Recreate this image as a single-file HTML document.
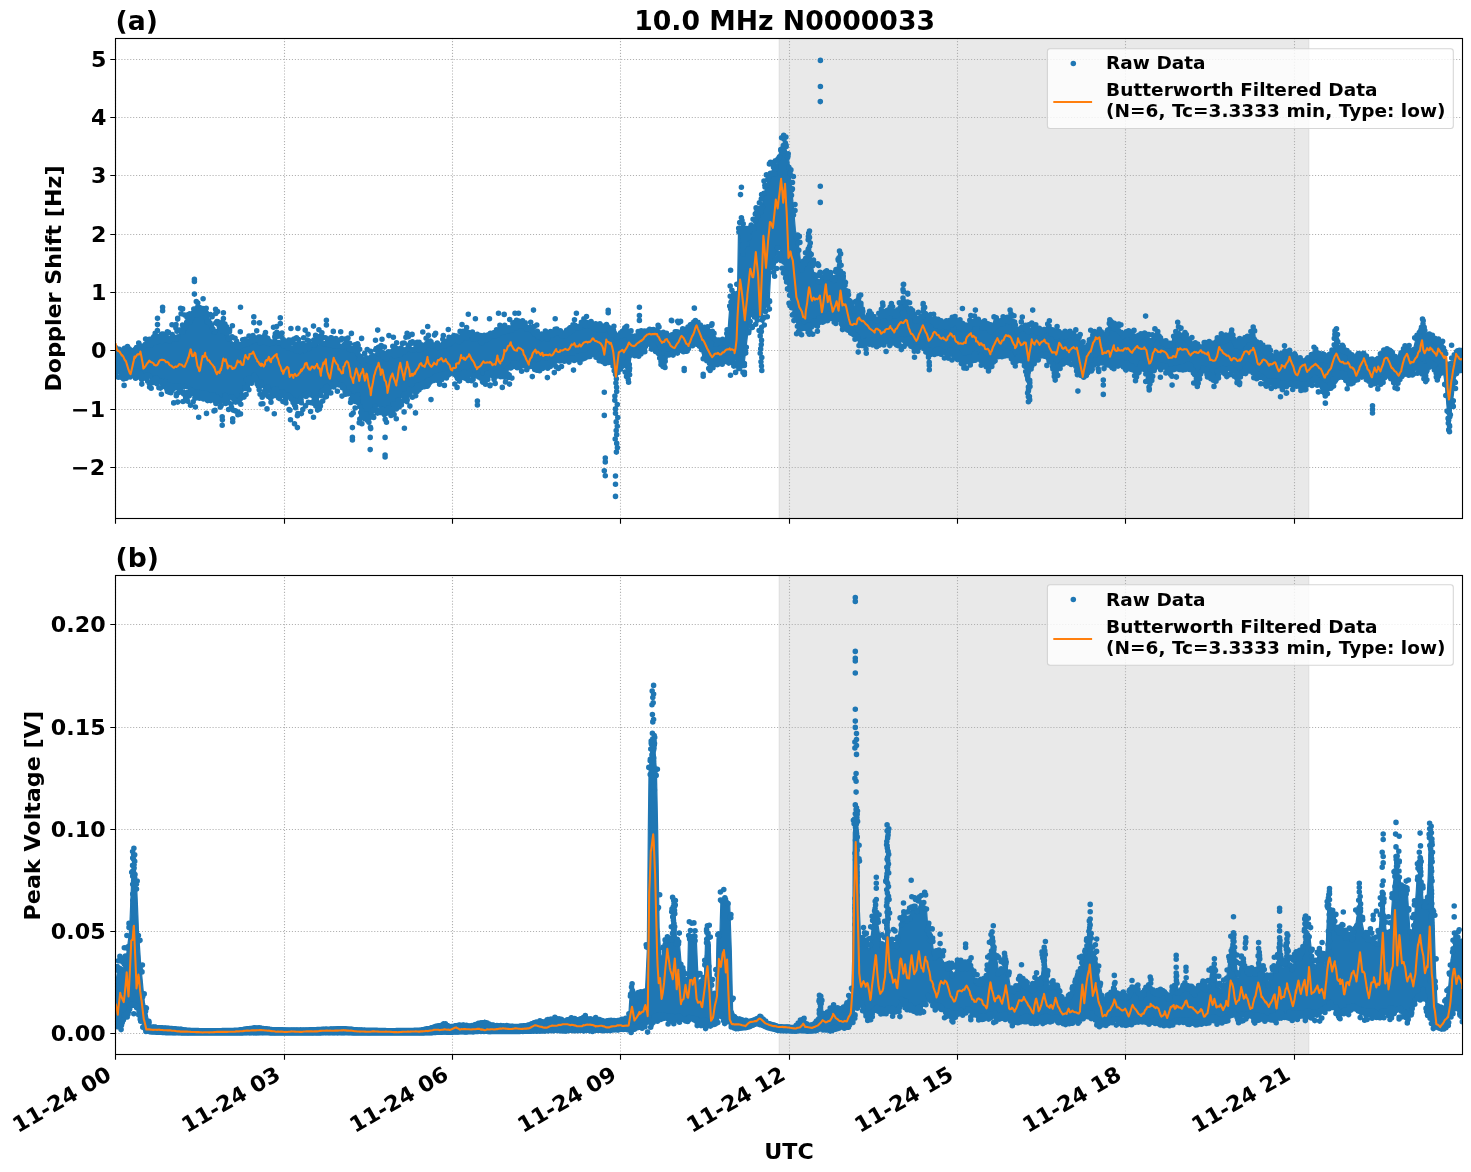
<!DOCTYPE html>
<html lang="en"><head><meta charset="utf-8"><title>10.0 MHz N0000033</title>
<style>html,body{margin:0;padding:0;background:#fff}svg{display:block}</style></head>
<body>
<svg width="1471" height="1172" viewBox="0 0 1471 1172" font-family="DejaVu Sans, 'Liberation Sans', sans-serif" font-weight="bold" fill="#000">
<defs><clipPath id="ca"><rect x="115.5" y="38.5" width="1347.0" height="480.0"/></clipPath><clipPath id="cb"><rect x="115.5" y="575.5" width="1347.0" height="479.0"/></clipPath></defs>
<rect width="1471" height="1172" fill="#fff"/>
<rect x="779.3" y="38.5" width="529.4" height="480.0" fill="#d3d3d3" fill-opacity="0.5" stroke="#d3d3d3" stroke-opacity="0.5" stroke-width="1.39" clip-path="url(#ca)"/>
<path d="M115.5,518.5V38.5M284.5,518.5V38.5M452.5,518.5V38.5M620.5,518.5V38.5M789.5,518.5V38.5M957.5,518.5V38.5M1125.5,518.5V38.5M1294.5,518.5V38.5M115.5,59.5H1462.5M115.5,117.5H1462.5M115.5,175.5H1462.5M115.5,234.5H1462.5M115.5,292.5H1462.5M115.5,350.5H1462.5M115.5,409.5H1462.5M115.5,467.5H1462.5" fill="none" stroke="#b0b0b0" stroke-width="1.11" stroke-dasharray="1.11,1.83"/>
<g clip-path="url(#ca)">
<path d="M115.5,348.8 116.7,349 117.9,349.2 119.1,349.4 120.3,349.7 121.5,349.9 122.7,350.1 123.7,350.3 123.9,350.2 125.1,350.1 126.3,350 127.5,349.8 128.7,349.7 129.6,349.6 129.9,349.5 131.1,349.1 132.3,348.7 133.5,348.2 133.6,348.2 134.7,348.1 135.9,347.9 137.1,347.7 138.3,347.6 139.4,347.4 139.5,347.4 140.7,346.8 141.9,346.3 143.1,345.7 143.4,345.6 144.3,345.2 145.5,344.6 146.7,344 147.9,343.4 149.1,342.9 149.2,342.8 150.3,342.4 151.2,342 151.5,341.9 152.7,341.5 153.9,341 155.1,340.5 156.3,340.1 157.5,339.6 158.7,339.2 159.1,339 159.9,339 161,338.9 161.1,338.9 162.3,338.8 163.5,338.8 164.7,338.7 165.9,338.6 167.1,338.5 168.3,338.4 168.9,338.4 169.5,338.2 170.7,338 171.9,337.7 173.1,337.4 174.3,337 175.5,336.5 176.7,336.1 176.7,336 177.9,335.6 178.7,335.3 179.1,334.7 180.3,333 181.5,331.3 182.7,329.6 183.9,327.9 185.1,326.3 186.3,324.6 187.5,322.9 188.5,321.5 188.7,321.3 189.9,320.1 191.1,318.9 192.3,317.7 193.5,316.5 194.4,315.6 194.7,315.5 195.9,315 197.1,314.5 198.3,314.1 199.5,313.6 200.7,313.1 201.9,312.6 203.1,312.1 204.2,311.7 204.3,312 205.5,314.7 206.7,317.4 207.9,320.1 209.1,322.8 210.3,325.5 211.5,328.2 212,329.4 212.7,329.4 213.9,329.4 215.1,329.4 216.3,329.4 217.5,329.4 217.9,329.4 218.7,329.4 219.9,329.4 221.1,329.4 222.3,329.4 223.5,329.4 223.8,329.4 224.7,330.7 225.9,332.5 227.1,334.3 227.7,335.3 228.3,336.1 229.5,337.9 230.7,339.7 231.7,341.1 231.9,341.4 233.1,342.6 234.3,343.8 235.5,345 236.7,346.2 237.6,347 237.9,347 239.1,346.7 239.5,346.6 240.3,346.5 241.5,346 242.7,345.2 243.9,344.4 245.1,343.6 246.3,342.8 247.4,342.1 247.5,342 248.7,341.5 249.9,340.9 251.1,340.4 252.3,339.8 253.5,339.2 254.7,338.7 255.2,338.5 255.9,338.4 257.1,338.4 257.2,338.4 258.3,339 259.5,339.6 260.7,340.2 261.9,340.7 263.1,341.3 263.1,341.3 264.3,341.6 265.5,341.9 266.7,342.2 267,342.2 267.9,342.2 269.1,342.1 270.3,342.1 271.5,342 272.7,341.9 273.9,341.9 275.1,341.8 276.3,341.8 277.5,341.6 278.7,341.4 278.8,341.4 279.9,341.3 280.7,341.1 281.1,341.4 282.3,342.4 283.5,343.4 284.7,344.3 285.9,345.3 286.6,345.9 287.1,346.2 288.3,347.2 289.5,348.2 290.5,349 290.7,349 291.9,349 293.1,349 294.3,349 295.5,349 296.4,349 296.7,349 297.9,349 299.1,349 300.3,349 301.5,348.9 302.7,348.6 303.9,348.3 305.1,348.1 306.2,347.8 306.3,347.8 307.5,347.6 308.7,347.5 309.9,347.3 311.1,347 312.3,346.6 313.5,346.1 314.1,345.9 314.7,345.6 315.9,345.1 316,345.1 317.1,344.6 318.3,344.2 319.5,343.7 320.7,343.2 321.9,342.7 323.1,342.2 324.3,341.8 325.5,341.2 325.9,341.1 326.7,341.4 327.9,341.9 329.1,342.5 330.3,343 331.5,343.5 332.7,344 333.9,344.5 335.1,345.1 335.7,345.3 336.3,345.4 337.5,345.5 338.7,345.5 339.9,345.6 341.1,345.7 342.3,345.8 343.5,345.9 344.7,346 345.5,346.1 345.9,346.2 347.1,346.3 348.3,346.5 349.5,346.6 350.7,346.8 351.4,346.9 351.9,347.4 353.1,348.7 353.3,348.9 354.3,349.6 355.5,350.4 356.7,351.2 357.9,352.1 359.1,352.9 359.2,353 360,358.8 360.3,358.9 361.5,359.1 362.7,359.3 363.9,359.5 365.1,359.7 366.3,359.9 367.5,360.1 368.7,360.3 369.8,360.4 369.9,360.5 371.1,360.7 371.8,360.8 372.3,359.9 373.5,357.9 374.7,355.9 375.9,353.9 377.1,351.9 377.7,350.9 378.3,351.3 379.5,352.1 380.7,352.8 381.9,353.5 383.1,354.2 384.3,354.9 385.5,355.7 385.5,355.7 386.7,356.4 387.5,356.8 387.9,356.7 389.1,356.3 390.3,355.9 391.5,355.5 392.7,355.1 393.9,354.7 395.1,354.3 395.3,354.2 396.3,353.8 397.5,353.2 398.7,352.6 399.2,352.3 399.9,352 401.1,351.3 402.3,350.7 403.5,350 404.7,349.3 405.1,349.1 405.9,348.8 407.1,348.3 408.3,347.7 409.1,347.4 409.5,347.4 410.7,347.5 411.9,347.5 413.1,347.6 414.3,347.7 414.9,347.7 415.5,347.7 416.7,347.8 417.9,347.9 418.9,348 419.1,347.8 420.3,347.2 421.5,346.5 422.7,345.8 423.9,345.1 425.1,344.4 426.3,343.7 426.7,343.4 427.5,342.9 428.7,342.2 428.7,342.2 429.9,342.7 431.1,343.1 432.3,343.5 433.5,344 434.7,344.4 435.9,344.9 437.1,345.3 438.3,345.7 438.5,345.8 439.5,345.4 440.7,344.9 441.9,344.5 443.1,344 444.3,343.5 445.5,343 446.7,342.5 447.9,342.1 448.3,341.9 449.1,341.7 450.3,341.3 451.5,341 452.7,340.7 453.9,340.3 455.1,340 456.3,339.7 457.5,339.4 458.1,339.2 458.7,338.9 459.9,338.5 461.1,338 462,337.6 462.3,337.5 463.5,337.2 464.7,336.9 465.9,336.5 467.1,336.2 468.3,335.9 469.5,335.6 469.9,335.5 470.7,335.9 471.9,336.5 473.1,337 474.3,337.6 475.5,338.2 476.7,338.8 477.9,339.4 479.1,339.9 479.7,340.2 480.3,340.4 481.5,340.9 481.7,341 482.7,340.4 483.9,339.7 485.1,339 486.3,338.3 487.5,337.6 488.7,337 489.9,336.3 491.1,335.6 492.3,334.9 493.4,334.3 493.5,334.2 494.7,333.7 495.9,333.2 497.1,332.8 498.3,332.3 499.5,331.8 500.7,331.3 501.9,330.8 503.1,330.3 503.2,330.2 504.3,329.7 505.2,329.2 505.5,329.1 506.7,328.7 507.9,328.4 509.1,328.1 510.3,327.7 511.5,327.4 512.7,327 513.1,326.9 513.9,326.8 515.1,326.5 516.3,326.3 517,326.1 517.5,326.1 518.7,326.2 519.9,326.2 521.1,326.3 522.3,326.3 522.9,326.4 523.5,326.5 524.7,326.7 525.9,326.9 527.1,327.2 528.3,327.4 529.5,327.6 530.7,327.9 530.7,327.9 531.9,329.1 532.7,330 533.1,330.4 534.3,331.5 535.5,332.7 536.7,333.8 537.9,334.9 538.6,335.6 539.1,335.6 540.3,335.7 541.5,335.8 542.5,335.9 542.7,336 543.9,336.1 545.1,336.3 546.3,336.4 547.5,336.6 548.4,336.7 548.7,336.4 549.9,335.4 551.1,334.4 552.3,333.4 553.5,332.4 554.3,331.7 554.7,331.3 555.9,330.3 556.2,330 557.1,330.4 558.3,331.1 559.5,331.7 560.7,332.4 561.9,333 563.1,333.7 564.1,334.2 564.3,334.1 565.5,333.3 566.7,332.6 567.9,331.8 569.1,331.1 570.3,330.4 571.5,329.6 572.7,328.9 573.9,328.2 573.9,328.2 575.1,327.7 576.3,327.3 577.5,326.9 578.7,326.5 579.9,326.1 581.1,325.7 582.3,325.3 583.5,324.8 583.7,324.8 584.7,324.4 585.7,324.1 585.9,324.1 587.1,324.5 588.3,324.8 589.5,325.1 590.7,325.4 591.9,325.7 593.1,326 593.5,326.1 594.3,326.4 595.5,326.9 595.5,326.9 596.7,327.1 597.9,327.4 599.1,327.6 600.3,327.9 601.4,328.1 601.5,328.1 602.7,328.4 603.9,328.7 605.1,328.9 606.3,329.2 607.5,329.4 608.7,329.7 609.2,329.8 609.9,329.8 610,329.8 611.1,331 612.3,332.3 613.5,333.5 613.9,334 614.7,334.4 615.9,334.9 617.1,335.5 617.9,335.9 618.3,335.7 619.5,335.1 620.7,334.6 621.8,334.1 621.9,334.1 623.1,334.2 624.3,334.3 625.5,334.3 625.7,334.4 626.7,335.3 627.9,336.5 628.6,337.2 629.1,336.8 630.3,335.6 631.5,334.4 631.6,334.4 632.7,335.1 633.5,335.6 633.9,335.6 635.1,335.3 636.3,335.1 637.5,334.8 638.7,334.6 639.4,334.4 639.9,334.2 641.1,333.6 642.3,333 643.5,332.5 644.7,331.9 645.9,331.3 647.1,330.8 648.3,330.2 649.2,329.7 649.5,329.8 650.7,329.8 651.9,329.9 653.1,330 654.3,330.1 655.5,330.2 656.7,330.2 657.1,330.3 657.9,330.4 659.1,330.7 659.1,330.7 660.3,331.7 661.5,332.8 662.7,333.8 663,334 663.9,334.1 665.1,334.3 666.3,334.4 667.5,334.6 668.7,334.7 668.9,334.8 669.9,334.8 671.1,334.8 672.3,334.8 672.8,334.8 673.5,334.5 674.7,333.9 675.9,333.4 677.1,332.8 678.3,332.2 678.7,332.1 679.5,331.8 680.7,331.5 681.9,331.1 683.1,330.7 684.3,330.4 684.6,330.3 685.5,329.6 686.7,328.8 687.9,328 688.5,327.6 689.1,326.9 690.3,325.3 691.5,323.8 692.4,322.6 692.7,322.3 693.9,320.8 694.4,320.3 695.1,320.9 696.3,322 697.5,323.1 698.3,323.8 698.7,324.4 699.9,326.1 701.1,327.8 702.2,329.5 702.3,329.5 703.5,330 704.2,330.3 704.7,330.5 705.9,330.9 707.1,331.4 708.3,331.8 709.5,332.3 710.1,332.5 710.7,332.4 711.9,332.3 712,332.3 713.1,334.7 714.3,337.3 715.5,340 716.7,342.6 717,343.2 717.9,342.5 719.1,341.6 719.9,341 720.3,340.8 721.5,339.9 721.9,339.7 722.7,339.9 723.9,340.2 725.1,340.5 726.3,340.9 726.8,341 727.5,336.6 727.7,335.3 728.7,321.5 729.7,308.1 729.9,307.8 731.1,306 732.3,303.6 733.5,301.2 734.7,298.8 735.6,297 735.9,296.4 737.1,294 737.5,293.2 738.3,242.6 738.5,230.4 739.5,230.4 740.7,230.4 741.9,230.4 742.4,230.4 743.1,235.8 744.3,245.4 744.4,246.1 744.4,246 745.5,243.5 746.7,240.7 747.4,239.1 747.9,237.9 749.1,235.1 750.3,232.3 750.3,232.3 751.3,230.3 751.5,229.9 752.7,227.5 753.9,225.1 755.1,222.7 756.1,220.6 756.3,220.2 757.5,217.4 758.7,214.6 759.9,211.8 761.1,209 762,206.8 762.3,205.1 763.5,197.3 764,194.1 764.7,191.7 765,190.6 765.9,187.6 767.1,183.6 768.3,179.5 768.9,177.4 769,177.4 769.5,176.7 770.7,175.4 770.9,175.2 771.9,174 773.1,172.6 773.8,171.8 774.3,171.3 775.5,169.9 775.8,169.6 776.7,165.4 777.7,160.7 777.9,160 779.1,154.6 779.7,151.9 780.3,151.1 781.5,149.4 782.6,147.8 782.7,147.7 783.9,146 784.6,145 785.1,146.6 785.6,148.2 786.3,150.5 787.5,154.4 788.5,157.8 788.7,159.5 789.9,171.5 790.1,173.8 791.1,183.4 791.5,187.2 792.3,195.4 792.5,197.4 793.4,206.8 793.5,207.6 794,213.9 794.7,222 795.4,230.4 795.9,232.9 797.1,238.9 798.3,244.9 798.4,245.3 799.3,250 799.5,251.8 800.7,263.8 801.3,269.6 801.9,268.4 803.1,266 804.3,263.7 804.3,263.6 805.2,261.8 805.5,260.4 806.7,254.7 807.9,249 809.1,243.3 809.1,243.1 810.3,251 811.5,259.1 812.7,267.2 813.1,269.6 813.9,273 814.1,273.5 815.1,276.7 816.3,280.4 817,282.6 817.5,282.1 818.7,280.9 819.9,279.8 821.1,278.6 822.3,277.4 823.5,276.3 824.7,275.1 825.9,274 825.9,273.9 826.8,273.3 827.1,273.5 828.3,274.6 829.5,275.7 830.7,276.7 831.9,277.8 833.1,278.9 834.3,280 834.6,280.3 835.5,277.5 835.7,277 836.7,273.7 837.9,269.9 839.1,265.6 839.5,263.8 840.3,267.5 841.5,272.7 842.7,277.7 843.5,280.9 843.9,282.2 845.1,285.8 845.5,286.9 846.3,289.5 847.5,293.3 848.4,296 848.7,296.8 849.9,300 851.1,303.2 852.3,306.3 853.5,309.5 854.3,311.5 854.7,310.6 855.3,309.4 855.9,308.2 857.1,305.8 858.3,303.5 859.2,301.8 859.5,302.1 860,302.5 860.7,304.3 861.9,307.5 863.1,310.6 864.3,313.8 865.5,316.9 865.9,317.9 866.7,317.4 867.9,316.7 867.9,316.7 869.1,316.1 870.3,315.5 871.5,314.8 871.8,314.7 872.7,315.5 873.9,316.5 875.1,317.5 876.3,318.6 877.5,319.6 877.7,319.7 878.7,317.7 879.9,315.3 881.1,313 882.3,310.6 882.6,310.1 883.5,311.6 884.7,313.5 885.9,315.5 887.1,317.4 887.5,318 888.3,316.5 889.5,314.3 890.7,312 891.4,310.7 891.9,311.1 893.1,311.9 894.3,312.8 895.5,313.6 896.7,314.4 897.3,314.8 897.9,313 899.1,309.5 900.3,306 901.5,302.5 902.2,300.5 902.7,300.8 903.2,301.2 903.9,301.6 905.1,302.3 906.3,303 907.1,303.5 907.5,304.3 908.7,306.9 909.1,307.6 909.9,309.7 911.1,312.7 912.3,315.7 913,317.4 913.5,317.8 914.7,318.8 915,319 915.9,319.4 917.1,319.9 918.3,320.4 918.9,320.6 919.5,319.3 920.7,316.6 921.9,314 922.8,312.1 923.1,312.4 924.3,313.8 925.5,315.1 926.7,316.5 927.9,317.8 928.7,318.7 929.1,318.9 930.3,319.6 931.5,320.3 932.7,321 933.9,321.7 935.1,322.4 936.3,323.1 937.5,323.8 938.5,324.4 938.7,324.4 939.9,324.5 941.1,324.7 942.3,324.8 943.5,324.9 944.7,325.1 945.9,325.2 946.3,325.3 947.1,325.2 948.3,325 949.5,323.9 950.7,322.8 951.9,321.7 953.1,320.6 954.2,319.6 954.3,319.7 955.5,320.9 956.7,322.1 957.9,323.3 959.1,324.5 960.3,325.7 961.5,326.9 962,327.4 962.7,327.4 963.9,327.3 965.1,327.2 966.3,327.2 967,327.1 967.5,326.9 968.7,326.5 969.9,326.1 969.9,326.1 971.1,324.9 972.3,323.7 973.5,322.6 973.8,322.3 974.7,321.6 975.8,320.7 975.9,320.9 977.1,321.9 978.3,322.9 979.5,324 980.7,325 981.7,325.8 981.9,326 983.1,326.6 984.3,327.3 985.5,328 986.7,328.7 987.9,329.3 988.5,329.7 989.1,329.8 989.5,329.9 990.3,329.2 991.5,328.2 992.7,327.1 993.9,326.1 995.1,325.1 996.3,324 997.4,323.1 997.5,323.1 998.7,322.9 999.9,322.7 1001.1,322.5 1002.3,322.3 1003.5,322.1 1004.7,321.9 1005.2,321.8 1005.9,321.3 1007.1,320.4 1007.2,320.3 1008.3,319.5 1009.5,318.7 1010.1,318.3 1010.7,319.2 1011.9,321.2 1013.1,323.1 1014.3,325.1 1015.5,327.1 1016,327.9 1016.7,328.9 1017,329.3 1017.9,328.6 1019.1,327.7 1020.3,326.8 1021.5,325.9 1022.7,325 1022.9,324.8 1023.9,325 1024.8,325.2 1025.1,325.6 1026.3,327.3 1026.8,328 1027.5,329.7 1028.4,330.2 1028.7,330.4 1029.9,329.7 1029.9,329.6 1031.1,329.2 1032.3,328.7 1032.7,328.5 1033.5,328.7 1034.7,329 1035.9,329.3 1036.6,329.5 1037.1,329.7 1038.3,330.4 1039.5,331.1 1040.5,331.7 1040.7,331.6 1041.9,331 1043.1,330.5 1044.3,329.9 1045.5,329.3 1046.4,328.8 1046.7,328.8 1047.9,328.8 1049.1,328.8 1049.4,328.8 1050.3,329.8 1051.3,330.8 1051.5,331 1052.7,332 1053.9,333 1055.1,334.1 1055.2,334.2 1056.2,334.5 1056.3,334.5 1057.5,334.5 1058.7,334.6 1059.9,334.7 1061.1,334.7 1062.1,334.7 1062.3,334.8 1063.5,335.1 1064.1,335.2 1064.7,335 1065.9,334.5 1067.1,334.1 1068.3,333.6 1069.5,333.1 1070.7,332.7 1071.9,332.2 1071.9,332.2 1073.1,333.4 1074.3,334.7 1075.5,335.9 1076.7,337.2 1077.8,338.4 1077.9,338.4 1079.1,339.3 1079.8,339.7 1080.3,340.8 1081.5,343.2 1082.7,345.6 1083.7,347.6 1083.9,347.9 1085.1,349.9 1085.7,350.9 1086.3,349.4 1087.5,346.5 1088.7,343.6 1089.6,341.5 1089.9,340.8 1091.1,337.8 1091.5,336.8 1092.3,336.2 1093.5,335.3 1094.7,334.4 1095.5,333.9 1095.9,333.6 1097.1,333 1098.3,332.3 1099.5,331.7 1100.7,331 1101.4,330.6 1101.9,331.7 1103.1,334 1104.3,336.4 1105.3,338.3 1105.5,337.5 1106.7,333.1 1107.9,328.6 1109.1,324.1 1109.2,323.7 1110,324.1 1110.3,324.2 1111.5,324.9 1112.7,325.6 1113.9,326.3 1115.1,327 1116.3,327.7 1117.5,328.4 1117.8,328.6 1118.7,329.5 1119.8,330.6 1119.9,330.7 1121.1,332.1 1122.3,333.4 1123.5,334.8 1123.7,335.1 1124.7,334.6 1125.9,334 1127.1,333.3 1128.3,332.7 1129.5,332.1 1129.6,332.1 1130.7,333 1131.9,334 1133.1,335.1 1134.3,336.1 1135.5,337.1 1135.5,337.1 1136.7,337.5 1137.5,337.7 1137.9,337.4 1139.1,336.3 1140.3,335.3 1141.4,334.4 1141.5,334.4 1142.7,334.2 1143.9,334.1 1145.1,334 1146.3,333.8 1147.5,336.7 1148.7,339.6 1149.2,340.9 1149.9,341.8 1151.1,343.6 1151.2,343.7 1152.3,341.4 1153.5,338.8 1154.7,336.2 1155.1,335.3 1155.9,334 1156.1,333.7 1157.1,334.8 1158.3,336.2 1159.5,337.6 1160.7,339 1161.9,340.4 1163,341.7 1163.1,341.7 1164.3,342.3 1165.5,342.9 1166.7,343.5 1167.9,344.1 1168.9,344.6 1169.1,344.7 1170.3,345.3 1170.8,345.5 1171.5,344.2 1172.7,341.7 1173.9,339.3 1175.1,336.8 1176.3,334.4 1177.5,331.9 1177.7,331.5 1178.7,332.4 1178.7,332.4 1179.9,333.2 1181.1,334 1182.3,334.8 1183.5,335.6 1184.7,336.4 1185.5,336.9 1185.9,337.2 1187.1,338.2 1188.3,339.1 1188.5,339.3 1189.5,340.5 1190.7,342 1191.9,343.5 1192.4,344.1 1193.1,344.6 1194.3,345.5 1195.5,346.3 1196.7,347.2 1197.3,347.6 1197.9,347.7 1199.1,347.8 1200.3,348 1200.3,348 1201.5,347.3 1202.7,346.6 1203.9,345.9 1204.2,345.8 1205.1,345.8 1206.2,345.7 1206.3,345.9 1207.5,346.8 1208.7,347.8 1209.9,348.7 1211.1,349.7 1212,350.4 1212.3,349.9 1213.5,347.6 1214.7,345.3 1215.9,343 1217.1,340.7 1217.9,339.1 1218.3,339.1 1219.5,339 1219.9,339 1220.7,339 1221.9,339.1 1223.1,339.2 1224.3,339.2 1225.5,339.3 1225.8,339.3 1226.7,338.9 1227.9,338.4 1229.1,337.9 1229.7,337.6 1230.3,337.4 1231.5,337.1 1231.7,337.1 1232.7,338.8 1233.9,340.8 1235.1,342.7 1236.3,344.7 1237.5,346.7 1237.5,346.8 1238.7,346 1239.5,345.4 1239.9,345 1241.1,343.6 1242.3,342.3 1243.5,340.9 1244.7,339.5 1245.4,338.7 1245.9,338.3 1247.1,337.3 1247.4,337.1 1248.3,336.9 1249.5,336.5 1250.7,336.2 1251.9,335.8 1253.1,335.5 1253.2,335.5 1254.3,337.8 1255.2,339.9 1255.5,340.5 1256.7,343.1 1257.9,345.7 1259.1,348.3 1259.1,348.4 1260.3,348.5 1261.1,348.6 1261.5,348.7 1262.7,348.9 1263.9,349 1265,349.2 1265.1,349.3 1266.3,350.8 1267.5,352.2 1268.7,353.7 1269,354 1269.9,355 1270.9,356 1271.1,356.1 1272.3,356.1 1273.5,356.2 1274.7,356.3 1275.9,356.3 1276.8,356.4 1277.1,356.4 1278.3,356.6 1278.8,356.7 1279.5,356.3 1280.7,355.7 1281.9,355.2 1283.1,354.6 1284.3,354 1285.5,353.4 1286.6,352.8 1286.7,352.8 1287.9,352 1288.6,351.7 1289.1,352 1290.3,352.7 1291.5,353.4 1292.7,354.1 1293.9,354.8 1295.1,355.5 1296.3,356.2 1296.4,356.3 1297.5,357 1298.7,357.7 1299.9,358.5 1301.1,359.3 1302.3,360 1303.5,360.8 1304.3,361.3 1304.7,361 1305.9,360.2 1307.1,359.4 1307.2,359.3 1308.3,358.4 1309.5,357.3 1310.7,356.3 1311.9,355.2 1313.1,354.2 1314.1,353.3 1314.3,353.2 1315.1,352.8 1315.5,353.2 1316.7,354.1 1317.9,355 1319.1,355.9 1320.3,356.8 1321.5,357.8 1321.9,358.1 1322.7,358.3 1323.9,358.6 1325.1,359 1325.9,359.2 1326.3,359 1327.5,358.7 1328.7,358.3 1329.8,358 1329.9,357.6 1331.1,354.3 1331.7,352.6 1332.3,351.1 1333.5,347.8 1333.7,347.3 1334.7,343.3 1335.9,338.5 1336.3,337.1 1337.1,339.7 1337.6,341.3 1338.3,343.5 1339.5,347.5 1339.6,347.8 1340.7,348.1 1341.9,348.4 1343.1,348.7 1343.5,348.8 1344.3,349.4 1345.5,350.3 1346.7,351.2 1347.4,351.8 1347.9,352.4 1349.1,354.1 1350.3,355.8 1351.5,357.5 1352.7,359.2 1353.3,360 1353.9,359.5 1355.1,358.4 1355.3,358.3 1356.3,357.2 1357.5,356 1358.7,354.8 1359.2,354.3 1359.9,354.1 1361.1,353.6 1362.3,353.1 1363,352.8 1363.5,353.4 1363.9,353.8 1364.7,354.7 1365.9,356 1367.1,357.4 1368.3,358.7 1369.5,360 1370.7,361.3 1371,361.7 1371.9,361.7 1372.8,361.7 1373.1,361.6 1374.3,361.5 1375.5,361.3 1376.4,361.2 1376.7,360.9 1377.9,359.7 1379.1,358.5 1380.3,357.2 1381.5,356 1381.8,355.7 1382.7,354.5 1383.6,353.4 1383.9,353.3 1385.1,352.8 1386.3,352.4 1387.5,351.9 1388.7,351.5 1389,351.4 1389.9,351.6 1390.8,351.8 1391.1,352.3 1392.3,353.9 1393.5,355.5 1394.7,357.2 1395.9,358.8 1396.1,359.1 1397.1,359.8 1397.9,360.4 1398.3,359.6 1399.5,356.9 1400.7,354.3 1401.9,351.6 1403.1,349 1403.3,348.6 1404.3,348.3 1405.5,347.9 1406.7,347.5 1407.8,347.1 1407.9,347.3 1409.1,349.3 1410.3,351.2 1411.5,353.2 1412.2,354.4 1412.7,352.5 1413.9,347.5 1415.1,342.4 1415.8,339.3 1416.3,338.3 1417.5,335.8 1418.7,333.3 1419.4,331.8 1419.9,331 1420.3,330.3 1421.1,329.4 1422.3,328.1 1422.5,327.9 1423.5,330.6 1424.7,333.6 1425.7,336.1 1425.9,335.9 1427.1,335.1 1428.3,334.4 1429.3,333.7 1429.5,333.8 1430.2,334.1 1430.7,334.9 1431.9,336.6 1433.1,338.4 1434.3,340.1 1434.6,340.6 1435.5,340.7 1436.7,340.8 1437.3,340.9 1437.9,340.5 1439.1,339.8 1440,339.3 1440.3,339.9 1441.5,342.3 1442.7,344.6 1443.9,349.1 1444.5,351.4 1445.1,353.5 1445.4,354.5 1446.3,358.9 1447.2,363.1 1447.5,364.1 1448.1,365.8 1448.7,367.1 1449.5,368.4 1449.9,368.7 1450.8,368.5 1451.1,367.4 1452.3,363.5 1452.5,362.7 1453.5,359.1 1454.7,354.5 1455.2,352.5 1455.9,351.9 1457,350.8 1457.1,350.8 1458.3,350.8 1459.5,350.7 1460.7,350.6 1461.9,350.5 1462,350.5 1462,369.8 1461.9,369.8 1460.7,370.2 1459.5,370.5 1458.3,370.9 1457.1,371.2 1457,371.3 1455.9,375.9 1455.2,378.6 1454.7,383.2 1453.5,393.5 1452.5,401.7 1452.3,403.2 1451.1,410.7 1450.8,412.8 1449.9,417.5 1449.5,420.1 1448.7,416 1448.1,413 1447.5,410.3 1447.2,408.7 1446.3,397.6 1445.4,386 1445.1,384 1444.5,379.7 1443.9,375.6 1442.7,367.1 1441.5,368.1 1440.3,369.1 1440,369.4 1439.1,370.6 1437.9,372.3 1437.3,373.2 1436.7,372.2 1435.5,370.3 1434.6,369 1434.3,368.3 1433.1,366.1 1431.9,363.8 1430.7,361.6 1430.2,360.5 1429.5,362.3 1429.3,363 1428.3,365.8 1427.1,369.3 1425.9,372.8 1425.7,373.5 1424.7,371.8 1423.5,369.8 1422.5,368.1 1422.3,367.9 1421.1,366.9 1420.3,366.2 1419.9,365.9 1419.4,365.6 1418.7,366.3 1417.5,367.6 1416.3,368.9 1415.8,369.4 1415.1,370.5 1413.9,372.3 1412.7,374.1 1412.2,374.8 1411.5,374.6 1410.3,374.1 1409.1,373.7 1407.9,373.2 1407.8,373.2 1406.7,373.3 1405.5,373.4 1404.3,373.4 1403.3,373.5 1403.1,373.9 1401.9,376 1400.7,378.1 1399.5,380.2 1398.3,382.3 1397.9,383 1397.1,383.9 1396.1,384.9 1395.9,384.5 1394.7,382.4 1393.5,380.3 1392.3,378.2 1391.1,376.1 1390.8,375.5 1389.9,374.2 1389,372.8 1388.7,373.1 1387.5,374.6 1386.3,376.1 1385.1,377.6 1383.9,379.1 1383.6,379.5 1382.7,380.8 1381.8,382.1 1381.5,382.1 1380.3,382.4 1379.1,382.7 1377.9,383 1376.7,383.2 1376.4,383.3 1375.5,383.3 1374.3,383.4 1373.1,383.4 1372.8,383.4 1371.9,383 1371,382.6 1370.7,382.3 1369.5,381.5 1368.3,380.6 1367.1,379.8 1365.9,378.9 1364.7,378.1 1363.9,377.5 1363.5,377.3 1363,377 1362.3,376.9 1361.1,376.8 1359.9,376.6 1359.2,376.5 1358.7,377 1357.5,378.2 1356.3,379.4 1355.3,380.4 1355.1,380.5 1353.9,381.2 1353.3,381.6 1352.7,381.6 1351.5,381.7 1350.3,381.8 1349.1,381.9 1347.9,381.9 1347.4,382 1346.7,380.4 1345.5,377.9 1344.3,375.3 1343.5,373.7 1343.1,373.8 1341.9,374 1340.7,374.3 1339.6,374.5 1339.5,374.5 1338.3,373.9 1337.6,373.5 1337.1,373.7 1336.3,374 1335.9,374.7 1334.7,377 1333.7,378.9 1333.5,379.3 1332.3,381.2 1331.7,382.2 1331.1,383.4 1329.9,385.7 1329.8,385.9 1328.7,387.4 1327.5,389 1326.3,390.6 1325.9,391.2 1325.1,390.3 1323.9,388.8 1322.7,387.4 1321.9,386.4 1321.5,386 1320.3,384.9 1319.1,383.8 1317.9,382.6 1316.7,381.5 1315.5,380.3 1315.1,379.9 1314.3,379.4 1314.1,379.3 1313.1,380.3 1311.9,381.6 1310.7,382.9 1309.5,384.2 1308.3,385.5 1307.2,386.7 1307.1,386.7 1305.9,386.8 1304.7,386.9 1304.3,386.9 1303.5,386.8 1302.3,386.5 1301.1,386.3 1299.9,386 1298.7,385.8 1297.5,385.5 1296.4,385.3 1296.3,385.3 1295.1,385.2 1293.9,385.1 1292.7,385.1 1291.5,385 1290.3,384.9 1289.1,384.9 1288.6,384.8 1287.9,385 1286.7,385.2 1286.6,385.2 1285.5,385 1284.3,384.8 1283.1,384.6 1281.9,384.3 1280.7,384.1 1279.5,383.8 1278.8,383.7 1278.3,383.5 1277.1,383.1 1276.8,383 1275.9,383.2 1274.7,383.4 1273.5,383.6 1272.3,383.8 1271.1,384 1270.9,384.1 1269.9,384 1269,384 1268.7,383.8 1267.5,382.8 1266.3,381.7 1265.1,380.7 1265,380.6 1263.9,379.9 1262.7,379.2 1261.5,378.5 1261.1,378.2 1260.3,377.8 1259.1,377.2 1259.1,377.1 1257.9,375.9 1256.7,374.7 1255.5,373.5 1255.2,373.2 1254.3,371.9 1253.2,370.3 1253.1,370.2 1251.9,369.1 1250.7,368 1249.5,366.9 1248.3,365.8 1247.4,365 1247.1,365.4 1245.9,367.2 1245.4,368 1244.7,369.1 1243.5,371.1 1242.3,373 1241.1,374.9 1239.9,376.9 1239.5,377.5 1238.7,377.1 1237.5,376.6 1237.5,376.5 1236.3,375.3 1235.1,374.2 1233.9,373 1232.7,371.8 1231.7,370.8 1231.5,370.7 1230.3,370 1229.7,369.7 1229.1,369.8 1227.9,370.1 1226.7,370.4 1225.8,370.7 1225.5,370.7 1224.3,370.9 1223.1,371 1221.9,371.2 1220.7,371.4 1219.9,371.5 1219.5,371.8 1218.3,372.6 1217.9,372.8 1217.1,373.8 1215.9,375.1 1214.7,376.4 1213.5,377.8 1212.3,379.1 1212,379.4 1211.1,378.2 1209.9,376.7 1208.7,375.2 1207.5,373.7 1206.3,372.2 1206.2,372.1 1205.1,370.9 1204.2,370 1203.9,370.4 1202.7,372 1201.5,373.6 1200.3,375.2 1200.3,375.2 1199.1,376.6 1197.9,378.1 1197.3,378.8 1196.7,377.9 1195.5,376.1 1194.3,374.4 1193.1,372.6 1192.4,371.6 1191.9,370.8 1190.7,368.9 1189.5,367.1 1188.5,365.5 1188.3,365.6 1187.1,366.1 1185.9,366.6 1185.5,366.8 1184.7,367.2 1183.5,367.7 1182.3,368.3 1181.1,368.9 1179.9,369.4 1178.7,370 1178.7,370 1177.7,369.6 1177.5,369.6 1176.3,369.9 1175.1,370.2 1173.9,370.4 1172.7,370.7 1171.5,371 1170.8,371.1 1170.3,371 1169.1,370.6 1168.9,370.5 1167.9,370 1166.7,369.4 1165.5,368.8 1164.3,368.2 1163.1,367.6 1163,367.5 1161.9,367.3 1160.7,366.9 1159.5,366.6 1158.3,366.3 1157.1,366 1156.1,365.7 1155.9,365.8 1155.1,366.1 1154.7,367.2 1153.5,370.5 1152.3,373.7 1151.2,376.6 1151.1,376.8 1149.9,379.1 1149.2,380.3 1148.7,379 1147.5,376.1 1146.3,373.3 1145.1,371.1 1143.9,368.9 1142.7,366.7 1141.5,364.6 1141.4,364.4 1140.3,366 1139.1,367.8 1137.9,369.6 1137.5,370.2 1136.7,371.1 1135.5,372.6 1135.5,372.6 1134.3,371.1 1133.1,369.6 1131.9,368.2 1130.7,366.7 1129.6,365.4 1129.5,365.4 1128.3,365.3 1127.1,365.3 1125.9,365.2 1124.7,365.2 1123.7,365.1 1123.5,365 1122.3,364.5 1121.1,364.1 1119.9,363.6 1119.8,363.5 1118.7,363.4 1117.8,363.4 1117.5,363.4 1116.3,363.4 1115.1,363.4 1113.9,363.5 1112.7,363.5 1111.5,363.5 1110.3,363.6 1110,363.6 1109.2,362 1109.1,362.1 1107.9,363.3 1106.7,364.6 1105.5,365.8 1105.3,366 1104.3,364.2 1103.1,362.1 1101.9,359.9 1101.4,359 1100.7,359.2 1099.5,359.7 1098.3,360.1 1097.1,360.6 1095.9,361.1 1095.5,361.2 1094.7,362.2 1093.5,363.6 1092.3,365 1091.5,365.9 1091.1,366.6 1089.9,368.5 1089.6,369 1088.7,370.3 1087.5,372 1086.3,373.8 1085.7,374.7 1085.1,375 1083.9,375.6 1083.7,375.7 1082.7,374.9 1081.5,373.9 1080.3,372.9 1079.8,372.4 1079.1,372.1 1077.9,371.4 1077.8,371.4 1076.7,369.1 1075.5,366.6 1074.3,364.2 1073.1,361.7 1071.9,359.3 1071.9,359.3 1070.7,359.8 1069.5,360.3 1068.3,360.8 1067.1,361.2 1065.9,361.7 1064.7,362.2 1064.1,362.4 1063.5,362.6 1062.3,362.9 1062.1,362.9 1061.1,364.1 1059.9,365.4 1058.7,366.7 1057.5,368 1056.3,369.3 1056.2,369.4 1055.2,370.4 1055.1,370.2 1053.9,368.6 1052.7,367 1051.5,365.3 1051.3,365.1 1050.3,362.9 1049.4,361 1049.1,360.5 1047.9,358.3 1046.7,356 1046.4,355.5 1045.5,355.8 1044.3,356.1 1043.1,356.4 1041.9,356.7 1040.7,357 1040.5,357.1 1039.5,357.1 1038.3,357.1 1037.1,357.2 1036.6,357.2 1035.9,358.2 1034.7,360 1033.5,361.8 1032.7,363.1 1032.3,364.6 1031.1,369.3 1029.9,373.9 1029.9,374.3 1028.7,386.3 1028.4,390 1027.5,380.2 1026.8,373.6 1026.3,371.5 1025.1,366.5 1024.8,365.4 1023.9,361.7 1022.9,357.7 1022.7,357.7 1021.5,358.2 1020.3,358.7 1019.1,359.1 1017.9,359.6 1017,360 1016.7,359.9 1016,359.9 1015.5,359.4 1014.3,358.4 1013.1,357.3 1011.9,356.2 1010.7,355.2 1010.1,354.7 1009.5,354.4 1008.3,354 1007.2,353.6 1007.1,353.6 1005.9,353.6 1005.2,353.6 1004.7,353.6 1003.5,353.4 1002.3,353.3 1001.1,353.2 999.9,353 998.7,352.9 997.5,352.7 997.4,352.7 996.3,354 995.1,355.5 993.9,357 992.7,358.4 991.5,359.9 990.3,361.4 989.5,362.3 989.1,362.8 988.5,363.3 987.9,362.8 986.7,361.9 985.5,360.9 984.3,360 983.1,359 981.9,358.1 981.7,357.9 980.7,357.5 979.5,357 978.3,356.6 977.1,356.1 975.9,355.7 975.8,355.6 974.7,355.6 973.8,355.6 973.5,355.8 972.3,356.9 971.1,358 969.9,359 969.9,359 968.7,359.9 967.5,360.8 967,361.2 966.3,360.8 965.1,360.1 963.9,359.4 962.7,358.6 962,358.2 961.5,357.7 960.3,356.5 959.1,355.3 957.9,354.1 956.7,352.9 955.5,351.7 954.3,350.5 954.2,350.4 953.1,351.2 951.9,352 950.7,352.8 949.5,353.7 948.3,354.5 947.1,355.1 946.3,355.5 945.9,355.3 944.7,354.6 943.5,354 942.3,353.4 941.1,352.8 939.9,352.2 938.7,351.6 938.5,351.5 937.5,351.7 936.3,351.9 935.1,352.1 933.9,352.3 932.7,352.5 931.5,352.7 930.3,353 929.1,353.2 928.7,353.2 927.9,352 926.7,350.2 925.5,348.3 924.3,346.5 923.1,344.6 922.8,344.1 921.9,345.1 920.7,346.4 919.5,347.7 918.9,348.4 918.3,348.6 917.1,349.2 915.9,349.8 915,350.3 914.7,349.9 913.5,348.1 913,347.4 912.3,346.1 911.1,343.9 909.9,341.7 909.1,340.1 908.7,340 907.5,339.8 907.1,339.7 906.3,339.8 905.1,339.9 903.9,340.1 903.2,340.2 902.7,340.1 902.2,340 901.5,340.4 900.3,341.1 899.1,341.8 897.9,342.5 897.3,342.9 896.7,342.7 895.5,342.5 894.3,342.2 893.1,341.9 891.9,341.7 891.4,341.6 890.7,341.9 889.5,342.5 888.3,343 887.5,343.4 887.1,343.3 885.9,342.9 884.7,342.6 883.5,342.2 882.6,341.9 882.3,342 881.1,342.6 879.9,343.2 878.7,343.8 877.7,344.4 877.5,344.3 876.3,343.9 875.1,343.5 873.9,343 872.7,342.6 871.8,342.3 871.5,342.3 870.3,342.2 869.1,342.2 867.9,342.2 867.9,342.2 866.7,342.8 865.9,343.2 865.5,343.1 864.3,342.9 863.1,342.6 861.9,342.4 860.7,342.1 860,342 859.5,341.2 859.2,340.7 858.3,339.8 857.1,338.6 855.9,337.4 855.3,336.8 854.7,336.6 854.3,336.5 853.5,335.4 852.3,333.8 851.1,332.2 849.9,330.5 848.7,328.9 848.4,328.4 847.5,327.1 846.3,325.4 845.5,324.2 845.1,323.8 843.9,322.6 843.5,322.2 842.7,321.2 841.5,319.7 840.3,318.5 839.5,318.2 839.1,318 837.9,318 836.7,318.5 835.7,318.9 835.5,318.9 834.6,319.3 834.3,319.1 833.1,318.5 831.9,317.9 830.7,317.3 829.5,316.7 828.3,316.1 827.1,315.4 826.8,315.3 825.9,315.2 825.9,315.2 824.7,316.2 823.5,317.2 822.3,318.2 821.1,319.3 819.9,320.3 818.7,321.3 817.5,322.4 817,322.8 816.3,322.8 815.1,322.7 814.1,322.7 813.9,322.6 813.1,323.3 812.7,323.6 811.5,324.5 810.3,325.5 809.1,326.4 809.1,326.5 807.9,327.4 806.7,328.4 805.5,329.3 805.2,329.6 804.3,330.3 804.3,330.3 803.1,328.8 801.9,327.2 801.3,326.4 800.7,325.6 799.5,324 799.3,323.7 798.4,322.5 798.3,322.3 797.1,319.7 795.9,317.1 795.4,316 794.7,314.5 794,313 793.5,310.9 793.4,310.6 792.5,306.8 792.3,306.1 791.5,303.2 791.1,301.4 790.1,297 789.9,295.9 788.7,290.3 788.5,289.5 787.5,284 786.3,277.6 785.6,273.8 785.1,271.2 784.6,268.5 783.9,264.7 782.7,258.3 782.6,258.1 781.5,254.2 780.3,250.3 779.7,248.3 779.1,248.9 777.9,250.1 777.7,250.2 776.7,253.9 775.8,257.1 775.5,258.1 774.3,262.2 773.8,264 773.1,264.9 771.9,266.5 770.9,267.9 770.7,271.3 769.5,295.6 769,306.8 768.9,293.4 768.3,296.4 767.1,302.4 765.9,308.3 765,312.7 764.7,312.7 764,312.7 763.5,312.7 762.3,312.7 762,312.7 761.1,312.7 759.9,312.7 758.7,312.7 757.5,312.7 756.3,312.7 756.1,312.7 755.1,312.7 753.9,312.7 752.7,312.7 751.5,312.7 751.3,312.7 750.3,318.6 750.3,318.8 749.1,325.8 747.9,333 747.4,336.2 746.7,341.9 745.5,352.4 744.4,361.7 744.4,361.7 744.3,361.7 743.1,361.4 742.4,361.3 741.9,361.2 740.7,360.9 739.5,360.6 738.5,360.4 738.3,360.4 737.5,360.2 737.1,360.1 735.9,359.8 735.6,359.8 734.7,359 733.5,357.9 732.3,356.8 731.1,355.8 729.9,355.3 729.7,355.2 728.7,357.6 727.7,360 727.5,360.2 726.8,360.7 726.3,360.7 725.1,360.9 723.9,361.1 722.7,361.3 721.9,361.4 721.5,361.6 720.3,362 719.9,362.2 719.1,362.6 717.9,363.1 717,363.6 716.7,363.5 715.5,363.3 714.3,363.1 713.1,362.9 712,362.7 711.9,362.7 710.7,363.1 710.1,363.3 709.5,362.4 708.3,360.4 707.1,358.4 705.9,356.5 704.7,354.5 704.2,353.7 703.5,352.4 702.3,350.1 702.2,350 701.1,347.6 699.9,345 698.7,342.4 698.3,341.6 697.5,341.8 696.3,342.2 695.1,342.6 694.4,342.8 693.9,343.2 692.7,344.1 692.4,344.4 691.5,345.3 690.3,346.6 689.1,347.9 688.5,348.5 687.9,349.1 686.7,350.2 685.5,351.3 684.6,352.2 684.3,352 683.1,351.1 681.9,350.3 680.7,349.4 679.5,348.6 678.7,348 678.3,348.5 677.1,350.2 675.9,351.9 674.7,353.6 673.5,355.2 672.8,356.2 672.3,355.8 671.1,354.9 669.9,354 668.9,353.2 668.7,353.4 667.5,355.3 666.3,357.1 665.1,358.9 663.9,360.7 663,362.1 662.7,361.6 661.5,359.5 660.3,357.5 659.1,355.4 659.1,355.3 657.9,353.4 657.1,352.2 656.7,351.8 655.5,350.6 654.3,349.4 653.1,348.2 651.9,347.1 650.7,345.9 649.5,344.7 649.2,344.4 648.3,345.4 647.1,346.7 645.9,347.9 644.7,349.2 643.5,350.4 642.3,351.6 641.1,352.9 639.9,354.1 639.4,354.6 638.7,354.5 637.5,354.3 636.3,354.2 635.1,354 633.9,353.8 633.5,353.8 632.7,353.5 631.6,353.1 631.5,353.7 630.3,362 629.1,370.3 628.6,373.5 627.9,372.2 626.7,370.1 625.7,368.3 625.5,368 624.3,366.1 623.1,364.2 621.9,362.4 621.8,362.1 620.7,362.9 619.5,363.7 618.3,364.5 617.9,364.8 617.1,365.2 615.9,365.7 614.7,366.3 613.9,366.7 613.5,365.8 612.3,363.2 611.1,360.5 610,358.1 609.9,358.5 609.2,360.6 608.7,360.4 607.5,359.8 606.3,359.3 605.1,358.8 603.9,358.3 602.7,357.8 601.5,357.2 601.4,357.2 600.3,356.7 599.1,356.2 597.9,355.7 596.7,355.1 595.5,354.6 595.5,354.6 594.3,354 593.5,353.7 593.1,353.8 591.9,354.1 590.7,354.4 589.5,354.7 588.3,355 587.1,355.3 585.9,355.6 585.7,355.7 584.7,356 583.7,356.4 583.5,356.5 582.3,357 581.1,357.4 579.9,357.9 578.7,358.4 577.5,358.8 576.3,359.3 575.1,359.8 573.9,360.2 573.9,360.2 572.7,360.2 571.5,360.2 570.3,360.2 569.1,360.1 567.9,360.1 566.7,360.1 565.5,360.1 564.3,360.1 564.1,360.1 563.1,360.3 561.9,360.5 560.7,360.7 559.5,360.9 558.3,361.2 557.1,361.4 556.2,361.5 555.9,361.7 554.7,362.3 554.3,362.5 553.5,362.8 552.3,363.2 551.1,363.6 549.9,363.9 548.7,364.3 548.4,364.4 547.5,364.5 546.3,364.6 545.1,364.8 543.9,364.9 542.7,365 542.5,365 541.5,365.3 540.3,365.6 539.1,366 538.6,366.2 537.9,366.2 536.7,366.3 535.5,366.4 534.3,366.6 533.1,366.7 532.7,366.7 531.9,366.3 530.7,365.6 530.7,365.6 529.5,365.2 528.3,364.8 527.1,364.3 525.9,363.9 524.7,363.5 523.5,363.1 522.9,362.9 522.3,363 521.1,363.4 519.9,363.7 518.7,364.1 517.5,364.5 517,364.6 516.3,364.9 515.1,365.3 513.9,365.7 513.1,366 512.7,366.3 511.5,367.1 510.3,367.9 509.1,368.7 507.9,369.6 506.7,370.4 505.5,371.2 505.2,371.4 504.3,372.1 503.2,372.9 503.1,372.9 501.9,373 500.7,373.1 499.5,373.2 498.3,373.3 497.1,373.4 495.9,373.5 494.7,373.6 493.5,373.8 493.4,373.8 492.3,374 491.1,374.3 489.9,374.6 488.7,374.9 487.5,375.2 486.3,375.5 485.1,375.8 483.9,376 482.7,376.3 481.7,376.6 481.5,376.6 480.3,376.6 479.7,376.6 479.1,376.4 477.9,375.9 476.7,375.4 475.5,374.9 474.3,374.4 473.1,373.9 471.9,373.4 470.7,372.9 469.9,372.5 469.5,372.6 468.3,373 467.1,373.4 465.9,373.8 464.7,374.2 463.5,374.5 462.3,374.9 462,375 461.1,375.3 459.9,375.8 458.7,376.2 458.1,376.4 457.5,376.2 456.3,375.9 455.1,375.6 453.9,375.3 452.7,375 451.5,374.8 450.3,374.5 449.1,374.2 448.3,374 447.9,374.1 446.7,374.6 445.5,375.1 444.3,375.6 443.1,376 441.9,376.5 440.7,377 439.5,377.5 438.5,377.9 438.3,378 437.1,378.5 435.9,379 434.7,379.5 433.5,380 432.3,380.6 431.1,381.1 429.9,381.6 428.7,382.1 428.7,382.1 427.5,382.9 426.7,383.4 426.3,383.6 425.1,384.3 423.9,384.9 422.7,385.5 421.5,386.1 420.3,386.8 419.1,387.4 418.9,387.5 417.9,387.9 416.7,388.3 415.5,388.7 414.9,389 414.3,389.2 413.1,389.8 411.9,390.3 410.7,390.9 409.5,391.4 409.1,391.6 408.3,392 407.1,392.7 405.9,393.4 405.1,393.8 404.7,394.3 403.5,395.5 402.3,396.8 401.1,398.1 399.9,399.3 399.2,400 398.7,400.6 397.5,401.8 396.3,403.1 395.3,404.2 395.1,404.4 393.9,405.6 392.7,406.8 391.5,408 390.3,409.2 389.1,410.4 387.9,411.6 387.5,412 386.7,412.8 385.5,414 385.5,414 384.3,412.8 383.1,411.6 381.9,410.4 380.7,409.1 379.5,407.9 378.3,406.8 377.7,406.1 377.1,406.9 375.9,408.7 374.7,410.5 373.5,412.3 372.3,414.1 371.8,414.9 371.1,415.9 369.9,417.7 369.8,417.9 368.7,417 367.5,416 366.3,415.1 365.1,414.1 363.9,413.2 362.7,412.2 361.5,411.2 360.3,410.3 360,410 359.2,396.2 359.1,396.3 357.9,396.7 356.7,397.1 355.5,397.6 354.3,398 353.3,398.3 353.1,398.1 351.9,396.6 351.4,396 350.7,395.3 349.5,394.1 348.3,392.9 347.1,391.7 345.9,390.5 345.5,390.1 344.7,389.5 343.5,388.5 342.3,387.6 341.1,386.6 339.9,385.7 338.7,384.7 337.5,383.8 336.3,382.8 335.7,382.3 335.1,382.8 333.9,383.8 332.7,384.8 331.5,385.8 330.3,386.8 329.1,387.8 327.9,388.8 326.7,389.8 325.9,390.5 325.5,390.8 324.3,391.7 323.1,392.7 321.9,393.7 320.7,394.7 319.5,395.7 318.3,396.7 317.1,397.7 316,398.6 315.9,398.7 314.7,399.7 314.1,400.2 313.5,399.6 312.3,398.4 311.1,397.2 309.9,396.3 308.7,395.4 307.5,394.5 306.3,393.6 306.2,393.5 305.1,394.6 303.9,395.8 302.7,397 301.5,398.2 300.3,399.5 299.1,400.9 297.9,402.4 296.7,403.8 296.4,404.2 295.5,403.4 294.3,402.5 293.1,401.5 291.9,400.5 290.7,399.6 290.5,399.4 289.5,398.6 288.3,397.7 287.1,396.7 286.6,396.3 285.9,395.9 284.7,395.3 283.5,394.7 282.3,394.1 281.1,393.5 280.7,393.4 279.9,392.9 278.8,392.4 278.7,392.3 277.5,391.9 276.3,391.5 275.1,391.1 273.9,390.8 272.7,390.4 271.5,390.1 270.3,389.8 269.1,389.4 267.9,389.1 267,388.9 266.7,388.8 265.5,388.3 264.3,387.9 263.1,387.5 263.1,387.5 261.9,385.8 260.7,384.1 259.5,382.3 258.3,380.5 257.2,378.9 257.1,378.8 255.9,377.2 255.2,376.2 254.7,376.6 253.5,377.4 252.3,378.2 251.1,379 249.9,379.9 248.7,380.7 247.5,381.5 247.4,381.6 246.3,384 245.1,386.8 243.9,389.5 242.7,392.2 241.5,395 240.3,398 239.5,400.2 239.1,400.2 237.9,400 237.6,399.9 236.7,399.8 235.5,399.6 234.3,399.4 233.1,399.2 231.9,399 231.7,398.9 230.7,398.8 229.5,398.6 228.3,398.4 227.7,398.3 227.1,398.3 225.9,398.3 224.7,398.3 223.8,398.3 223.5,398.3 222.3,398.3 221.1,398.3 219.9,398.3 218.7,398.3 217.9,398.3 217.5,398.2 216.3,397.9 215.1,397.7 213.9,397.5 212.7,397.2 212,397.1 211.5,397 210.3,396.7 209.1,396.5 207.9,396.3 206.7,396 205.5,395.8 204.3,395.5 204.2,395.5 203.1,395.3 201.9,395.1 200.7,394.8 199.5,394.6 198.3,394.3 197.1,393.6 195.9,392.9 194.7,392.2 194.4,392 193.5,391.5 192.3,390.7 191.1,390 189.9,389.3 188.7,388.6 188.5,388.5 187.5,388.5 186.3,388.5 185.1,388.5 183.9,388.5 182.7,388.5 181.5,388.5 180.3,388.5 179.1,388.5 178.7,388.5 177.9,388.5 176.7,388.5 176.7,388.4 175.5,387.8 174.3,387.2 173.1,386.7 171.9,386.3 170.7,385.9 169.5,385.5 168.9,385.3 168.3,385.1 167.1,384.7 165.9,384.2 164.7,383.8 163.5,383.3 162.3,382.9 161.1,382.4 161,382.4 159.9,381.9 159.1,381.5 158.7,381.4 157.5,380.9 156.3,380.5 155.1,380 153.9,379.6 152.7,379.1 151.5,378.7 151.2,378.5 150.3,378.3 149.2,378 149.1,377.9 147.9,377.6 146.7,377.3 145.5,376.9 144.3,376.6 143.4,376.3 143.1,376.2 141.9,375.8 140.7,375.4 139.5,374.9 139.4,374.9 138.3,374.4 137.1,373.9 135.9,373.4 134.7,372.8 133.6,372.3 133.5,372.4 132.3,373 131.1,373.7 129.9,374.3 129.6,374.5 128.7,374.9 127.5,375.5 126.3,376.1 125.1,376.7 123.9,377.3 123.7,377.4 122.7,376.6 121.5,375.6 120.3,374.7 119.1,373.8 117.9,372.8 116.7,371.9 115.5,371Z" fill="#1f77b4" stroke="#1f77b4" stroke-width="1.2" stroke-linejoin="round"/>
<path d="M115.5,348.1h0M115.9,347.7h0M115,348.9h0M115.9,372.6h0M116.5,368.6h0M117,368.8h0M119.3,349.4h0M117.7,351.7h0M118.2,351.4h0M117.7,370.7h0M117.8,370.6h0M118.4,377.3h0M121.4,351.2h0M120.2,350.9h0M120.4,351.6h0M121,377.2h0M121.4,373.6h0M120.8,376.2h0M122.7,350.4h0M123,352.3h0M122.8,351.4h0M123.5,378.9h0M121.9,377.4h0M123.3,374.4h0M124.5,348.3h0M126.3,352.4h0M124.6,352.3h0M126.2,378.2h0M125.3,377.3h0M124.1,375.7h0M128,351.3h0M127.5,346.6h0M128.3,349.4h0M126.8,374.1h0M127.2,376.6h0M127.8,372.9h0M129.1,348.9h0M130.6,350h0M129.3,350.6h0M130.2,377h0M129.2,376.1h0M130.1,371.9h0M132.2,350.9h0M131.6,350.5h0M132,350.7h0M131.9,375h0M132.1,370.9h0M132.3,371.7h0M134.9,350.2h0M134.9,350.3h0M135.4,349.2h0M134.4,373.5h0M134.6,370.7h0M134.7,374.4h0M137.5,347.9h0M137.5,349.6h0M136.5,347.6h0M135.6,378.3h0M137.7,371.6h0M136,371.6h0M139,343.7h0M138.7,343.1h0M138.3,348.8h0M139.4,377.1h0M139.8,373.1h0M137.9,376h0M141.9,348.3h0M140.7,346h0M141,346h0M141.7,379.4h0M141.8,384.1h0M140.6,373.9h0M143.8,345.8h0M143.3,346.7h0M143.8,346.4h0M144.5,376.6h0M142.6,377.1h0M144.4,377.6h0M146.2,345.2h0M145.6,339h0M145.4,344.3h0M146,375.6h0M146.5,378.7h0M144.8,376.5h0M149,345.1h0M147.6,344.2h0M147.5,341.1h0M148.7,375.3h0M149.2,383.3h0M147.7,381.3h0M150.8,345h0M149.4,339.3h0M150.4,340.8h0M149.5,376h0M149.6,387.1h0M150.8,382.5h0M153.2,337.5h0M152.9,343.3h0M152.3,342.8h0M152.7,380.2h0M152.6,380.8h0M152.4,382.7h0M154.7,338.8h0M155.2,333.3h0M154,336.6h0M154.2,380.9h0M155.4,379.3h0M155.7,377.9h0M157.4,330.6h0M156.5,341.9h0M158.5,338.9h0M157,379.3h0M156.9,383.7h0M156.6,382.6h0M160.6,340.4h0M160.6,340.9h0M159,336.2h0M158.9,387.7h0M158.7,381.1h0M160.4,388.1h0M161.9,334h0M161.6,339.2h0M161.8,341.6h0M161,381.4h0M161.5,382.1h0M161.8,382.8h0M163.2,334.1h0M164.3,336.2h0M164.8,337.3h0M164.3,386.6h0M164.4,385.5h0M165.2,381.5h0M165.7,339.8h0M167.4,331.7h0M166.2,335.1h0M167.4,391.4h0M166.8,389h0M167.5,389.3h0M168.4,332.4h0M169.1,338.9h0M169.4,341h0M168.9,384.8h0M170,388.3h0M169.2,392.2h0M170.4,338.9h0M172,324.8h0M172.1,334.6h0M170.9,392.7h0M170.8,385.8h0M172.1,390.6h0M173.3,336.5h0M173.1,339.1h0M173.4,338.6h0M173.7,402.9h0M173.6,386.7h0M173.7,388.4h0M176.5,339.1h0M175.9,327.9h0M176,324.6h0M175.3,386.1h0M176.3,395.7h0M176.8,393.7h0M178.1,336.9h0M177.7,318.3h0M177,331.3h0M178,385.8h0M178.5,388.2h0M178.4,392.7h0M180.6,329.9h0M181.1,332.1h0M181.1,313.8h0M180.9,387.2h0M180.7,392h0M180.1,386.2h0M182.5,325h0M182.9,332.2h0M182.7,330.8h0M183,401.5h0M183,391.9h0M183.7,394.1h0M185.7,326.3h0M184.7,315.1h0M185.1,328.1h0M185.7,397.3h0M185,394h0M184.8,386.5h0M188.3,314.6h0M187.1,317.4h0M186.7,322.2h0M186.8,395.1h0M187,398.1h0M187.8,392h0M190.3,317.9h0M189.8,313.8h0M190.2,322.1h0M189.2,395.8h0M190.4,389.6h0M190.5,405.2h0M192.5,316.2h0M191.2,316.4h0M191.8,317.7h0M192.4,390.9h0M191.1,392.3h0M192.4,391.3h0M194.7,310.6h0M193.8,309.1h0M193.3,312.7h0M193.2,393.7h0M193.2,401.8h0M194.9,398h0M197.2,307.6h0M196.9,315.3h0M196.2,311.4h0M195.9,394.7h0M195.9,394h0M196.1,398h0M197.8,303.1h0M199.6,307.6h0M199.7,313.6h0M199.6,398.3h0M197.7,391.9h0M199.2,395.9h0M201,308.9h0M202,313.2h0M200.1,313.2h0M200.3,392.7h0M201.6,393.6h0M201.9,393.1h0M204.4,311h0M202.8,308.5h0M203.1,298.7h0M203.5,399h0M203.2,395.2h0M204.2,392.9h0M206.2,308.2h0M206.3,312.9h0M206.6,317.7h0M206.5,413.4h0M205.6,396.1h0M206.8,394.1h0M207.2,314.2h0M208.5,320.8h0M207.1,321.8h0M207.1,394.6h0M207.6,400.6h0M208.6,395.1h0M210.1,323.1h0M210.4,314.5h0M211.3,325h0M209.4,399.9h0M210.8,398.6h0M210.7,400.6h0M212.1,316.7h0M212.3,328.6h0M212.8,328.8h0M213.3,394.9h0M212.3,398.2h0M213.1,399.7h0M215.8,323.1h0M214.5,332.1h0M215.8,313.4h0M215.9,403.5h0M215.6,401.7h0M215,410.4h0M217.6,311.5h0M216.9,321.5h0M217.1,322.2h0M217.3,399.1h0M217.3,397.4h0M216.5,399h0M218.6,322h0M219,325.8h0M219.6,327.6h0M218.6,399.1h0M220.3,401.8h0M220.3,407.1h0M222,330.7h0M222.7,326.3h0M222.8,322.2h0M222.3,400.5h0M221.1,405.8h0M222.4,419.7h0M224.9,324h0M224.3,331.8h0M223.4,318.6h0M224.5,399.1h0M225,399.2h0M225.1,395.6h0M226.5,326.7h0M227.1,333.4h0M226,328.8h0M226.4,397.7h0M225.7,403.5h0M227.5,400.3h0M228.5,338.6h0M229.6,329.9h0M229.5,331.8h0M228.6,409.5h0M228.7,397.7h0M228.6,402.5h0M229.9,337.8h0M230.5,338.3h0M232.1,336.7h0M231,403.7h0M231.6,396.8h0M231.5,407.4h0M232.4,325.8h0M234.3,344.5h0M233.3,345.3h0M233.1,398.1h0M233.5,398.7h0M233.4,410.3h0M236.6,341.2h0M235.7,346.4h0M235.1,338.2h0M235.6,402.1h0M236,400.7h0M235.4,410.9h0M238.8,346.7h0M238.7,344.3h0M237.2,344h0M237.7,401.7h0M237.9,414.8h0M238,412.1h0M240.2,346.5h0M240.5,307.3h0M240.3,331.8h0M240.8,404.3h0M240.7,398.5h0M239.4,400h0M243.5,345.1h0M242.7,339.7h0M242.9,343.8h0M241.9,395.7h0M242.7,395.2h0M243.3,395.8h0M244.4,343.9h0M245.1,339.2h0M244.8,341.5h0M244,397.1h0M244.9,387.8h0M244.9,388.5h0M247.2,343.4h0M246.9,341.3h0M247.4,343.9h0M246.5,379.5h0M247.3,386.5h0M246.1,394.5h0M250,342.5h0M248.4,341.2h0M249,336h0M248.4,381.6h0M250.4,380.4h0M248.8,378h0M251.3,341h0M251.4,338.9h0M251.9,340.3h0M251.5,383.3h0M251.8,379.2h0M251.5,382.8h0M253,335.6h0M253.3,337.2h0M253.5,340.5h0M254.1,379.9h0M253.7,379.7h0M254.1,375.2h0M256.7,330.8h0M255.9,338.2h0M255.5,339.9h0M255.7,377.9h0M257.2,380.9h0M257.1,384.1h0M258.8,337.1h0M259,337.5h0M259.5,322.9h0M258.3,386.1h0M259.2,389.8h0M258.4,383h0M259.9,337h0M259.9,340.3h0M260,343h0M260.9,381.8h0M261.8,384.7h0M261.6,385.6h0M262.6,341.9h0M262.9,339.5h0M262.8,337.7h0M262.9,394.7h0M262.2,397.2h0M262.9,403.7h0M265.9,341.2h0M265.5,332.5h0M264.8,335h0M265.5,389.1h0M264.4,391.4h0M265.2,394.7h0M266.9,342.8h0M268.8,341.2h0M267.7,338.2h0M268.4,396.4h0M267.9,387.1h0M268.7,390.8h0M269.2,342.7h0M269.4,341h0M269.6,343.8h0M271.1,397.4h0M270.4,398h0M271,402.2h0M273.5,327.3h0M272.8,343.1h0M273.4,341.8h0M271.7,392h0M273,395h0M272.9,392h0M274.8,341.2h0M275.3,333.9h0M274.8,336.9h0M274.7,395.4h0M274.3,413.8h0M274.5,389h0M276.6,326.5h0M276.9,332.3h0M276.8,336.7h0M276.3,389h0M277.1,391.8h0M277.6,395.3h0M278.5,335.5h0M279,335.8h0M278.5,342.6h0M278.6,398.1h0M279.1,392.8h0M279.5,398.6h0M281.9,337.6h0M282.2,342.2h0M282,333.1h0M280.8,395.4h0M281.3,393.8h0M282,391.7h0M283.3,339.5h0M283.6,345.9h0M283.3,343.3h0M283.4,392.9h0M284.5,395.8h0M282.9,401.4h0M287.2,345.2h0M285.3,342.6h0M285.6,341.9h0M285.4,401.7h0M285.9,403h0M285.4,399.8h0M287.8,348.1h0M288.2,344.6h0M288.8,340h0M289.4,396.2h0M289.1,409.6h0M288,395.3h0M290.9,340.3h0M289.8,343.7h0M291.7,348.7h0M289.9,410.3h0M290.7,397.8h0M291,398.8h0M292.4,348.5h0M293.9,343.5h0M294,339h0M293.8,400.2h0M292.6,400.6h0M293.1,402.5h0M296.5,337.7h0M296.2,350.9h0M295.3,347.3h0M295.5,406.5h0M295.6,407.7h0M294.6,405.1h0M298.5,339.5h0M298.3,344.1h0M297.9,328.4h0M297.9,413.6h0M297.4,415.8h0M298,401.3h0M300.8,344.3h0M300,347.5h0M299.6,351.5h0M300.9,397.6h0M300,399.2h0M301.1,399.9h0M301.3,345.5h0M303,343.5h0M302.5,349.6h0M301.4,413.6h0M301.4,402.8h0M302.8,409.5h0M304.6,350.6h0M304.2,346.2h0M303.7,337.7h0M305.5,405.9h0M304.3,394.7h0M303.6,395.2h0M305.9,346h0M307.3,340.1h0M306.2,345.5h0M306.1,396.4h0M306.2,394.2h0M307.9,393.1h0M308.6,340.8h0M308.1,334.2h0M309.3,348.4h0M308.3,402.4h0M308.6,393.7h0M309.2,394.7h0M310.8,344.5h0M311.9,344.3h0M311.4,344.6h0M310.6,411.5h0M311.4,402.6h0M311.2,402.7h0M314.5,341.8h0M314.5,345.3h0M313.8,340.1h0M314,400.8h0M314.5,402.2h0M313.9,403.5h0M315.6,335.4h0M316.3,342.6h0M315.5,340h0M316.5,398.1h0M315.8,406h0M316.4,400.9h0M318.9,329.7h0M317.3,336.7h0M319.2,341.7h0M317.5,402.3h0M317.6,410.1h0M319.4,409.1h0M321.1,341.8h0M321.3,342.6h0M320.2,336.3h0M320.8,392.2h0M320,406.4h0M320.9,395.5h0M322.8,337.3h0M322.2,338h0M321.9,332.8h0M322.6,390.8h0M322.7,401.1h0M323.8,390.2h0M325.5,337.7h0M325.4,343.6h0M324.4,343.9h0M325.3,389.2h0M326.4,396.6h0M325,397.1h0M327.6,344.2h0M328.5,341.4h0M328.1,341.6h0M326.6,386.6h0M326.5,394.9h0M326.9,388.2h0M329.3,343.3h0M330.8,337.7h0M329.5,345h0M328.8,392.6h0M329.3,388h0M330.8,392.9h0M331.4,337.8h0M331.4,340.4h0M332.4,341.8h0M332.8,383.8h0M332.7,384h0M333.2,385h0M334,346.1h0M333.9,344h0M334.2,343.5h0M335.3,381.4h0M334.3,384.6h0M333.9,386.9h0M337,342.8h0M335.9,338.5h0M337.7,344.9h0M337.4,391.2h0M336.6,384.5h0M335.7,384.8h0M339.9,346h0M338.3,345.9h0M338.2,340.7h0M338.5,384.4h0M338.7,384.4h0M339.2,385h0M341.8,338.5h0M340.7,339.9h0M340.7,331.7h0M342.4,387.8h0M342,396.1h0M341.8,384.7h0M342.7,347h0M344,346.1h0M344.5,344.6h0M343.5,386.9h0M344.1,387.2h0M342.9,388h0M345.4,339.6h0M346,338.9h0M346.1,342.3h0M346.8,392.6h0M345.7,394.3h0M345.1,391.5h0M347.7,346h0M348,338h0M348.7,343.1h0M347.4,392.1h0M348.5,392.9h0M348.7,393.7h0M350.6,348.2h0M349.6,349.4h0M349.7,343.4h0M351.1,399.3h0M351.5,414.7h0M350.6,402.4h0M353.2,348.8h0M351.8,349.8h0M353.6,348.5h0M352.5,401h0M353.2,413.1h0M352.7,396.5h0M355.5,348.6h0M355.4,350.8h0M354.9,344.8h0M355.2,401.5h0M355.1,408h0M356.2,400.7h0M358,354.1h0M357.5,343.9h0M358.1,345.3h0M357.5,398.4h0M358,402.4h0M357.7,394.8h0M359.7,349.2h0M360.2,356.6h0M359.5,359.3h0M359.7,406.4h0M360.8,412.5h0M359.8,419.1h0M361.1,356.5h0M362.1,361.6h0M361.6,338.4h0M361.7,410.8h0M361.7,415.9h0M361.9,423.8h0M364.7,353.2h0M364.6,359.9h0M363.3,360.9h0M363.6,416.7h0M364.7,418.7h0M365.1,418.2h0M367.2,349.5h0M366.5,357.7h0M367.5,358.3h0M366,414.3h0M367.6,420.6h0M366,413.9h0M369.1,359.3h0M368,360.4h0M368.9,358.3h0M368.1,416.8h0M368.9,422.3h0M368.3,417.2h0M371.8,355.9h0M370.5,361.5h0M370.7,351.4h0M370.7,428.6h0M370.4,427.4h0M370.5,417.2h0M372.5,355.9h0M373.5,355.9h0M373.2,360.1h0M372.9,415.7h0M373.7,417.5h0M373.2,410h0M376.2,348.5h0M375.5,340.3h0M375.7,349.7h0M375.3,410.5h0M375.3,406.2h0M376.8,410.9h0M377.9,353.6h0M378.4,347.4h0M379,350h0M377.6,410.3h0M377.5,413.1h0M379.1,410.8h0M381.2,345.6h0M379.5,352.9h0M380,349.8h0M381.2,410.9h0M380.6,412.5h0M381.6,410.4h0M382.9,356.7h0M383.2,352.7h0M382,339.3h0M382.1,411.4h0M382,412.1h0M382.4,409.2h0M384.3,355.1h0M384.4,347.1h0M386,357.4h0M385.2,419.4h0M384.3,414.6h0M384.8,412.4h0M388.3,351.8h0M386.8,356.2h0M386.4,359h0M386.7,409.7h0M386.5,413.3h0M386.5,422.3h0M390,354.2h0M388.9,335.6h0M389.5,354.1h0M389.8,412h0M388.6,407.7h0M389.6,409.6h0M392.7,351h0M390.9,351.7h0M392.8,346.3h0M392.4,410.2h0M391,415.4h0M392.4,411.9h0M395.1,347.6h0M394.6,355.9h0M393.8,352.5h0M393.3,404h0M394.1,414.5h0M394.5,407.8h0M397.6,348.9h0M396.7,351.2h0M396.6,342.8h0M396.5,408.6h0M396.3,408.9h0M395.7,404h0M398,352.4h0M399.8,353.4h0M399.1,354.7h0M398.7,403.7h0M399.2,406.9h0M398.4,400h0M401.2,348h0M400.7,353.9h0M401.4,349.1h0M401.2,404.8h0M401,401.5h0M401.4,405h0M402.5,343.4h0M404.5,351.4h0M404.2,343h0M403.6,400.6h0M404.6,393.8h0M403.4,395.8h0M405,349.8h0M405.9,337.3h0M405.7,350.5h0M406.8,401.6h0M406.2,393.7h0M406.1,398.6h0M408.3,345h0M408.3,336.8h0M407.3,348.8h0M408.2,393.2h0M407.3,393.2h0M407.2,400.1h0M409.9,344.4h0M410.6,342.5h0M411.4,350.1h0M409.9,406.1h0M409.7,395h0M409.4,389.3h0M413.5,342.9h0M412.4,341.7h0M412.1,334.4h0M412.4,397.2h0M412.2,390.9h0M413.8,391.2h0M415.9,347.7h0M413.9,350.1h0M416.1,346.5h0M415.7,395.7h0M415.6,388.3h0M415.8,391.6h0M418.1,342.9h0M417.2,342.2h0M417.5,348h0M417,385.6h0M417.2,390.1h0M417.1,391.4h0M418.8,350.1h0M419.1,342.4h0M419.1,344.3h0M419.1,389.8h0M418.8,385.6h0M420.2,386.7h0M422.8,332h0M421.8,344.7h0M421.7,349h0M420.9,387.8h0M422.9,385.8h0M422.7,384.6h0M424,347.5h0M424.6,346.3h0M423.9,345.7h0M423.3,383.3h0M424.3,386.7h0M425,383.3h0M427.3,344.1h0M426.7,343.6h0M426.1,338.2h0M427.2,381.4h0M427.3,386.3h0M425.7,385.1h0M428.1,344.9h0M428.9,341.6h0M428.4,335.4h0M428.2,385.1h0M429.2,383.2h0M428.2,380.3h0M431,341.7h0M430.2,341h0M431.2,345.1h0M431,399.6h0M430.5,381.7h0M432,379.2h0M432.4,346.3h0M434.5,335.1h0M433,344.8h0M434.2,377.9h0M433.7,378.5h0M433.8,380.5h0M435.6,333.4h0M436.7,345.4h0M436.6,344.3h0M435.8,376.5h0M435.2,376.5h0M436.5,376.9h0M437.3,343h0M437.8,347.4h0M437.6,345.7h0M437.8,377.1h0M438.7,380.6h0M437,380.3h0M440.1,347h0M439.3,345.7h0M441.2,345.5h0M439.6,384.2h0M439.4,379.8h0M439.3,375.1h0M443.3,335.6h0M442.8,339.2h0M442.7,344.2h0M443.6,373.9h0M441.6,379.8h0M442.5,374.7h0M445.1,341.8h0M444.8,345.7h0M445,342.2h0M445.2,374h0M445.6,377.8h0M444.7,376.7h0M448.1,343.8h0M447.8,344.3h0M448.1,340.6h0M446.7,373.3h0M446.4,378h0M447.6,375.6h0M449.2,342.8h0M449,337.2h0M449.8,344.1h0M448.9,372.5h0M449.8,371.7h0M449.4,374.2h0M452.5,341.8h0M451.9,338.7h0M451.4,342.4h0M452.1,372.6h0M451.2,372.4h0M451.5,372.8h0M453.9,335.6h0M453.5,336.6h0M454.4,337.3h0M454.8,374.5h0M455.1,374.6h0M454.8,384h0M456.4,336h0M456,337.4h0M456.9,340.6h0M456.2,374.1h0M456.4,376.3h0M457.5,378.4h0M459.2,341.7h0M458.8,337.4h0M459.5,340.6h0M458.1,378.3h0M459.5,381.1h0M459.8,374.4h0M460.1,331.4h0M460.7,336.9h0M461.3,339.7h0M460,374.7h0M460.4,378.3h0M460.1,374.5h0M463.1,331.3h0M464,333.6h0M463.8,335.4h0M463.2,373.6h0M464.3,372.1h0M462.3,374.9h0M466.6,327.5h0M466.1,331.5h0M466.6,338h0M465.9,373.3h0M465.2,378.2h0M464.8,375.5h0M466.9,333.9h0M467.6,335.2h0M468.1,332.3h0M468.7,380h0M468.1,380.5h0M468.8,375.5h0M469.1,332.9h0M470.7,334.8h0M471.2,333.1h0M469.7,373.7h0M469.6,371.7h0M469.8,371.5h0M472.8,339.1h0M473.1,338.4h0M472.4,332.1h0M473.1,379.4h0M472.9,375.2h0M471.5,380.8h0M475.1,338.5h0M475.3,335.4h0M475.4,318.7h0M475.4,384.9h0M475.7,374.9h0M474.8,376.1h0M477.3,334.4h0M477.3,335.5h0M477.7,337.8h0M478.1,373.3h0M476.9,375.2h0M478,374.3h0M479.7,336.7h0M480.4,338.4h0M480.1,338.8h0M478.7,376.9h0M478.9,376.4h0M479.8,377.3h0M481.6,343h0M480.7,341.4h0M480.7,335.6h0M480.7,378.2h0M482.5,381.7h0M482.7,378.5h0M484.2,335.2h0M484.8,336.1h0M484,337.8h0M484.4,381.8h0M484.7,377.9h0M482.9,382.2h0M487.1,339h0M485.8,340h0M486.9,336.9h0M485.5,384.2h0M486.9,376.3h0M487.1,373.5h0M487.7,335h0M489,337.9h0M488,339h0M487.8,377.3h0M489.3,373.4h0M487.8,379.5h0M490,335.6h0M490.4,333.4h0M491.6,334.8h0M490.6,371.9h0M490.1,385h0M490,385.7h0M493,335.8h0M493.6,332.8h0M492.5,333.4h0M493.9,378.6h0M492.4,375.4h0M494.1,379.4h0M496.5,329.7h0M495.9,331.7h0M495.9,335.4h0M495.2,383.4h0M496.5,372.2h0M495.1,374.3h0M498.2,333.7h0M498.4,330h0M498.5,334.4h0M497.2,376h0M496.8,375.9h0M498.8,371.5h0M500.2,329.5h0M499.9,325.4h0M500.3,332.7h0M500,371.9h0M500.7,376.8h0M501,373.2h0M502.5,331.1h0M502,329.8h0M502,332.3h0M502,374.7h0M503.3,372.3h0M502.4,374.6h0M504.3,331.8h0M504.5,327.1h0M504.7,325.4h0M505.5,382h0M504.3,376.9h0M504.3,371h0M507.4,328.9h0M505.9,330h0M507.5,331.1h0M506,373h0M507.7,373.9h0M507.7,368.2h0M508.8,327.8h0M508.3,328.1h0M509.7,319.5h0M509.2,375.1h0M509.5,384.1h0M508.6,377.5h0M511.4,327.7h0M512.2,330h0M511.6,328.9h0M511.9,378.1h0M511.1,366h0M510.7,367.9h0M513.5,322.7h0M512.9,323.2h0M512.9,327.6h0M512.8,366.8h0M513,363.4h0M514.3,363h0M516.5,320.4h0M516.7,324.8h0M516,328h0M517.2,367.7h0M516,363.1h0M515.5,363.7h0M519.3,324h0M517.8,325.7h0M518,320.7h0M519.5,367.1h0M519,366h0M517.9,367.5h0M520.1,323.7h0M520.1,324h0M520.3,324.6h0M520.5,366.4h0M521.8,361.9h0M521.6,371.2h0M522.6,320.7h0M523.9,323.5h0M522.3,326.2h0M522.6,360.5h0M522.1,360.7h0M522,363.6h0M526.1,326.9h0M525.2,322.9h0M524.7,324.8h0M525.2,366.3h0M525.9,362.6h0M525.6,362.4h0M526.7,329.3h0M526.8,327.5h0M528.1,329h0M526.8,369.8h0M528.5,365.4h0M528.7,366.9h0M530.4,327.3h0M529.2,329.2h0M530.7,322.2h0M529.6,363.8h0M530.2,363.8h0M530.7,365.1h0M532.5,329.3h0M532.1,330.8h0M532.3,330.5h0M532.7,366.4h0M533.3,363.8h0M533.3,367.1h0M534.3,326.5h0M534.7,334.2h0M534.7,331.9h0M534.7,369.4h0M535.4,369.3h0M534.3,366.5h0M537.3,331.4h0M535.9,334.8h0M536.8,325h0M536.8,370.2h0M536.8,365.3h0M536.3,365.4h0M538.3,335.8h0M539,336.3h0M538.2,336.7h0M539.6,370.8h0M538.1,364.4h0M538.8,366.4h0M542,338.5h0M542.5,336.7h0M541.6,334h0M542.4,363h0M541.5,366h0M542.5,368.4h0M542.8,337.4h0M543,336.8h0M543.3,337.6h0M544.2,364.1h0M544.5,363.6h0M542.8,362.2h0M545.4,331.1h0M547.1,334h0M546.8,336.1h0M546.3,366.8h0M545.5,362.9h0M546.7,364.4h0M547.5,333.3h0M547.7,339.1h0M548.5,335.8h0M548.9,362.6h0M548.1,367.1h0M547.7,368.3h0M550.5,331.5h0M550.4,332.3h0M551.4,334.8h0M550.3,365.6h0M550.1,363.8h0M550.3,366.5h0M552.9,333.6h0M552,335.3h0M554,334.1h0M552.4,364.9h0M552.8,360.7h0M553.8,360.5h0M555.1,329.4h0M555.3,333.5h0M555.9,329.9h0M556.2,360.5h0M555,365h0M556.4,367.1h0M556.8,330.5h0M556.8,329.1h0M556.8,329.9h0M558.4,368.4h0M557.1,359.3h0M558.3,359.9h0M560.4,330.8h0M559.1,333.1h0M559.4,331.5h0M560.9,359.7h0M559.9,360.9h0M559,358.2h0M561.6,335.7h0M562.9,336h0M563,335.1h0M561.5,366.5h0M561.8,358h0M561.4,359.2h0M565.1,335.3h0M565.1,332.6h0M565.4,335.7h0M563.6,360.8h0M564.7,360.6h0M564.3,361.3h0M566.6,330.3h0M566.4,333.2h0M567.7,330.4h0M567.3,357.8h0M566.2,358.4h0M567.2,358.8h0M569.4,332.8h0M569.3,331.6h0M569.3,328.5h0M569.6,359.4h0M569,362.1h0M569.1,359.2h0M572.3,327.7h0M570.6,331.5h0M570.4,327.5h0M572.2,357.7h0M570.7,360h0M570.8,357.9h0M573,324.8h0M573.1,330h0M574.5,319.8h0M572.7,358.2h0M574.2,360.5h0M574.5,358.3h0M575,325.2h0M575,327.1h0M577,327.7h0M575.6,359.5h0M577,359.4h0M576.5,359.1h0M577.7,326.8h0M579.3,328h0M579.1,326.4h0M578.4,356.3h0M577.4,356.4h0M579.3,358.7h0M580.1,327.6h0M581.7,322.6h0M581.4,322.4h0M580,362.6h0M580.6,355.5h0M580.3,355.2h0M582.1,322.4h0M582.7,323.4h0M583.9,318.7h0M582.7,358.9h0M582.9,355.6h0M583.1,355.7h0M585.1,325.8h0M584.8,322.1h0M585.6,322.5h0M585.1,358.1h0M584.5,355h0M586.1,355.4h0M587,322.5h0M586.5,316.5h0M588.4,323.1h0M588.2,354h0M586.9,355h0M588,356.6h0M589.6,326.1h0M588.9,324.3h0M590.5,325.2h0M590,356.5h0M590.3,352.2h0M590.2,355.1h0M592.5,326.7h0M592.7,324.1h0M591.1,321.6h0M591.7,352h0M591.8,354.5h0M591.5,351.6h0M595.5,326.4h0M595.1,328.5h0M594.1,328.4h0M595.1,351.9h0M593.3,351.7h0M594.6,352.1h0M595.7,323.8h0M597.5,326.6h0M595.6,328.5h0M596.7,353.6h0M596.6,353.4h0M596,357.2h0M599.3,326.1h0M598.9,330.2h0M599.9,323.8h0M599.9,354h0M598.1,356.4h0M599.2,360.8h0M600.6,328.1h0M602.1,325.9h0M600.8,330.1h0M600.3,355.8h0M601,360.9h0M601.4,357.2h0M604.3,328.9h0M603.9,329.7h0M603,326.7h0M602.8,361.7h0M603.8,359.3h0M603.7,358h0M605.4,328.1h0M606.3,327h0M606.5,324.6h0M605.1,363.4h0M605.6,360.8h0M605.1,360h0M608.2,327.1h0M608.9,328.9h0M608.9,327.9h0M608.6,362.4h0M607.3,357.4h0M609,357.4h0M610.3,331.8h0M610.9,332.7h0M610.3,328.7h0M610.3,362.2h0M609.4,358.7h0M609.7,360.4h0M611.8,335h0M612.1,329.8h0M613.5,330.4h0M613.1,362.1h0M612.1,362.6h0M613.1,366h0M614.6,334.9h0M616,337h0M614.3,332.8h0M615.4,365.6h0M615.3,364h0M614.2,370.7h0M617.7,336h0M616.5,337.4h0M617.5,337.2h0M616.6,365.9h0M617,367.6h0M618,372.5h0M620.7,332.8h0M620.7,335.8h0M619.4,334.6h0M620.8,360.9h0M620.3,369.3h0M618.9,363.4h0M622,334.9h0M622.7,331h0M621.9,335.5h0M621.9,360h0M622.3,363h0M621.7,366.8h0M625,334.3h0M624.8,327.9h0M623.9,334.9h0M625.1,372.1h0M625,365.1h0M623.9,365.6h0M627.5,335.2h0M627,331.5h0M627.3,334.8h0M627.4,372.8h0M627.2,373.7h0M626.5,376.5h0M629.1,334.3h0M628.3,331.1h0M629.1,338.9h0M628,371.4h0M629.6,374.8h0M629.3,370.5h0M632,337.4h0M631,330.9h0M631.2,336.7h0M631.2,353.2h0M632,354.4h0M630.6,355.3h0M632.8,336.3h0M632.8,338.2h0M632.6,337h0M634.5,351.7h0M632.4,352.1h0M632.7,351.5h0M635.8,335.9h0M636.8,336.7h0M635.3,337h0M636.1,351.6h0M634.8,355.8h0M636.9,353.2h0M638.6,334.6h0M638.6,337h0M638.2,331.6h0M638.1,352.4h0M638.7,356.3h0M637.7,354h0M639.6,335.5h0M641.2,330.7h0M640.1,333.6h0M641,351.2h0M639.4,352.5h0M640.9,354h0M642.4,334.7h0M642.5,332.6h0M643.1,333.9h0M641.9,349.1h0M642.5,351.4h0M642.9,348.9h0M644.2,333.6h0M645.3,331.3h0M644.4,331h0M645.4,346.6h0M644.8,351.7h0M644.5,348.4h0M646.4,331.1h0M647.8,331.3h0M647.4,333h0M646.7,343.8h0M646.9,344.3h0M647.3,344.2h0M649.6,329.3h0M648.6,331.5h0M649.6,332.2h0M648.7,343.3h0M649.1,343.9h0M649.5,342.3h0M652.4,330.1h0M651.6,329.8h0M651,332.2h0M651.4,345.4h0M652.8,344.5h0M651.4,349.1h0M654.1,332.4h0M653.1,332.3h0M653.4,329.5h0M654.2,349.2h0M654.8,347.4h0M653.6,348.1h0M656.9,329.7h0M656.4,331.9h0M656.2,332.1h0M655.6,349.2h0M656.1,351.8h0M655.6,351.5h0M658.7,332.7h0M659,327.1h0M659,332.6h0M659.7,357.9h0M658.5,353.5h0M659.3,353h0M661.4,334.8h0M660.2,333.3h0M661.4,334.1h0M660.9,357.5h0M661,361.6h0M661,359.4h0M663.3,332.2h0M664.2,335h0M664.5,334.4h0M664,363.1h0M662.4,362.6h0M663.7,363.3h0M666.5,333.4h0M664.7,336.7h0M665.5,336.8h0M665.2,361.3h0M664.9,357.7h0M665.1,358.2h0M669,336.2h0M669,336.5h0M666.9,336.8h0M667.4,354.3h0M669,355h0M668.8,354.9h0M670.9,335.5h0M670.1,335.8h0M670.9,335.7h0M671.2,353.5h0M671.4,354.2h0M670,354.1h0M672.5,335.1h0M671.6,336.7h0M672,334.8h0M671.9,354.4h0M673.1,355.1h0M672.9,353.6h0M674.2,336.4h0M675.2,331.7h0M675.6,331.9h0M674.2,353.1h0M674.7,350.9h0M675.5,351.3h0M677.1,335h0M677.6,334h0M676.9,331.8h0M677.5,353.1h0M678.1,348.6h0M676.8,349.6h0M679,334.6h0M678.4,334.5h0M679,332.3h0M680.4,346.9h0M678.8,346.4h0M678.5,346.3h0M681.7,332.6h0M682.3,331.9h0M682.7,328.8h0M681.2,350.2h0M682.8,349.9h0M682.8,348.2h0M683,331h0M683.4,329.1h0M684.6,332.2h0M684.6,349.7h0M683.4,351.7h0M684.6,350.6h0M686.3,331.5h0M686.7,330.4h0M685.5,330.5h0M686.1,349.1h0M685.8,351.2h0M687.2,351.1h0M688,327h0M688.6,326.8h0M687.8,329.1h0M688.1,346.8h0M688.9,346.6h0M688.4,348.8h0M691.4,324.3h0M690.4,324.8h0M692,326.5h0M691.2,344.4h0M690.1,345.4h0M691.9,344.3h0M693.8,322h0M693.3,323.9h0M692.8,324.2h0M692.5,345.8h0M692.5,341.9h0M693.1,343.1h0M695.4,321h0M695.4,320.6h0M696.1,321.9h0M696.6,341.7h0M695.5,343.9h0M695.2,340.3h0M698,322.3h0M698.8,324.7h0M697.7,325.8h0M697.4,344.5h0M696.9,341.6h0M698.9,340.7h0M700.4,325.1h0M701,327h0M701.1,327.5h0M700,345.8h0M701.3,342.9h0M699.5,346.2h0M703.6,331h0M702.3,330.5h0M703,330.3h0M703,348.7h0M701.6,349.7h0M702.4,348.9h0M704.8,328.5h0M704.5,327.3h0M704.3,333h0M705.7,355.3h0M704.2,352.7h0M704.7,355.6h0M707.7,326.9h0M706.2,330.4h0M708.1,333.8h0M707.8,358.2h0M706.8,360.8h0M707.9,356.9h0M709.3,331.2h0M709.5,333.3h0M709.5,334.6h0M708.7,368.5h0M710.2,360.2h0M709.6,363.6h0M711.5,325.3h0M711.7,332.7h0M712.3,331.3h0M710.7,360.4h0M712.5,363.6h0M710.8,367.3h0M714,333.4h0M713.9,338.3h0M713.2,338.1h0M714.8,364.8h0M713,367.8h0M714.4,361.9h0M716,344.2h0M716.7,344.1h0M716.2,339.9h0M717.4,362.4h0M716.9,361.6h0M716.9,361h0M718.2,342.7h0M718.7,341.9h0M718.8,340h0M717.6,364.6h0M718.2,362h0M717.8,362.4h0M720.3,340.6h0M719.8,342.9h0M720.5,340.7h0M721.6,361.5h0M720.6,362.5h0M721.9,359.2h0M722.6,339.3h0M723.4,342.7h0M722.3,341.2h0M723.5,361.3h0M723.3,358.8h0M722.2,364.3h0M725.1,341.4h0M725.3,341h0M726.4,343.4h0M724.4,358.2h0M724.9,360.3h0M726.2,358.3h0M727.6,336.5h0M727.1,329.7h0M726.8,333.6h0M727.6,362.3h0M727.1,362h0M728.8,363.1h0M731,302.2h0M731.2,308.1h0M730.6,308.7h0M729.5,359h0M729.6,357.3h0M730.5,375.2h0M731.9,290.2h0M732.1,298.7h0M731.7,304.4h0M732.5,362.6h0M732.2,356.3h0M733,359.1h0M733.8,293.5h0M734.5,297.8h0M735.2,296.7h0M735.5,357.6h0M733.8,366.1h0M735.1,363.7h0M737.8,293.4h0M736.8,284.3h0M737.8,295.4h0M737.4,362.7h0M736,357.8h0M736.8,365.9h0M738.7,228.3h0M738.9,232.1h0M739.7,222.6h0M739.5,368.5h0M738.9,368.4h0M739.1,361.2h0M742.3,233.1h0M742,231.1h0M741.6,228.6h0M741.4,363.5h0M741.2,366h0M741.3,359.1h0M744.2,237.8h0M743,239.8h0M744.5,242.3h0M744.4,365.5h0M743.8,363.3h0M743,372.4h0M747.2,244.2h0M746.8,228.5h0M745.2,233.9h0M745.7,353.1h0M746.3,347.3h0M745.4,351.4h0M747.8,232.9h0M749.4,236.6h0M748.5,238.3h0M748.9,331h0M747.8,332h0M748.7,332.7h0M749.8,230.8h0M750,227.9h0M751.2,225.1h0M750.5,325.8h0M750.2,321.6h0M750.2,314.5h0M754.1,228.6h0M753,226.9h0M753.1,219.2h0M752.3,327.5h0M752.8,314.1h0M753.5,312.1h0M755.4,221.1h0M755.3,214h0M756.4,211.9h0M754.4,316.9h0M755.7,324.2h0M754.4,312.4h0M757.6,212h0M757.5,216.4h0M756.8,214.9h0M758.1,313.6h0M757.3,320.2h0M756.9,316.8h0M761.1,211.9h0M759.3,208.5h0M759.4,202.8h0M759.1,330.5h0M760.4,315h0M759.7,312.4h0M761.3,199h0M761.6,194.5h0M762.4,206.8h0M763.4,318.3h0M763.4,310.6h0M762.2,320.1h0M765,187h0M764.8,185.5h0M764.2,193.3h0M765.6,311.5h0M764.3,325h0M764.3,317.2h0M767.9,179.4h0M766.4,185.4h0M766.4,174.9h0M767.5,303.5h0M767.7,305.1h0M767.3,316.8h0M769.4,163.9h0M768.7,176.8h0M768.4,174.9h0M769.5,300.7h0M769.4,309.1h0M769.6,301.5h0M770.5,162.2h0M772.1,173.9h0M770.4,173.4h0M770.9,267.1h0M772.3,267.3h0M772.3,266.3h0M774.1,171.3h0M774.9,174.1h0M773.5,167.3h0M773.3,264.2h0M774.6,276.3h0M773.6,272.4h0M775.3,160.8h0M775.7,165.6h0M775.8,168.8h0M776.7,268.5h0M775.3,260.4h0M775.6,261h0M779.5,156.8h0M777.6,159.6h0M778.6,158.3h0M778.6,253.6h0M777.6,247.9h0M778.4,257.2h0M780.8,149.6h0M781.6,137.8h0M780.8,150.3h0M780.9,260.5h0M780.3,256.7h0M780.1,254.2h0M783.6,148.8h0M783.3,145.6h0M783,147.6h0M783.9,261.9h0M782.2,268.2h0M783.4,273h0M785.9,137.1h0M786.2,146.5h0M786.1,145.3h0M786,278.5h0M785.7,272.4h0M785.6,277.9h0M788,155.9h0M788.2,153.7h0M787.7,157.3h0M786.6,281.9h0M787.5,288.9h0M788.7,289.7h0M788.9,167.3h0M790.1,173.5h0M790.9,169.9h0M789.6,295.3h0M789,303.3h0M790,305.8h0M791.8,189.9h0M792.5,182.5h0M792.4,188.9h0M792.8,307h0M792.4,315h0M791.7,307.8h0M793.5,215h0M795,210.5h0M795,204.6h0M794.9,312.4h0M793.9,320.6h0M793.6,314h0M797.4,237.6h0M797.7,235.1h0M796.4,237.3h0M795.9,318.9h0M796.6,333.8h0M797.4,326.2h0M799.9,242.4h0M798,243.3h0M798.8,250.2h0M798.7,322.6h0M799.6,324.4h0M798.5,331.5h0M801.9,269.9h0M800.7,265.2h0M800.5,266.1h0M801.6,334.8h0M801.3,329.1h0M800.5,325.3h0M803.4,261.1h0M802.8,266.4h0M804.8,264.1h0M803.7,327.9h0M804.1,327.3h0M803.5,328.2h0M805.5,252.7h0M806.6,260.7h0M805.7,258.4h0M805.5,327.5h0M805.8,328.1h0M807,328.8h0M808.1,249.7h0M808.7,239.2h0M808.4,248.9h0M808.1,325.2h0M809.3,334.3h0M808.1,332.3h0M811.2,254.4h0M810.4,254.8h0M810.3,255h0M811.5,327h0M809.8,331.4h0M810.2,325.2h0M813,265.6h0M812.9,263.4h0M813.5,260.1h0M813.3,325.3h0M812.7,334.3h0M813.7,321.2h0M816.2,276.3h0M814.3,274.7h0M816.3,276.5h0M814.9,324.8h0M815.3,324.7h0M815,321.3h0M817.7,263.8h0M817.1,275.2h0M817.8,281.6h0M817.4,331.2h0M817.1,322.9h0M817.4,326.3h0M820.6,281.8h0M819.2,275.5h0M820.1,272.2h0M819.2,322.6h0M818.8,318.1h0M820.6,321h0M822,276.7h0M822.6,277h0M822.5,276.9h0M822.6,322.3h0M822.2,316.8h0M822.8,318.9h0M825.5,277.9h0M825.4,271.9h0M824.8,272.5h0M824.8,321.1h0M824.4,321.1h0M823.5,315.7h0M825.8,275.7h0M826.7,276.1h0M826.7,270.8h0M826.7,316.3h0M827,316.2h0M827.7,320.6h0M829.8,275.8h0M828,274.4h0M827.9,277.5h0M828.9,314h0M828.6,315.7h0M828.1,319h0M831.1,277h0M830.6,272.6h0M830.4,273.5h0M831.5,314.8h0M832.1,317.6h0M831.3,318.2h0M832.7,278.7h0M834.4,280.5h0M832.6,279.5h0M834.2,322.2h0M833.1,319.1h0M834.5,321.2h0M835.3,277.3h0M835.5,271.6h0M836,269.5h0M836.8,319.5h0M835.3,320.9h0M835.8,323.5h0M838.3,260.3h0M838.1,259.3h0M838.5,269.7h0M838.4,319.4h0M838.6,315.7h0M838.9,315.7h0M841.1,265.3h0M840.4,271.1h0M839.5,265.8h0M841,320.8h0M841.5,323.9h0M840.1,317.8h0M843.3,276.3h0M843.2,278.1h0M843.2,273.6h0M842.5,329.6h0M842.6,326.1h0M842.2,324.6h0M845,285.3h0M844.9,282h0M845.5,282.5h0M846.1,327.7h0M845.8,325.6h0M844.5,326.7h0M846.7,290.8h0M848,291.4h0M848.5,294.7h0M846.6,328.5h0M846.6,329.2h0M847.6,330.1h0M849,300.2h0M850.3,301.6h0M850,301.1h0M850.7,333.1h0M850.6,329h0M848.6,328.8h0M851.6,304.5h0M851.8,303.8h0M852.2,307.5h0M851.9,332.4h0M851.2,331.8h0M853,331.7h0M853.9,310.4h0M854.7,309.7h0M854.4,311.3h0M855,339.2h0M855.2,336h0M853.7,334.8h0M857.2,305.7h0M857.2,303h0M855.6,301.6h0M855.6,338.3h0M857.4,336.5h0M855.9,335.4h0M857.9,301.3h0M859.1,295.9h0M858.9,297.4h0M859,345.6h0M858,338.5h0M858.2,352.1h0M860.9,303.2h0M860.9,304.9h0M860.5,303h0M861.6,341.7h0M860.4,342.6h0M861.9,345.4h0M862.5,310.8h0M862.8,311.4h0M862.4,309.1h0M863.8,341.5h0M864.4,345.8h0M863.9,342.9h0M865.6,319.2h0M866,317.8h0M866.2,317.8h0M866,349h0M865.1,341.3h0M866.7,343h0M868.3,314.9h0M868.7,317.4h0M868.2,317.9h0M868,339.7h0M868.3,339.7h0M869.2,344.3h0M871.4,316.4h0M869.6,311.4h0M871.3,313.9h0M871.3,340.9h0M871.1,342.4h0M869.6,340.6h0M873.6,316.6h0M872.5,317.9h0M873.7,316.8h0M872.9,339.9h0M872.7,345h0M873.6,339.9h0M875.6,320.2h0M874,316.5h0M874.9,320.1h0M874.4,341.2h0M875.7,342.8h0M875.4,342.6h0M877.1,321.3h0M877.9,320.5h0M876.9,319.9h0M878.2,344.8h0M877.6,342.3h0M876.7,346.7h0M880,316.9h0M880.3,315.3h0M878.8,313.2h0M880.4,342.8h0M880.7,340.8h0M879.1,345.3h0M882,310.7h0M880.9,314.1h0M881.4,312.7h0M880.9,341h0M882.5,343.3h0M881.9,339.9h0M884.1,315.4h0M884,314h0M883.3,311.4h0M883.9,341.4h0M883.4,341.3h0M883.9,344.9h0M887.1,316.3h0M887.3,310.4h0M886.4,315.1h0M886.1,351.5h0M886,340.6h0M887.5,341.8h0M888.5,311.6h0M889.4,318.3h0M889.2,317.8h0M889.8,345.6h0M888.2,341.4h0M889.3,341.9h0M891.8,310.3h0M891.9,309.2h0M890.2,307.1h0M890.1,341.4h0M890.9,341.5h0M890.6,340.2h0M892.6,313.4h0M892.6,306.7h0M893.6,311.5h0M893.5,340.8h0M893.5,342.9h0M894.4,341.5h0M895.3,313.4h0M894.8,316.1h0M895.3,315.3h0M896.6,341.6h0M896.5,340.2h0M896.6,345.1h0M896.9,314.2h0M897.6,315h0M897.7,309.8h0M899,339.7h0M898.5,344h0M898,345.6h0M899.3,302.8h0M900.3,307.2h0M900.8,307.9h0M899.2,340.3h0M901.3,349.6h0M900.8,346h0M903,298.1h0M903,301.6h0M903,289.6h0M901.6,338.9h0M902.9,340.1h0M901.6,346.9h0M904.4,301.6h0M905.1,304.4h0M905.5,302.1h0M905.7,343.8h0M904.1,346.5h0M904.5,340.5h0M907.7,302.1h0M907.7,293.3h0M907.8,294.1h0M906.7,341.1h0M907.3,343.7h0M907.4,339.1h0M909.6,302.7h0M909.4,311.3h0M908.6,309h0M910.2,341.9h0M909.7,340h0M910.6,344.8h0M912.4,315.7h0M910.8,308.8h0M912.6,310.5h0M911.3,344.6h0M910.9,346.3h0M911.5,346.3h0M914.6,314.5h0M915.1,319.7h0M914.9,314.3h0M913.4,347.4h0M914.3,351.2h0M914.9,349.8h0M916.2,318.6h0M917.3,320.9h0M915.4,320.9h0M917.1,347.2h0M915.5,349.1h0M916.1,347.7h0M918.8,318.4h0M918.4,319.7h0M918.4,312.2h0M919.4,347.6h0M917.8,351.3h0M919.3,347h0M920.8,316.8h0M921.6,316.8h0M922,317.1h0M920.7,343.9h0M920.3,346.3h0M921.1,345h0M923.5,311.8h0M923.1,304.4h0M923.5,308.9h0M922.8,342.3h0M923.4,347.4h0M924.1,348.8h0M925.4,313.6h0M926,315h0M924.6,307.4h0M925.8,352h0M925.4,348.6h0M925.4,346.4h0M927.7,316.7h0M927.3,315.6h0M926.8,320.3h0M928.3,353.9h0M928.8,351.2h0M928.5,357.2h0M930.6,314.6h0M930.5,320.4h0M929.6,317h0M930,350.3h0M929.2,362.4h0M930.5,354.4h0M931.9,321.5h0M933.6,314.2h0M931.7,320.2h0M932.9,352.1h0M933.3,352.4h0M933.4,352.6h0M935.6,324.3h0M935.1,320.4h0M934.8,318.5h0M935.4,353.4h0M935.5,350.4h0M934.4,354.4h0M938,319.4h0M936.6,321.9h0M936.1,326h0M937.7,349.4h0M936.4,350.6h0M937.5,353.4h0M940.2,326.7h0M939.5,327.1h0M940.1,322.1h0M939.8,349.5h0M939.9,350.2h0M938.8,353.2h0M941.3,323h0M941.1,320.9h0M942.3,326.1h0M941.4,350.9h0M940.8,353.5h0M941,354.2h0M945.1,323.2h0M944.2,326h0M943.1,323.7h0M944.8,352.1h0M944.4,358h0M944.5,351.7h0M946.3,326.5h0M946.5,320.8h0M945.9,326.9h0M946.6,353.6h0M947.4,356.4h0M947.2,356.5h0M948,321h0M948.1,327.5h0M947.7,322.6h0M948.5,354.5h0M948.3,352.5h0M948.2,358.1h0M950.8,323h0M951.7,324.9h0M950,320.2h0M950.3,350h0M951.6,350.4h0M952,359.9h0M953.7,321.9h0M952.4,320h0M952.3,317.2h0M953.8,351.5h0M953.1,351.5h0M952.7,354.6h0M954.8,321.4h0M955.4,320h0M955,316.5h0M955.9,355.2h0M955,357.6h0M954.8,353.3h0M956.8,323.2h0M957.5,323.9h0M958.8,324.3h0M957.5,359.4h0M957.4,352h0M957.4,352.6h0M960.4,322.5h0M960,319.8h0M959,327.3h0M959,359.2h0M959.1,354.1h0M961,357.5h0M962.6,328h0M962.5,323.3h0M962,329.4h0M962.7,361.1h0M961.3,363.6h0M963.3,358.6h0M965.1,327.1h0M965.8,326.5h0M965.8,325h0M963.8,364.8h0M963.9,368h0M964.3,357.8h0M965.9,328.2h0M966,329.6h0M967.1,326.4h0M966.6,361.6h0M968.1,359.4h0M966.5,358.4h0M970.2,321.4h0M969.8,320.3h0M970,327.6h0M969.6,356.7h0M970.3,365h0M969.5,360.2h0M970.6,323h0M970.7,321.4h0M970.8,315.6h0M971.3,359.6h0M972.4,360.7h0M971.2,359.8h0M973,321.6h0M974.6,324.3h0M974.5,316.1h0M973.8,359.1h0M973.8,355.4h0M973,358h0M975.9,320.9h0M975.8,321.7h0M977.1,323.4h0M975.2,353.5h0M975.2,353.8h0M975.2,360.3h0M978.6,322.9h0M979,321.7h0M978.3,319.2h0M978.3,357.4h0M979,359h0M977.6,358h0M981.8,327.3h0M981.3,322.3h0M979.9,323.8h0M981.1,360.8h0M981.2,365.3h0M980.8,355.2h0M982.7,324.5h0M983.3,322h0M982.2,328h0M982.3,362.3h0M983.4,362.8h0M983.8,358.1h0M985.9,326.2h0M984.6,320.8h0M985.6,327.5h0M985,359.3h0M984.7,360.7h0M986.2,366.7h0M988.6,327.8h0M988.6,326.6h0M987.9,323.7h0M987.7,364.6h0M987.8,360.7h0M987.7,366.5h0M990.6,324.8h0M990.5,331.4h0M989.3,328.9h0M989.1,359.3h0M989,368.1h0M989.9,362.4h0M992.8,325.3h0M993.1,329.5h0M993.3,328h0M993.4,361.8h0M991.8,366.4h0M991.4,360.9h0M993.9,328.1h0M995.6,326h0M994,316.9h0M993.6,362.1h0M994.3,357.5h0M995.1,360.7h0M996.5,326.1h0M995.8,321.8h0M996.3,317.9h0M998,350.6h0M997.2,353.1h0M996.6,356.4h0M998.5,321.6h0M998.8,322.6h0M998.7,324.6h0M998.8,356.6h0M999.1,351.4h0M998.9,352.6h0M1002,324h0M1002.5,322.4h0M1001.1,320.5h0M1001.9,356.8h0M1001.9,352.5h0M1001.4,356.3h0M1003.1,316.7h0M1003.1,319.4h0M1003.1,323.4h0M1002.7,354.8h0M1003.9,355.4h0M1004.7,356h0M1005.1,319.4h0M1006,320.2h0M1006.1,320.8h0M1006.6,351.3h0M1006.9,351.1h0M1006.8,353.5h0M1008.9,321.5h0M1007.3,317.3h0M1007.4,320.6h0M1007.7,355.5h0M1008.4,353.3h0M1009.1,355h0M1010.2,317h0M1009.9,318.3h0M1010.9,313.5h0M1010,353.1h0M1010.9,354.4h0M1011.4,358.7h0M1012.4,321.4h0M1013.5,315.7h0M1014,315.8h0M1011.9,356.7h0M1013.2,362.4h0M1012.1,359.2h0M1014.6,322.1h0M1014.2,325.8h0M1015.4,324.9h0M1015.3,366h0M1016.3,361.4h0M1015.2,360.1h0M1018,330.2h0M1016.8,331.4h0M1017.3,329.2h0M1017.1,358.8h0M1017.8,357.4h0M1017.4,359.3h0M1019.5,329.7h0M1019.8,329.2h0M1019.3,329h0M1020.3,356.5h0M1020.5,360.4h0M1019.6,359.4h0M1021.3,321.9h0M1021.5,327.6h0M1022.3,317.1h0M1021.5,356.2h0M1021.5,360.8h0M1021.3,356.1h0M1024.2,327.6h0M1024.7,327.7h0M1025.5,325.3h0M1024.6,364.4h0M1024.4,365.8h0M1025.4,366.4h0M1026.1,329.5h0M1027.8,329h0M1026.8,328.6h0M1027.6,377.2h0M1025.7,371.6h0M1026.8,375.1h0M1028.3,331.7h0M1028.8,324.9h0M1028.6,331h0M1030,386.5h0M1028.4,380.4h0M1029.7,380.4h0M1031.8,330.4h0M1031.8,323.1h0M1031.3,324.5h0M1030.6,366h0M1031.1,369h0M1031.6,366.6h0M1033.5,328.1h0M1033.4,330h0M1033.4,329.6h0M1033.6,360.7h0M1033.3,363.6h0M1034.2,363.7h0M1035.8,324.7h0M1035.3,328.5h0M1034.9,331.3h0M1036.9,356h0M1035.4,355.7h0M1035,360.6h0M1037.5,332.8h0M1039.3,328.3h0M1037.3,330.2h0M1038.2,359.9h0M1037.8,356.8h0M1038.5,358.2h0M1041.6,333.9h0M1039.9,331.9h0M1041.7,330.1h0M1040.4,355h0M1041.7,354.5h0M1040,356.3h0M1042,333h0M1043.3,331.5h0M1043.9,329.6h0M1041.9,355.6h0M1043.7,355.1h0M1042.8,354.8h0M1045.3,330.6h0M1045.1,330.3h0M1045.2,329.6h0M1046.1,354.2h0M1045.2,356h0M1044.5,356.2h0M1047.7,324h0M1047.1,329.9h0M1048.6,327.5h0M1048.2,358.3h0M1046.9,365.4h0M1048.2,355.2h0M1049.1,326.1h0M1048.8,328h0M1050.6,329.7h0M1050.5,359.1h0M1049.1,360.9h0M1050.6,361.7h0M1051.5,333.9h0M1052.4,329.7h0M1053.1,334.1h0M1053,364.1h0M1052.6,366.9h0M1052.9,368.9h0M1055.1,331.4h0M1054,334.4h0M1053.4,333.9h0M1054.3,373h0M1055,371.7h0M1054.6,370.1h0M1055.9,337h0M1057.1,326.6h0M1056.4,335.8h0M1057.7,375.4h0M1056.1,375.2h0M1057.4,367h0M1058.3,335.4h0M1059.1,335.8h0M1058.7,331.3h0M1058.4,366.4h0M1060.1,368.5h0M1059.9,366.9h0M1061.7,333.4h0M1062,337.5h0M1061.5,333.7h0M1060.6,365.1h0M1061,364.6h0M1062.3,361.9h0M1064.6,335.8h0M1062.9,333.7h0M1063.2,333.4h0M1064.3,361.3h0M1063.7,361.1h0M1063.2,363.9h0M1065.1,331.4h0M1065.3,332.2h0M1066.4,336.5h0M1065.9,362.3h0M1065.1,360.8h0M1066.6,361.7h0M1068.1,332.9h0M1067.3,335.7h0M1068,334.2h0M1067.2,361.1h0M1067.5,360.3h0M1068.8,363h0M1070.2,334.9h0M1069.7,332.1h0M1070,331.2h0M1071.2,364.5h0M1069.8,358h0M1071.1,358.2h0M1072.6,333.8h0M1072.1,333.4h0M1073.5,333.3h0M1073.8,359h0M1073.4,359.2h0M1073.9,360.4h0M1074.2,335.2h0M1074.4,337.8h0M1075.8,329.9h0M1075,363.7h0M1076.1,365.8h0M1075.9,366.4h0M1078.2,338.3h0M1077.1,336.9h0M1077.7,336.6h0M1076.6,370.9h0M1077.9,391.1h0M1077.4,374.8h0M1079.1,337.3h0M1080,334.7h0M1080.2,334.6h0M1080.3,372.1h0M1079.8,374.2h0M1079.6,370.7h0M1082.5,346.5h0M1082.1,343.4h0M1083.1,341.8h0M1081,375.5h0M1081.7,371.8h0M1081.9,372.5h0M1084.4,350.7h0M1084.9,347.5h0M1084.9,351.3h0M1084.6,374h0M1083.7,377.3h0M1083.7,374.3h0M1086.4,351.4h0M1086.4,351.1h0M1085.5,347.2h0M1087.5,370.9h0M1086.3,375.6h0M1087.6,373.1h0M1089.2,342.4h0M1089.4,339.8h0M1087.9,345.2h0M1088,368h0M1088.1,369.5h0M1088.4,368.4h0M1090.7,330.3h0M1091.6,340.1h0M1091.2,339h0M1091.4,370.9h0M1091.3,365.6h0M1092.2,369.6h0M1094.4,331.6h0M1092.8,335h0M1094.3,333.3h0M1093.6,365.1h0M1093.9,365.1h0M1092.8,365.8h0M1095,335.4h0M1094.9,336h0M1096,333.8h0M1095.8,360.6h0M1095.4,359.7h0M1096.3,362.8h0M1098.4,333.8h0M1097.4,334.5h0M1099.1,334h0M1098.7,371.5h0M1098.4,363.7h0M1098.2,368.8h0M1101.3,331.9h0M1099.4,329.3h0M1099.6,333.1h0M1100.8,358.7h0M1099.8,358.3h0M1099.8,359.3h0M1101.6,333.6h0M1102.7,334.7h0M1102.6,334h0M1103.1,359.2h0M1102.5,362.9h0M1103.6,361.2h0M1103.9,340.4h0M1104.1,337h0M1105.9,339.9h0M1105.4,363.7h0M1106.1,363h0M1104,368.6h0M1107.7,330h0M1106.9,331.9h0M1107,333.5h0M1108.1,364.9h0M1107.5,363.3h0M1107.5,364.5h0M1110.6,321h0M1109.3,323.4h0M1109.8,319.7h0M1109.5,362.2h0M1109.6,364.3h0M1110.5,362.1h0M1111.9,323.5h0M1112.8,325.3h0M1111.3,321.8h0M1112.2,367.7h0M1112.7,363.1h0M1111.2,366.4h0M1114.2,328.6h0M1114.4,323.8h0M1114.3,323.4h0M1113.1,361.3h0M1113.9,368.7h0M1114.1,365.9h0M1116.5,326.8h0M1116.7,326.2h0M1116.9,326.9h0M1116.3,363.4h0M1115.4,363.1h0M1116.8,361.8h0M1119.3,325.5h0M1118.9,324.1h0M1118.5,330.5h0M1119.4,363.1h0M1118,366.1h0M1118.1,363.6h0M1121,332.3h0M1120.9,324.7h0M1120.5,332.6h0M1122.1,361.5h0M1121.4,364h0M1120.8,364.9h0M1122.9,336.5h0M1122.3,333.8h0M1123.6,334.3h0M1124.5,365.9h0M1123.4,367h0M1122.7,364.1h0M1125.7,334.7h0M1126.2,331.8h0M1126.5,334.1h0M1126,370.1h0M1126.6,362.8h0M1125.5,369.2h0M1128.4,332.5h0M1128.6,330.8h0M1127.2,333.2h0M1127.2,363.8h0M1127.3,368h0M1127,363.5h0M1129.5,334.7h0M1130.9,334h0M1131.4,331.7h0M1129.6,366.2h0M1130,365.5h0M1130.3,369.1h0M1133.4,335.5h0M1132,337h0M1132,337.2h0M1131.9,366.4h0M1133.1,370h0M1132.4,366.9h0M1134,330.4h0M1134.8,338.8h0M1134.1,336.9h0M1135.2,369.1h0M1134.6,375.8h0M1135.2,371.1h0M1137.2,337.9h0M1138.3,339.8h0M1137.1,338.8h0M1137.4,369h0M1138.2,373h0M1136.5,377h0M1138.6,335.4h0M1138.7,335.7h0M1139.3,336.4h0M1139.4,368.3h0M1140.1,366h0M1139,372.2h0M1141.3,336.6h0M1140.9,335.9h0M1140.9,333.9h0M1141.8,369h0M1142.7,363.4h0M1141.1,362.9h0M1143.9,335.1h0M1144.5,333.8h0M1144.6,333.1h0M1145,369.8h0M1143.1,367.2h0M1143.5,368h0M1146,334.2h0M1146.7,334.2h0M1145.6,316.1h0M1146.7,373.7h0M1145.7,381.5h0M1145.8,374h0M1148.8,342h0M1147.7,339.2h0M1148.9,334.5h0M1149.1,381.2h0M1148.2,378.7h0M1149.3,389h0M1151.2,341.5h0M1151.3,345.5h0M1152,340.5h0M1151.7,379h0M1151.7,376.5h0M1151.8,380.5h0M1154.2,335.7h0M1152.6,340h0M1152.5,334.9h0M1152.7,376.3h0M1152.6,370.6h0M1154.2,370.6h0M1154.5,336.9h0M1156.6,336h0M1154.6,336.6h0M1155.6,363.3h0M1155.6,367.6h0M1156.5,364.6h0M1157.3,337.2h0M1157.7,333.4h0M1157.8,331.5h0M1157.7,364.4h0M1157.5,365h0M1158.3,365.5h0M1159.2,336.2h0M1159.8,337.6h0M1160.5,337.9h0M1160.7,369.8h0M1160.1,365.4h0M1159.9,365.8h0M1163.5,343.5h0M1162.2,341.2h0M1162,342.8h0M1162.6,366.4h0M1161.9,364.8h0M1162.9,367.2h0M1164.1,342.5h0M1163.7,341.3h0M1165.9,340.9h0M1165.8,366h0M1165.9,372.9h0M1165,366.1h0M1166.8,345.2h0M1166.5,345.7h0M1167,344.1h0M1167.8,369.4h0M1167.6,370.4h0M1167,368.9h0M1170.3,344.7h0M1169.3,346.2h0M1169.4,343.3h0M1168.7,371.7h0M1169.2,369.3h0M1168.4,370.8h0M1172.6,345.1h0M1171.3,344.2h0M1171.3,343.3h0M1170.7,374.5h0M1172.1,385.1h0M1172,376.2h0M1174.7,340.3h0M1174.6,338.4h0M1173.6,336.3h0M1173.3,369.7h0M1172.9,368.9h0M1175.1,367.8h0M1176.4,332.4h0M1175.8,331.5h0M1176.6,335.9h0M1175.3,369.1h0M1176.4,377.1h0M1176.1,376.8h0M1178.5,326.7h0M1178.5,334.2h0M1178.2,333h0M1177.6,368.1h0M1179.1,368.3h0M1179.2,369.4h0M1181.7,335.3h0M1180.9,328.2h0M1181,328h0M1180,367.1h0M1180,369.5h0M1181.9,367.1h0M1182.5,335.5h0M1184.1,337.8h0M1182.8,335.5h0M1183.1,367.3h0M1182.9,369.9h0M1183.9,366.6h0M1186.3,334.6h0M1185,332.5h0M1184.9,337.1h0M1185.4,369.4h0M1185.2,367.4h0M1186.1,368h0M1187.2,339.7h0M1187.3,338.6h0M1188,340.4h0M1187.1,365h0M1187.8,364h0M1188.6,366.2h0M1190.7,343.9h0M1189.8,340.2h0M1189.9,342.7h0M1189.5,369.5h0M1190.4,366.1h0M1190.7,365.6h0M1192,343.9h0M1191.9,337.5h0M1191.4,344.1h0M1193.4,372.9h0M1193,370h0M1193.2,371.5h0M1194.6,347.8h0M1195.3,342.7h0M1195.7,347.2h0M1195.3,373.4h0M1194.6,374.4h0M1193.7,383h0M1197.7,346.6h0M1196.9,349.4h0M1197.6,344.1h0M1196.3,376.4h0M1197.8,380.9h0M1196.4,378.8h0M1199.6,349.3h0M1199,349.3h0M1199,346.8h0M1199.6,379h0M1199.1,376.6h0M1198.4,379.1h0M1201.6,347h0M1201.3,348.9h0M1200.6,347.1h0M1201.1,371.9h0M1200.6,374.1h0M1202.4,371.3h0M1204.1,348.1h0M1204.2,342.6h0M1204.6,346.8h0M1204.7,370.4h0M1202.9,368h0M1204.9,368.7h0M1205.6,342.5h0M1205.6,344.6h0M1205.1,344.8h0M1206.8,369.5h0M1205.8,370.8h0M1207,374.4h0M1207.6,345h0M1209.2,341.5h0M1207.9,348.3h0M1207.5,377h0M1208.5,377h0M1209.4,374.3h0M1210.3,350h0M1211.7,347.9h0M1211,351.1h0M1210.3,377.5h0M1210.7,376.3h0M1210.9,378.7h0M1213.8,348.9h0M1212.7,343.3h0M1212.6,350.8h0M1212.8,377h0M1213,378.8h0M1213.3,380.2h0M1216.3,345.5h0M1216.1,341.9h0M1214.8,344.5h0M1216,381.2h0M1216.1,378.1h0M1215.3,378.5h0M1217.4,340.9h0M1217.3,337.9h0M1218.5,338.7h0M1217.1,370.9h0M1218.5,378h0M1218.3,375.4h0M1219.4,338.7h0M1219.5,339.8h0M1219.6,341.4h0M1220.5,369.2h0M1219.8,370.4h0M1221,369.3h0M1221.3,333.9h0M1221.9,339.2h0M1222.7,341.4h0M1222.6,368.6h0M1222.6,368.6h0M1223.4,372.8h0M1224.3,341.5h0M1223.8,340.2h0M1224.9,335.7h0M1224.8,373.8h0M1225.5,372.1h0M1224.9,373.9h0M1226.6,340.3h0M1227.1,338.9h0M1225.9,335h0M1226.8,376.6h0M1226.4,369.3h0M1227.1,374.3h0M1228.4,336.5h0M1229.7,338h0M1229.7,336.8h0M1229.6,374.6h0M1230.2,368.1h0M1228.9,374.9h0M1230.6,334.4h0M1231.9,338h0M1231.4,332.6h0M1231.3,368.4h0M1230.5,374.2h0M1231.5,370.2h0M1234.2,339.3h0M1234,341.1h0M1232.9,335h0M1234.7,375.5h0M1234.6,370.1h0M1234.2,376.3h0M1235.9,346.1h0M1236.4,344.5h0M1235.6,343.5h0M1237,382.8h0M1237,378.7h0M1236.1,373h0M1238.3,341.6h0M1237.9,343.9h0M1238.7,346.5h0M1237.7,375.9h0M1237.7,377.6h0M1238.3,381.6h0M1239.6,342.2h0M1239.7,338.6h0M1240.7,346.7h0M1239.7,376.6h0M1239.7,382.7h0M1240.4,376.9h0M1243.5,343.6h0M1243,341.3h0M1243.7,341h0M1242.5,372.7h0M1242.4,373.4h0M1242.1,372.2h0M1245.6,339.8h0M1245,337.5h0M1244.6,341.5h0M1245.2,368.3h0M1245.6,373.6h0M1244.7,369.4h0M1248,336.5h0M1247.4,336.2h0M1248.4,339.7h0M1247.7,366.5h0M1248.2,368h0M1248.3,364.5h0M1250.9,331.6h0M1249.1,338.7h0M1250.1,339.1h0M1249.5,367.4h0M1249.9,366.3h0M1249.6,371h0M1252.1,337.9h0M1252.1,333.8h0M1252.9,335.5h0M1253.1,372.9h0M1251.2,366.8h0M1252.5,368.1h0M1254.7,340.1h0M1254.6,330.9h0M1253.9,338.5h0M1253.8,377.7h0M1255.4,372.3h0M1254.2,371.4h0M1256.3,343.9h0M1256.7,341.8h0M1257.7,343.6h0M1257.7,373.8h0M1256.7,378.7h0M1257.4,375.3h0M1258.1,346h0M1258.5,347h0M1258.4,345.3h0M1259.3,376.2h0M1259.6,376.6h0M1260.2,377.2h0M1260.7,348.3h0M1260.3,342.8h0M1262.2,347.2h0M1260.9,375.8h0M1260.9,377.3h0M1260.8,383.8h0M1262.8,345.1h0M1263.3,350.8h0M1262.7,350.4h0M1264.7,383.7h0M1263.9,378.1h0M1264.3,378.8h0M1266.6,350.3h0M1265.8,350.3h0M1265.8,352.7h0M1265.8,385.2h0M1266.6,381.5h0M1266.4,386.3h0M1267.3,347.2h0M1269,347.2h0M1268.4,354.1h0M1269.2,383.2h0M1267.3,384.2h0M1268.4,380.7h0M1270.9,355.1h0M1269.5,354.2h0M1270.4,350.4h0M1269.5,382.9h0M1271.3,388.4h0M1270.1,382.1h0M1273.2,357.5h0M1273.5,356.6h0M1272,356.8h0M1271.9,381h0M1274,383.5h0M1271.8,382.8h0M1274.4,357.4h0M1276.1,352.4h0M1275.7,356.2h0M1274.7,382.5h0M1275.5,386.6h0M1274.7,381.6h0M1276.4,355.3h0M1277,355h0M1277.5,358.4h0M1278.1,383.9h0M1276.7,384.2h0M1278.2,380.7h0M1280.2,354.1h0M1279.9,356.8h0M1280,356.4h0M1279,385.7h0M1280.5,396.7h0M1280.1,384.6h0M1282.6,354h0M1281.2,357.3h0M1281.6,353.3h0M1282.9,383h0M1282.4,383h0M1282.3,389.6h0M1285.3,352.6h0M1284.5,345.8h0M1284.9,351.1h0M1283.8,382.8h0M1285.2,384.5h0M1283.3,386.3h0M1286.6,352.7h0M1286.7,354.4h0M1286.6,352.7h0M1286.4,386.7h0M1285.8,383.9h0M1286.9,384.9h0M1288.6,354h0M1289.6,350.4h0M1288.7,352.1h0M1289.3,383.7h0M1288.9,384.6h0M1289,384.3h0M1291.7,355h0M1291.1,354.8h0M1291.2,355.5h0M1290.6,383.2h0M1292.3,385.1h0M1292.1,384.5h0M1294.6,353.7h0M1294.3,356.6h0M1293.9,356.5h0M1294.6,383.6h0M1292.7,389.5h0M1294.1,383.9h0M1295.4,355.2h0M1296.2,357.3h0M1295.8,358.7h0M1296.8,383.2h0M1296.6,386.3h0M1296.9,385.9h0M1299.2,359.6h0M1299.1,358.8h0M1297.2,357.7h0M1297.3,382.9h0M1298.8,384.4h0M1298.3,385.5h0M1301.1,360.3h0M1300.2,357.9h0M1299.7,360.1h0M1301.3,383.9h0M1301,388.4h0M1300.9,390.4h0M1303.5,362.9h0M1302.6,360.8h0M1303.5,362.9h0M1303.6,384.6h0M1303.5,385.5h0M1302.1,386.2h0M1305.8,363.3h0M1305.1,361.7h0M1305.7,360h0M1304.6,389.3h0M1305.8,389.6h0M1304.2,389.8h0M1307.8,357.8h0M1308.2,359.2h0M1307,359.4h0M1307.1,384.9h0M1307.7,383.9h0M1307.2,384h0M1310.4,359.6h0M1310,357.6h0M1310.5,359.2h0M1309.4,382h0M1309.6,383.3h0M1310.2,382.2h0M1312.4,354.4h0M1312.3,357.2h0M1311.4,354.5h0M1313,380.1h0M1311,380.8h0M1312,385.5h0M1315.3,352.4h0M1314,347.2h0M1315.3,355.2h0M1314.8,379.3h0M1315.4,377.6h0M1313.6,380.9h0M1315.5,356.4h0M1315.7,349h0M1315.5,353.5h0M1317.2,385.2h0M1315.5,380.9h0M1317.7,379.9h0M1317.9,353h0M1318.9,356.4h0M1319,353.4h0M1318.8,381.3h0M1319.6,384.7h0M1318.4,391.9h0M1321.9,360h0M1322.2,360.2h0M1321.6,359h0M1322.2,387.1h0M1321.4,385.1h0M1321.4,383.4h0M1323.4,356.5h0M1322.8,353.7h0M1324.1,354.6h0M1324.6,385.6h0M1322.5,391.4h0M1323.6,386.1h0M1326.3,360.4h0M1324.8,359.7h0M1326.1,357.2h0M1324.7,393.4h0M1325,392.9h0M1324.7,389.5h0M1327.2,360.4h0M1327.3,356h0M1328.3,356.7h0M1327.4,393.7h0M1329.2,388.4h0M1328.1,387.6h0M1331,358.5h0M1329.5,354.3h0M1331.3,356.2h0M1331.2,386.9h0M1330.3,384.2h0M1330.9,388.3h0M1332,350.1h0M1332.8,352h0M1332.7,352.2h0M1333.8,379.2h0M1332.9,379.2h0M1333.6,386.1h0M1334.3,338.4h0M1334.9,334.4h0M1334.2,344.8h0M1334.4,373.7h0M1335.6,380.3h0M1334.8,381.6h0M1337.8,341.9h0M1336.8,341.4h0M1336.9,340.3h0M1337.4,371.8h0M1336.4,379.1h0M1337.2,376.6h0M1338.6,349.4h0M1338.7,347.5h0M1339.8,348.3h0M1338.8,376.4h0M1338.9,377.4h0M1340.6,375.9h0M1342.4,345.2h0M1342.2,348.3h0M1341.6,350.2h0M1342.4,374.1h0M1342.6,377.2h0M1342.1,372.9h0M1345.3,351.3h0M1344.2,351.4h0M1343.2,346.6h0M1345.2,376.1h0M1345.1,374h0M1344.5,374.1h0M1347,350.5h0M1345.5,350.1h0M1347.1,352.5h0M1345.8,380.6h0M1345.9,378.2h0M1347.3,379.7h0M1349.1,352.9h0M1349.8,355.3h0M1348.6,353.5h0M1347.9,380h0M1349,381.2h0M1348.6,384h0M1351.1,357h0M1350.3,359.1h0M1351.9,354.8h0M1352,381.6h0M1351.3,380.8h0M1351.4,383.7h0M1353.6,357.3h0M1353.7,362h0M1353.1,362.6h0M1353,383h0M1353.3,381.2h0M1353.6,379.3h0M1354.8,357.2h0M1355.3,357.4h0M1354.8,357.4h0M1356.8,379h0M1355.3,377.2h0M1355,380.6h0M1357.9,358h0M1358.3,353.6h0M1357.3,355.4h0M1357,375.7h0M1357.7,379.8h0M1357.7,375.5h0M1360.5,356.6h0M1359.5,355.5h0M1359.7,353.7h0M1360,374.1h0M1360,375.5h0M1360.8,373.9h0M1363.7,353.4h0M1362.1,353.7h0M1362.7,354.3h0M1362.9,375.7h0M1362.6,375.5h0M1361.8,377.1h0M1365.3,355.7h0M1364.4,355.1h0M1365.5,356.1h0M1365.4,377h0M1365.8,375.8h0M1365.3,376.4h0M1366.2,357.1h0M1367.7,359h0M1366.4,356.1h0M1366.4,379.8h0M1366.6,378.7h0M1367.7,377.6h0M1370.5,359.8h0M1370.1,359.5h0M1368.7,361.9h0M1368.5,380.4h0M1368.9,381.2h0M1368.6,378.8h0M1372.1,363.4h0M1372.1,359.1h0M1370.7,364h0M1370.9,385.2h0M1370.9,380.2h0M1371,381.7h0M1374.3,363.2h0M1373.2,363.9h0M1373.1,363.5h0M1373.9,380.9h0M1373.5,381.7h0M1374.2,383.7h0M1377,361.6h0M1376.2,361.8h0M1376.9,359.4h0M1376.7,382.9h0M1375.7,381.3h0M1376.1,383.6h0M1378.2,358.2h0M1377.6,361.3h0M1378.7,360.5h0M1377.8,388.9h0M1379.5,380.3h0M1377.9,381.9h0M1381.5,353.9h0M1380.4,353.7h0M1381.8,358.2h0M1380.9,383h0M1380.7,384.2h0M1380,381.9h0M1383.8,350.1h0M1383.9,350.6h0M1384.3,352h0M1383.2,379.2h0M1383.1,382.5h0M1383.1,378.5h0M1384.9,353.6h0M1385.5,352h0M1386.1,353.7h0M1384.7,377.8h0M1385.8,376.6h0M1385.4,376h0M1387,348.9h0M1388.3,351.8h0M1387.3,351.7h0M1387.3,376h0M1387.9,372.8h0M1387.1,375.1h0M1389.8,350.2h0M1390.3,354h0M1391,351.3h0M1390.8,378.7h0M1390.6,372h0M1389.7,373.2h0M1393.2,356h0M1392.3,352.6h0M1392.4,353.2h0M1392.8,376.4h0M1391.4,376.5h0M1393.4,377h0M1393.8,359.8h0M1393.8,360h0M1395.3,356.6h0M1393.7,382.8h0M1395,380.6h0M1394.1,380h0M1397.9,360h0M1396.9,362.5h0M1396.6,358.3h0M1397.4,388.7h0M1396.8,381.5h0M1398,383.2h0M1400.3,357.7h0M1400.3,358.4h0M1400.1,359.4h0M1399.9,379.6h0M1400.2,377.9h0M1399.8,379.1h0M1401.1,352.9h0M1401.7,354.4h0M1400.7,354.7h0M1402.7,374h0M1401.9,376.4h0M1401.4,376.8h0M1403.5,348.9h0M1405,346.1h0M1405,345.7h0M1403.2,370.7h0M1405,371.4h0M1404.2,372.7h0M1406.5,346.8h0M1406,350.3h0M1406.1,346h0M1406.8,371.6h0M1407.1,373h0M1405.2,374.1h0M1409.1,345.6h0M1408,349h0M1407.6,349.9h0M1408,372.8h0M1408.7,375.3h0M1408.7,373.1h0M1410.8,353.8h0M1411.3,353.4h0M1410.5,351.5h0M1410.2,371.7h0M1409.9,372h0M1409.8,374.7h0M1412.1,350.4h0M1414.2,349.6h0M1413.2,350.3h0M1412.3,374.1h0M1413.5,373.9h0M1412.4,374.9h0M1414.7,337.8h0M1415.3,338.3h0M1415.3,338.1h0M1416.2,367.8h0M1415,367.5h0M1415.1,367.9h0M1417,336.4h0M1417,335.2h0M1418.4,336.5h0M1417.4,373.2h0M1418.8,365.5h0M1417.6,368.6h0M1421,329.8h0M1419.3,332.6h0M1420.4,331.2h0M1420.5,364.6h0M1420.2,371.9h0M1420.4,363.5h0M1423,325h0M1423.3,328h0M1422,327.9h0M1422.1,374h0M1422.5,367.8h0M1422.2,365.5h0M1425.2,334.9h0M1424.2,327.4h0M1424.8,330.6h0M1424.6,378.4h0M1425.7,375.7h0M1423.9,378.7h0M1426.5,337.7h0M1427.6,337h0M1426.6,336.4h0M1426.4,371.7h0M1426,372h0M1427,370.5h0M1428.5,335.2h0M1429.4,334h0M1428.2,335h0M1428.3,360.4h0M1429.3,367.2h0M1429.3,363h0M1432.4,335.4h0M1431.2,336.5h0M1432.4,338.7h0M1431.2,365.3h0M1430.9,362.6h0M1432.4,363.5h0M1433.3,338.4h0M1434.2,341.2h0M1434.8,338.4h0M1433.8,365.1h0M1434.8,364.8h0M1434.4,369.9h0M1435.3,341.8h0M1436.9,342.6h0M1435.5,340.9h0M1436.1,373h0M1436.3,377.1h0M1436.8,374.2h0M1438.4,339.1h0M1438.4,341.6h0M1439.4,342.4h0M1438.6,375.9h0M1438.2,369.4h0M1438.4,370.7h0M1440.4,343h0M1440.5,341.9h0M1441.9,342.3h0M1441.2,366h0M1441.5,370.6h0M1441.4,373.1h0M1442.6,341.3h0M1442.2,347.1h0M1443.5,348.1h0M1443.9,367.9h0M1443.8,370.3h0M1442.6,369.4h0M1444.7,351.4h0M1445.7,353.7h0M1445.3,353.6h0M1445.8,395.5h0M1446.4,385.5h0M1444.7,384.4h0M1447,364.3h0M1448.5,364.6h0M1447.1,366.1h0M1448.1,412.1h0M1448.1,411.8h0M1447.1,411h0M1450.1,363.9h0M1449.5,368.8h0M1450.2,369.9h0M1450.4,414.7h0M1449,417.5h0M1448.9,429.7h0M1451.7,358h0M1451.6,345.2h0M1452,363.5h0M1453.3,406.4h0M1453.3,400.7h0M1452.2,403.8h0M1454.9,357.2h0M1454.3,354.8h0M1454.3,356.6h0M1455.4,382.6h0M1454.5,381.5h0M1455.5,388.5h0M1457.6,350.7h0M1457.8,352.3h0M1456.6,351.7h0M1456,369.1h0M1456.5,373.6h0M1458,369h0M1458.9,353h0M1459.4,350.2h0M1458.2,352.6h0M1459.3,369.8h0M1458.1,368.3h0M1458.6,370.9h0M1461.5,350.5h0M1460.7,353h0M1460.7,351.3h0M1460.6,367.9h0M1461,370.4h0M1460.7,367.8h0M194.4,279.4h0M194.4,281.4h0M194.4,294.1h0M196.3,301.6h0M162.6,307.3h0M162.6,310.8h0M157.5,318.3h0M157.5,324.6h0M180.6,308.3h0M182.6,308.9h0M177.7,319.1h0M215.6,309.3h0M223.4,312.8h0M253.8,316.7h0M253.8,322.6h0M280.3,317.7h0M280.3,323.6h0M326.4,320.2h0M326.4,325h0M313.5,326.1h0M290.9,328.5h0M305.2,330.1h0M333.3,331.4h0M351.4,333.4h0M198.7,417.2h0M222.2,425.2h0M222.2,416.8h0M232.7,418.8h0M232.7,421.7h0M240.5,413.9h0M214,410.9h0M195.4,407h0M177.7,402.1h0M187.5,401.1h0M267,408.9h0M261.1,404h0M260.1,394.2h0M290.5,419.7h0M294.5,423.7h0M297.4,427.6h0M313.5,417.2h0M320.4,403.1h0M320.4,406h0M352.4,427.6h0M352.4,437.4h0M352.4,439.9h0M359.2,422.7h0M248.9,389.7h0M161.4,394.2h0M151.2,388.3h0M124.1,385.4h0M377.7,330.1h0M370.2,437.4h0M370.2,449.6h0M385.1,437.4h0M385.1,455.1h0M385.1,457h0M404.4,428.2h0M415.5,412.9h0M477.4,401.1h0M477.4,405h0M604.3,392.3h0M604.3,415.4h0M605.3,458h0M605.3,461.9h0M604.3,470.8h0M605.3,475.7h0M468.3,314.2h0M498.5,313.2h0M533.5,310.1h0M576.4,313.2h0M608.2,310.4h0M608.2,312.8h0M427.7,326.5h0M407.1,333.4h0M393.4,337.3h0M489.5,318.7h0M504.2,314.4h0M515,313.2h0M518.6,313.2h0M555.2,318.7h0M462,324.6h0M448.3,329.5h0M444.4,385.4h0M457.1,387.4h0M502.3,387.4h0M547.4,377.6h0M554.3,372.6h0M573.5,370.1h0M532.3,376.6h0M396.3,418.8h0M404.1,411.9h0M639.4,307.3h0M639.4,315.5h0M639.4,320.4h0M694.4,308.2h0M671.4,320.4h0M680.6,321.4h0M613.9,326.3h0M684.2,368.5h0M684.2,370.5h0M703.2,374.4h0M703.2,376.3h0M703.2,358.7h0M744.4,372.4h0M744.4,374.4h0M744.4,363.6h0M663,366.5h0M665,367.5h0M661,364.6h0M735.6,372.4h0M710.1,370.5h0M628.6,382.2h0M626.7,376.3h0M677.7,321.4h0M712,324.3h0M626.7,326.3h0M658.1,325.3h0M615.5,374.4h0M616.4,378.7h0M615.9,383h0M616.6,387.3h0M616.7,391.6h0M614.9,396h0M614.8,400.3h0M617.3,404.6h0M615.5,408.9h0M615.5,413.2h0M617.8,417.6h0M616.2,421.9h0M617.3,426.2h0M616.2,430.5h0M616.7,434.8h0M615.2,439.1h0M616.7,443.4h0M617.4,447.8h0M616.4,452.1h0M615.5,476h0M615.5,484.3h0M615.5,496.4h0M761.6,327.3h0M761.4,331.6h0M760.2,335.9h0M761.6,340.2h0M761.3,344.6h0M760.7,348.9h0M760.2,353.2h0M761.8,357.5h0M761,361.8h0M761.5,366.1h0M761.8,370.5h0M820.4,60.4h0M820.4,86.5h0M820.3,101.6h0M820.3,186.3h0M820.3,202.4h0M741.4,187.3h0M740.5,194.6h0M730.6,270.3h0M730.2,286h0M730.2,296.2h0M729.7,306h0M694.3,308h0M818.6,265.4h0M764,181h0M756.1,207.9h0M791.5,195.2h0M903.3,284.5h0M903.3,291.3h0M671.8,320.8h0M678.6,322.7h0M712,323.7h0M770.9,162.8h0M793.4,176.5h0M799.3,236.4h0M809.5,231.1h0M809.5,237.4h0M839.5,251.1h0M741.4,217.7h0M903.6,284.4h0M903.6,291.8h0M866.3,353.2h0M914.5,357.2h0M929.3,365.4h0M929.3,369.7h0M962.4,308.5h0M975.4,310.1h0M1032.7,310.1h0M966.5,368.3h0M988.5,370.9h0M1028.4,387h0M1028.4,390.9h0M1028.4,396.8h0M1028.4,401.7h0M1055.2,380.1h0M1103.3,380.1h0M1103.3,385h0M1103.3,394.4h0M882.6,303h0M891.4,303.6h0M923.2,303.6h0M1010.1,310.1h0M1049.4,320.7h0M1160.4,377.2h0M1197.3,386.4h0M1214,386.4h0M1325.3,403.1h0M1286.6,392.9h0M1177.7,322.2h0M1253.2,327.1h0M1231.7,330.1h0M1336.3,329.1h0M1149.2,389.9h0M1135.5,380.7h0M1239.5,384.6h0M1325.4,403.3h0M1372.5,405.8h0M1372.5,409.4h0M1372.5,413h0M1286.3,393.3h0M1347.2,388.8h0M1425.7,381.6h0M1437.3,379.9h0M1336.5,328.8h0M1422.5,319h0M1449.5,431.8h0M1449.5,425.5h0M1448.1,418.4h0M742,220.5h0M743.2,223.9h0M742.9,227.3h0M743.7,230.6h0M742.5,234h0M743.4,237.4h0M743.7,240.8h0M743.2,244.1h0M743.3,247.5h0M742.3,250.9h0M743.1,254.3h0M783.7,135.2h0M784,139.1h0M785.3,143h0M785.3,147h0M783.6,150.9h0M808.7,233.3h0M808.4,236.5h0M808.2,239.8h0M810.3,243h0M809.6,246.3h0M808.6,249.5h0M809.5,252.8h0M808,256.1h0M808.9,259.3h0M840.6,253.9h0M839,257.7h0M839.3,261.4h0M839.6,265.2h0M838.3,269h0M839,272.8h0M860.7,295.1h0M858.4,299.3h0M860.2,303.6h0M858.8,307.8h0M882.9,305.4h0M881.4,309.4h0M882.5,313.4h0M1154.9,328.9h0M1157.3,335.2h0M1335,330.9h0M1337.5,334.6h0M1336.2,338.3h0M1337.5,342h0M1336.2,345.7h0M1423.2,320.8h0M1423,324.1h0M1421.5,327.3h0M628.2,379.5h0M627.5,375.7h0M628.2,372h0M629.6,368.3h0M629.3,364.6h0M627.7,360.8h0M628.1,357.1h0M664.2,365.7h0M663.2,359.5h0M1029.7,399.9h0M1029.4,396.5h0M1027.6,393h0M1028.6,389.6h0M1029.9,386.2h0M1029.8,382.7h0M1027.8,379.3h0M1027.5,375.9h0M1027.9,372.4h0M1028.6,369h0M1029.3,365.6h0M1054.3,376.4h0M1056.2,371.9h0M1149,387.2h0M1150,383.8h0M1150.4,380.5h0M1150,377.2h0M1198.2,383.2h0M1196.8,378.5h0M1325.3,396h0M1325.5,391.3h0M1395,387.8h0M1395.5,382.2h0M1426.9,379.8h0M1424.4,376.4h0M1424.6,373.1h0M1425.1,369.8h0M1425.3,366.5h0M1437.6,378h0M1436.7,371.7h0M1448.7,429.9h0M1449.6,426.6h0M1448.3,423.3h0M1448.7,420h0M1449.8,416.7h0M1449.5,413.4h0M1449.3,410.1h0M1450.3,406.8h0M1449.6,403.5h0M1448.8,400.2h0M1450.1,396.9h0M1448.5,393.5h0M1448.8,390.2h0" fill="none" stroke="#1f77b4" stroke-width="5.56" stroke-linecap="round"/>
<path d="M115.5,343.2 116.8,349.6 116.9,349.5 118.1,351 119.4,351.4 120.7,353.5 121.8,355.4 122,355 123.3,356.6 124.6,359.6 125.7,361 125.9,361 127.2,365.4 128.5,369.7 129.8,373.2 130.6,374.1 131.1,372 132.4,366.5 133.7,360.7 134.5,356.5 135,358 136.3,355.9 137.5,354.3 137.6,354.2 138.9,354.5 140.2,352.8 140.4,351.6 141.5,357 142.8,364 143.4,368.5 144.1,367.9 145.4,366.3 146.7,364.2 148,362.5 148.3,362.1 149.3,360.6 150.6,361.9 151.9,362.3 153.2,363.1 153.2,363 154.5,365.1 155.8,365.4 157.1,365.3 158.4,363.1 159.1,361.3 159.7,360.5 161,359.9 162.3,359.8 163.6,360 164.9,360.6 166.2,362.3 167.5,361.9 168.8,363.3 168.9,364.1 170.1,365.3 171.4,365.7 172.7,367.1 174,367.8 175.3,366.6 176.6,367 176.7,366.7 177.9,366 179.2,364 180.5,364.4 181.8,364.8 183.1,366.4 184.4,366.7 184.6,366.8 185.7,364.1 187,361.4 188.3,357.2 188.5,357.7 189.6,352.9 190.5,349.4 190.9,349.7 192.2,356.1 192.4,355.5 193.5,356 194.8,352.7 195.4,353.4 196.1,358.1 197.4,365.9 198.7,368.7 199.3,371.2 200,369.9 201.3,362.5 202.2,357.9 202.6,356.1 203.9,356.9 205.2,352.8 205.2,355.4 206.5,357.2 207.8,360.4 209.1,360.2 210.1,362.3 210.4,362.6 211.7,364.1 213,365.5 214,367.5 214.3,367 215.6,371.4 216.9,374.2 216.9,373.4 218.2,371.6 219.5,372.9 220.8,368.5 220.9,370.4 222.1,364.9 222.8,360.7 223.4,358.5 224.7,360.8 225.8,359.3 226,360.7 227.3,364.3 227.7,368.4 228.6,365.7 229.9,366.2 231.2,366.2 232.5,369 233.6,367.9 233.8,368.5 235.1,367.7 236.4,364.6 237.6,360.5 237.7,360.9 239,362.4 240.3,361.2 241.6,364.8 242.9,365 243.4,364.4 244.2,359.8 245.4,355 245.5,355.9 246.8,357.6 247.4,358.1 248.1,359.2 249.3,356.5 249.4,354.3 250.7,353.9 252,353.6 253.2,351.7 253.3,351.9 254.6,355 255.9,358.2 257.2,360 257.2,361.2 258.5,362.1 259.8,364.7 261.1,363.5 261.1,366 262.4,364.1 263.7,366.4 265,364.2 265,362.5 266.3,360 267.6,360.4 268.9,356.9 270.2,361.3 270.9,362.2 271.5,359 272.8,357.9 274.1,356.2 275.4,355 276.7,354 276.8,356.9 278,358.9 279.3,364.2 280.6,366.8 281.9,371.1 282.7,370.9 283.2,373.8 284.5,369.9 285.8,368.7 287.1,366.9 288.4,367.8 288.6,369.4 289.7,376.9 291,374.9 292.3,374.9 293.5,377.8 293.6,375.4 294.9,373.8 296.2,376 297.5,375.4 298.4,374.7 298.8,373.7 300.1,372.4 301.3,369.5 301.4,371.3 302.7,368.9 304,367.6 305.3,363.3 306.2,363.3 306.6,362.8 307.9,368.1 308.2,367.3 309.2,369.5 310.2,369.7 310.5,369.2 311.8,366.5 313.1,366.8 313.1,367 314.4,368.5 315.7,365.9 317,365.1 317,363.9 318.3,368.2 319.6,368.3 320.9,375.8 320.9,373.9 322.2,367.5 323.5,362.5 323.9,363.9 324.8,362.2 325.9,359.3 326.1,364 327.4,371.7 328.7,375.8 329.8,378.6 330,378.5 331.3,370.8 332.6,363.3 333.7,357.8 333.9,358.8 335.2,361.5 336.5,363.6 337.8,365.1 338.6,369.5 339.1,368.8 340.4,370.8 341.7,373.4 343,373.1 343.5,366.7 344.3,366.5 345.6,362.7 346.9,361.2 348.2,362.6 349.4,368.3 349.5,368 350.8,376.4 352.1,378.5 353.3,382.9 353.4,380 354.7,375.3 356,369.6 356.3,368.6 357.3,372 358.6,376.7 359.2,380.9 359.9,376.8 361,373.4 361.2,373.2 362.5,371.1 362.9,368.9 363.8,374.7 364.9,380.6 365.1,380.3 366.4,373.6 366.9,374 367.7,378.1 369,385.8 370.3,389.9 370.8,395.1 371.6,388.9 372.9,382.7 374.2,375.2 374.7,374.2 375.5,371.1 376.8,367.6 378.1,365.3 378.6,362.7 379.4,366.3 380.6,371.6 380.7,375 382,369.4 382.6,370.1 383.3,373.9 384.6,380 385.9,381.6 387.2,388.4 387.5,392.9 388.5,387.9 389.8,380.6 391.1,376.1 391.4,376.3 392.4,373.6 393.7,378 395,381.1 396.3,385.5 396.3,383.6 397.6,377.6 398.9,368.1 400.2,363 400.2,362.8 401.5,369.1 402.8,374.1 404.1,379.8 404.1,378.4 405.4,371.3 406.7,365.9 407.1,361.8 408,366 409.3,369.8 410,376.3 410.6,374.5 411.9,375.7 412,373.7 413.2,375.3 414.5,372.9 414.9,373.8 415.8,371.3 417.1,369.4 418.4,367.6 419.7,364.3 420.8,363.2 421,363.1 422.3,365.8 423.6,366.1 424.8,366.8 424.9,365.6 426.2,363.2 427.5,356.9 427.7,358.5 428.8,363.6 430.1,365.2 430.6,366.1 431.4,366.8 432.7,365.3 434,362.7 435.3,364.1 436.5,364.6 436.6,364.7 437.9,360 439.2,360.2 440.5,358.8 441.4,358.1 441.8,358.8 443.1,361.4 444.4,361.2 445.7,359.2 446.3,361.3 447,361.8 448.3,363.8 449.6,365 450.9,369.6 452.2,370.4 452.2,369.1 453.5,367.8 454.8,368.1 456.1,367.3 456.1,364 457.4,363.2 458.7,363.6 460,360.4 461.1,355.1 461.3,357.7 462.6,358.2 463.9,357.5 464,359.4 465.2,359.9 466.5,357.9 467.8,356.6 468.9,356.2 469.1,354.2 470.4,356.8 471.7,359.5 473,361 473.8,362.3 474.3,363.3 475.6,366.7 476.8,367.9 476.9,369.3 478.2,367.1 479.5,366.7 480.8,365.5 482.1,363.4 483.4,361.4 483.6,361.7 484.7,362.8 486,362.8 487.3,362.3 488.6,362.5 489.5,362.6 489.9,361.9 491.2,362.9 492.5,365.1 493.8,364.4 495.1,363.9 495.4,364.7 496.4,361 497.4,355.5 497.7,357.2 499,361.6 500.3,363.3 500.3,362 501.6,361 502.9,358.5 504.2,353 504.2,349.9 505.5,351.3 506.8,349.7 507.2,348.2 508.1,345.9 509.4,345.6 510.7,342.2 511.1,344.6 512,346.1 513.3,348.5 514.6,350.1 515.9,350.6 517,350.8 517.2,349.2 518.5,347.6 519.8,348.3 521.1,348.9 522.4,350.4 522.9,350.3 523.7,354.4 525,356.2 526.3,359.5 527.6,361.8 528.8,364.7 528.9,362.6 530.2,358.8 531.5,357.4 532.8,353.1 534.1,351.4 535.4,349.6 536.6,353.2 536.7,352.6 538,351.7 539.3,353 540.6,354.9 541.9,352.9 542.5,352.9 543.2,356 544.5,355 545.8,354.8 547.1,354.9 548.4,355.2 549.7,354.3 551,355.6 552.3,355.2 552.3,355.2 553.6,353.5 554.9,351.1 556.2,349.1 556.2,350.6 557.5,351.8 558.8,352.1 560.1,351.8 560.2,350.3 561.4,350.5 562.7,350.5 563.1,350.2 564,349.6 565.3,348.9 566.6,349.7 567.9,349.9 568,349.9 569.2,348.9 570.5,346.5 571.8,344.4 573.1,344.7 573.9,344.2 574.4,343.1 575.7,346.6 577,346.3 578.3,346.5 579.6,344.4 580.9,346.3 581.7,345.2 582.2,344.8 583.5,342.8 584.8,342.2 586.1,341.7 587.4,342 587.6,342.6 588.7,341.7 590,341.9 591.3,340.4 592.6,338.4 593.5,338.6 593.9,339.6 595.2,341 596.5,341.1 597.8,342 599.1,342.3 599.4,342.8 600.4,343.2 601.7,345.1 602.4,346.2 603,348.1 604.3,354.2 604.3,354.7 605.6,345.5 606.3,339.6 606.9,341.6 608.2,342 609.2,342.5 609.5,343.7 610.6,343.7 610.8,342.8 612.1,346.8 612.9,350.2 613.4,353 614.7,364.9 615.9,376.6 616,374.5 617.3,364.3 618.6,353.9 618.8,352.4 619.9,351.7 621.2,350.9 622.5,349.8 623.8,352.4 624.7,350.8 625.1,350.1 626.4,348.2 627.7,345.7 629,342.5 629.6,343.3 630.3,344.3 631.6,345.6 632.9,345.9 634.2,346.1 635.5,345.4 635.5,345.2 636.8,343.8 638.1,342.8 639.4,342 640.7,340.8 641.4,340.9 642,340.1 643.3,339.1 644.6,337 645.9,335.9 647.2,334.5 648.5,334.3 649.2,333.7 649.8,334.1 651.1,334.5 652.4,334.1 653.7,334.1 655,333.9 656.3,334.1 657.1,334 657.6,335.9 658.9,337.3 660.2,340.2 661.5,341.8 662,342.8 662.8,341.8 664.1,341.9 665.4,339.5 666.7,339.3 666.9,339.1 668,341.4 669.3,342.9 670.6,345.6 671.9,346.7 673.2,347.6 674.5,348.1 674.8,347.7 675.8,346 677.1,343.8 678.4,342.4 679.7,339.4 681,336.5 681.6,335.9 682.3,336.6 683.6,338 684.9,340.5 686.2,343.6 687.5,344.3 688.5,346 688.8,344.3 690.1,341.9 691.4,338.1 692.4,335.6 692.7,335.7 694,332.7 695.3,328 696.3,325.7 696.6,325.3 697.9,328.8 699.2,331.8 700.5,335.1 701.8,338.5 702.2,339.9 703.1,340 704.4,342.2 705.7,345.1 706.1,346 707,348.2 708.3,350.5 709.6,352.9 710.9,355.4 712,356.9 712.2,357.2 713.5,355.6 714.8,353.7 716.1,353.5 717.4,353.8 717.9,352.9 718.7,353.6 720,354.6 721.3,354.2 722.6,352.4 723.8,352.2 723.9,352.3 725.2,350.6 726.5,349.5 727.8,349.4 729.1,349.3 729.7,348.4 730.4,349.9 731.7,349.3 733,349.8 734.3,350.7 734.6,353.1 735.6,347.7 736.6,339.7 736.9,331.3 737.5,316.7 738.2,305.4 739.5,286.1 740.1,279.6 740.8,283.8 742.1,294.3 742.4,297.1 743.4,306 744.7,318.8 744.8,320.3 746,308.2 747.3,296.8 747.3,295 748.6,283.8 749.9,271.3 750.3,268.7 751.2,272.3 752.5,277.3 753.2,277.3 753.8,273.2 755.1,260 755.8,252 756.4,258.4 757.7,270.6 758.1,274.5 759,293.8 760.1,315.3 760.3,311.4 761.6,280.7 762,271.3 762.9,248.8 763.4,235.8 764.2,243.8 765.5,261 766,267.8 766.8,258 768.1,240.7 769.4,228.3 769.9,222 770.7,222.5 772,225.7 772.8,227.9 773.3,223.9 774.6,212 775.8,199.5 775.9,200 777.2,206.2 777.7,208.4 778.5,201.2 779.8,191 781.1,178.8 781.1,179.7 782.4,192 783.2,202.7 783.7,197.4 785,185.4 785,183.9 786.3,206.7 786.6,210.8 787.6,234.5 788.5,257.9 788.9,257 790.2,253 790.5,251.4 791.5,256.6 792.8,260.4 793.4,265.9 794.1,273.5 795.4,286.3 796.4,297.2 796.7,298 798,301.7 799.3,307.3 799.3,307.1 800.6,309.3 801.9,311.7 803.2,317.3 804.5,317.2 805.2,318.6 805.8,310.9 807.1,303.3 808.4,291.7 809.1,287.2 809.7,289.1 811,297.1 812.1,300.8 812.3,299.7 813.6,297.6 814.9,299.6 816.2,298.6 817,299.1 817.5,299.2 818.8,298 819.9,295.7 820.1,298.2 821.4,308.7 821.9,312.1 822.7,307.5 824,297.9 825.3,287.3 825.8,284.2 826.6,291.8 827.8,302.2 827.9,301.6 829.2,296.1 829.7,295.9 830.5,301.8 831.8,306.8 832.7,311.7 833.1,311.2 834.4,307.6 835.7,304.8 836.6,301.2 837,303.3 838.3,309.9 838.6,310.7 839.6,298.5 840.5,290.6 840.9,293 842.2,303.3 842.5,305.5 843.5,304.1 844.8,305.1 845.4,304.4 846.1,306.6 847.4,312.4 848.7,318.2 850,322.7 850.4,324.1 851.3,324.8 852.6,324.9 853.9,323.7 855.2,324.1 856.2,324.2 856.5,323.9 857.8,318.8 859.1,317.9 859.2,317.7 860,319.5 860.4,319.6 861.7,321.1 863,320.9 864.3,322 865.6,323.8 865.9,324.1 866.9,324.8 868.2,326.3 869.5,328.4 870.8,329.3 872.1,330.3 873.4,331.3 874.7,332.6 874.7,331.1 876,328.7 877.3,328.8 878.6,329.9 879.9,330.7 880.6,332.5 881.2,333.7 882.5,332.6 883.8,331.7 884.5,332.1 885.1,330.1 886.4,329 887.7,329 889,328.7 890.3,326.2 890.4,327.5 891.6,328.5 892.9,330.4 894.2,332 894.3,332.5 895.5,329.1 896.8,328.5 898.1,325.9 899.4,323.8 900.7,322.2 901.2,322.1 902,322.8 903.3,323 904.6,321.4 905.9,319.8 907.1,320.8 907.2,322.1 908.5,327.3 909.8,330.5 910,331.4 911.1,333.7 912.4,334.2 913.7,336.2 915,338.7 916.3,340.8 916.9,340 917.6,338.8 918.9,334.5 920.2,331.9 921.5,328.5 922.8,325.3 924.1,328.1 925.4,331.6 926.7,333.6 928,337.6 928.7,340.7 929.3,340.2 930.6,338.8 931.9,336.8 932.6,335.1 933.2,333.2 934.5,331.8 935.8,332.8 937.1,335 938.4,335.2 938.5,335.1 939.7,337.4 941,338.5 941.4,338.6 942.3,338 943.4,337.5 943.6,338.8 944.9,339.2 946.2,340.4 947.3,339.5 947.5,337.3 948.8,335.7 950.1,334.5 950.3,333.3 951.4,334 952.7,336.6 954,336.1 954.2,336.1 955.3,340.3 956.6,342 957.9,342.3 958.1,343.5 959.2,343.6 960.5,343.3 961.8,343.7 963.1,343.7 964.4,342.3 965.7,343 966,339.5 967,337.1 968.3,335.8 969.6,334.3 970.9,333.2 970.9,333.9 972.2,336.8 973.5,335.9 974.8,337.5 975.8,337.5 976.1,341.4 977.4,341.2 978.7,343.9 979.7,344.9 980,343.3 981.3,343.4 982.6,345.5 983.6,345.4 983.9,344.9 985.2,349 986.5,349.3 987.8,348.7 989.1,350.8 990.4,354.3 990.5,352.6 991.7,350.8 993,347 994.3,344.5 995.6,341.7 996.9,339.1 997.4,338.1 998.2,340 999.5,342.7 1000.3,343.6 1000.8,343.6 1002.1,340.6 1003.4,340.3 1004.7,337.1 1005.2,336.6 1006,335.1 1007.3,335.9 1008.6,335.6 1009.1,336.6 1009.9,336.2 1011.2,338.2 1012.5,341.8 1013.8,344.3 1015,345.9 1015.1,348.2 1016.4,346.3 1017.7,341.3 1018,338.4 1019,341.7 1020.3,343.4 1020.9,345.3 1021.6,344.9 1022.9,344.4 1024.2,342.4 1025.5,343.2 1025.8,342.6 1026.8,349.5 1028.1,357.4 1028.4,360.5 1029.4,353.4 1030.7,346.9 1031.7,339.3 1032,340.8 1033.3,343 1034.6,344.7 1034.7,343.2 1035.9,341.5 1036.6,340.4 1037.2,341.1 1038.5,342.9 1039.5,344.8 1039.8,344 1041.1,342.4 1042.4,341.4 1043.7,341.1 1044.5,339.6 1045,341.6 1046.3,343 1047.6,343.5 1048.4,343.7 1048.9,346.4 1050.2,349.1 1051.5,351.4 1052.3,352.7 1052.8,352.2 1054.1,352.4 1055.4,352.4 1056.2,354.6 1056.7,353.3 1058,347.9 1059.2,342.8 1059.3,343 1060.6,344.7 1061.9,347.4 1062.1,348.1 1063.2,348.8 1064.5,347.9 1065.1,347.3 1065.8,347.3 1067.1,350.3 1068.4,350.7 1069,352.3 1069.7,350.2 1071,349.2 1071.9,348.1 1072.3,348.1 1073.6,347.2 1074.9,348.6 1076.2,348.9 1076.8,347.6 1077.5,351.1 1078.8,356.9 1079.8,362.4 1080.1,363.4 1081.4,369.8 1082.7,376 1082.7,376.9 1084,369.9 1085.3,364.1 1086.6,357.6 1086.7,356.7 1087.9,355.1 1089.2,352.6 1090.5,350.9 1090.6,351.7 1091.8,347.5 1093.1,342.9 1094.4,341 1095.5,338.3 1095.7,337.3 1097,339 1098.3,338.2 1099.4,337.4 1099.6,339.3 1100.9,346.3 1102.2,351.1 1102.3,353.9 1103.5,353.5 1104.8,352.3 1106.1,353 1106.3,352.8 1107.4,351 1108.7,350.9 1109.2,351.9 1110,355.5 1110,356.7 1111.3,352.5 1112.6,349.1 1113.9,345.2 1113.9,347.4 1115.2,350.3 1116.5,351 1117.8,350.6 1117.8,347.9 1119.1,350.2 1120.4,350.5 1120.8,350.4 1121.7,350.2 1123,350.7 1124.3,348.7 1125.6,348.2 1126.9,349.1 1127.7,348.1 1128.2,348.4 1129.5,350.1 1130.8,352 1131.6,351.8 1132.1,352.9 1133.4,350.2 1134.7,349.1 1135.5,347.7 1136,347.4 1137.3,346 1138.6,348.2 1139.9,348.3 1141.2,349 1142.5,348.8 1143.8,348.8 1144.3,347.3 1145.1,348.6 1146.4,350.2 1147.7,357.2 1149,362.2 1149.2,363.5 1150.3,363 1151.6,359.6 1152.9,353.3 1154.2,351.2 1155.1,348.9 1155.5,349.4 1156.8,350.3 1158.1,352 1159.4,351.7 1160.7,352.3 1161,350.5 1162,350.7 1163.3,351.3 1164.6,351.8 1165.9,352.8 1167.2,354.7 1167.9,356.5 1168.5,357.9 1169.8,357.7 1171.1,357.7 1172.4,357.4 1172.8,356.2 1173.7,356.1 1175,356.7 1175.7,357.2 1176.3,355.1 1177.6,350.7 1177.7,348.8 1178.9,349.8 1180.2,348.3 1181.5,349.5 1182.8,349.7 1184.1,349.1 1185.4,349.2 1185.5,349.2 1186.7,349.2 1188,351.5 1189.3,354.1 1190.5,354.9 1190.6,355.5 1191.9,353.7 1193.2,352.8 1194.5,351.8 1195.8,352.4 1196.3,352 1197.1,352.7 1198.4,352.9 1199.7,351.3 1200.3,350.5 1201,350.2 1202.3,352.5 1203.6,352.2 1204.9,353.5 1206.2,353.6 1207.5,354.6 1208.1,352.2 1208.8,354.9 1210.1,359.5 1210.1,360 1211.4,359.9 1212.7,360.7 1214,360.8 1215.3,360.3 1216.6,357.2 1217,356.8 1217.9,352.8 1218.9,348 1219.2,347 1220.5,349.7 1221.8,350.5 1223.1,352.9 1224.4,353.9 1225.7,354.5 1225.8,354.9 1227,355.8 1228.3,355.6 1229.6,357.2 1230.9,360 1231.7,360.4 1232.2,359.2 1233.5,358.1 1234.6,358.5 1234.8,358.3 1236.1,359.1 1237.4,361 1238.7,360.5 1239.5,359.4 1240,360.7 1241.3,359 1242.6,355.7 1243.9,353.2 1244.4,351.8 1245.2,351.6 1246.5,351.2 1247.8,351.9 1249.1,354.1 1249.3,353.5 1250.4,350.7 1251.7,350.2 1253,349.6 1253.2,347.7 1254.3,350.1 1255.6,354.8 1256.9,360.1 1257.2,362.1 1258.2,364.3 1259.5,364.7 1260.8,362.9 1262.1,361.6 1262.1,360.5 1263.4,359.5 1264.7,360 1266,360.9 1267.3,362.5 1268.6,365.1 1269,365.7 1269.9,364.1 1271.2,364.5 1272.5,364.1 1273.8,362.7 1275.1,362.3 1275.8,363.6 1276.4,365.5 1277.7,368.8 1278.8,371.2 1279,371.2 1280.3,369.2 1281.6,366.6 1281.7,365.1 1282.9,366 1284.2,366.2 1284.7,367.8 1285.5,365.6 1286.8,363.1 1288.1,361.6 1289.4,357.9 1289.5,356.8 1290.7,360.5 1292,363.7 1293.3,366.5 1294.6,371.5 1295.9,374.3 1297.2,375.1 1297.4,375.3 1298.5,372.8 1299.8,369.2 1300.3,367.5 1301.1,366.7 1302.4,365.4 1303.7,365.2 1305,364.3 1305.2,365.2 1306.3,369.7 1307.2,371.9 1307.6,370.6 1308.9,370.2 1310.2,368.4 1311.5,366.8 1312.8,366.3 1314.1,364.9 1315.1,364.8 1315.4,363.7 1316.7,365.1 1318,366.1 1319.3,368.2 1320.6,368.6 1321.9,370.9 1321.9,371 1323.2,374.4 1324.5,377.5 1324.9,377.6 1325.8,374.6 1327.1,374.2 1328.4,371.5 1329.7,369.7 1329.8,369.8 1331,368.2 1332.3,363.6 1333.6,359.5 1334.9,356 1336.2,354.1 1336.3,353.5 1337.5,356.2 1338.8,359.3 1340.1,361.6 1341.4,362 1341.5,362.2 1342.7,361.7 1344,363.4 1345.3,363.5 1346.6,363.5 1347.4,363.2 1347.9,362.2 1349.2,364.1 1350.4,367.5 1350.5,367.5 1351.8,367.2 1353.1,368.8 1353.3,368.3 1354.4,370.2 1355.7,374.2 1356.3,375.8 1357,374.2 1358.3,370.9 1359.2,369.2 1359.6,367.3 1360.9,364.7 1362.2,362.2 1363.5,360 1363.9,358.3 1364.8,360.8 1366.1,365.1 1366.6,365.2 1367.4,368.8 1368.7,370.4 1369.3,370.9 1370,372.9 1371.3,376.5 1372,377.3 1372.6,374.4 1373.9,370.2 1374.6,367.5 1375.2,369.4 1376.4,371.5 1376.5,371.9 1377.8,368.8 1378.2,366.5 1379.1,368.6 1380.4,371.2 1380.4,371.4 1381.7,367.5 1383,364.4 1384.3,359.2 1384.5,359.1 1385.6,357.9 1386.9,357.8 1387.5,358.3 1388.2,360 1389.5,362.5 1390.8,366 1391.7,368.2 1392.1,367.7 1393.4,369.3 1394.7,371.1 1396,371.8 1397.3,373.8 1398.6,375.7 1398.8,375.5 1399.9,373 1401.2,371.2 1401.5,369.1 1402.5,364.9 1403.8,360.2 1404.7,357.3 1405.1,356.8 1406.4,354.8 1406.9,353.8 1407.7,355.5 1409,359.9 1410.3,363.4 1410.5,363.2 1411.6,362 1412.9,362.3 1413.7,361.8 1414.2,360.5 1415.5,358.3 1416.8,357 1417.6,355.1 1418.1,353.1 1419.4,350.8 1419.8,351.2 1420.7,345.4 1422,340.3 1422.1,340.6 1423.3,350 1424.4,352.8 1424.6,353.2 1425.9,350.6 1426.6,349.7 1427.2,348.1 1428.5,350.1 1429.8,349.9 1430.2,347.6 1431.1,348.6 1432.4,349.7 1432.8,351.1 1433.7,351.8 1435,353.3 1436.3,354.7 1436.4,355.8 1437.6,351.9 1438.2,348.5 1438.9,349.5 1440.2,351.7 1441.5,353.7 1441.8,353.2 1442.8,355.8 1444.1,358.1 1444.5,356.4 1445.4,356.7 1446.3,357.1 1446.7,368.5 1447.5,387.5 1448,392.3 1449,399.5 1449.3,398.1 1450.6,387.6 1451.3,381.3 1451.9,378.4 1453.2,369.7 1454.3,364.2 1454.5,362.4 1455.8,356.8 1456.1,353.9 1457.1,356 1458.4,356.9 1458.8,358 1459.7,359 1461,359.6 1462,358.4" fill="none" stroke="#ff7f0e" stroke-width="2.08" stroke-linejoin="round" stroke-linecap="butt"/>
</g>
<path d="M115.5,518.5v5.2M284.5,518.5v5.2M452.5,518.5v5.2M620.5,518.5v5.2M789.5,518.5v5.2M957.5,518.5v5.2M1125.5,518.5v5.2M1294.5,518.5v5.2M115.5,59.5h-5.2M115.5,117.5h-5.2M115.5,175.5h-5.2M115.5,234.5h-5.2M115.5,292.5h-5.2M115.5,350.5h-5.2M115.5,409.5h-5.2M115.5,467.5h-5.2" fill="none" stroke="#000" stroke-width="1.11"/>
<rect x="115.5" y="38.5" width="1347.0" height="480.0" fill="none" stroke="#000" stroke-width="1.11"/>
<text transform="translate(106.5,67.1) scale(1,0.965)" text-anchor="end" font-size="22.22">5</text>
<text transform="translate(106.5,125.1) scale(1,0.965)" text-anchor="end" font-size="22.22">4</text>
<text transform="translate(106.5,183.1) scale(1,0.965)" text-anchor="end" font-size="22.22">3</text>
<text transform="translate(106.5,242.1) scale(1,0.965)" text-anchor="end" font-size="22.22">2</text>
<text transform="translate(106.5,300.1) scale(1,0.965)" text-anchor="end" font-size="22.22">1</text>
<text transform="translate(106.5,358.1) scale(1,0.965)" text-anchor="end" font-size="22.22">0</text>
<text transform="translate(105.2,417.1) scale(1,0.965)" text-anchor="end" font-size="22.22">−1</text>
<text transform="translate(105.2,475.1) scale(1,0.965)" text-anchor="end" font-size="22.22">−2</text>
<rect x="1047.4" y="48.8" width="405.9" height="79.7" rx="2.7" fill="#fff" fill-opacity="0.8" stroke="#ccc" stroke-opacity="0.8" stroke-width="1.07"/>
<circle cx="1073.3" cy="63.5" r="2.75" fill="#1f77b4"/>
<path d="M1053.3,102.1h38.8" stroke="#ff7f0e" stroke-width="2" fill="none"/>
<text transform="translate(1106.1,68.8) scale(1,0.965)" font-size="18.52">Raw Data</text>
<text transform="translate(1106.1,95.8) scale(1,0.965)" font-size="18.52">Butterworth Filtered Data</text>
<text transform="translate(1106.1,117.2) scale(1,0.965)" font-size="18.52">(N=6, Tc=3.3333 min, Type: low)</text>
<rect x="779.3" y="575.5" width="529.4" height="479.0" fill="#d3d3d3" fill-opacity="0.5" stroke="#d3d3d3" stroke-opacity="0.5" stroke-width="1.39" clip-path="url(#cb)"/>
<path d="M115.5,1054.5V575.5M284.5,1054.5V575.5M452.5,1054.5V575.5M620.5,1054.5V575.5M789.5,1054.5V575.5M957.5,1054.5V575.5M1125.5,1054.5V575.5M1294.5,1054.5V575.5M115.5,1033.5H1462.5M115.5,931.5H1462.5M115.5,829.5H1462.5M115.5,727.5H1462.5M115.5,624.5H1462.5" fill="none" stroke="#b0b0b0" stroke-width="1.11" stroke-dasharray="1.11,1.83"/>
<g clip-path="url(#cb)">
<path d="M115.5,984.1 116.7,976.7 117.8,969.7 117.9,969.6 119.1,968.3 120.3,966.7 120.8,966.1 121.5,967 121.8,967.4 122.7,968.1 123.7,968.8 123.9,968.1 125.1,962.4 125.7,959.5 126.3,956.3 126.7,954.3 127.5,947.7 128.7,938.1 129.6,930.8 129.9,923.8 131.1,893.9 131.6,881.7 132.3,871.9 133.2,860.1 133.5,859.6 133.6,859.6 134.5,858.2 134.7,860.2 135.9,874.6 136.5,881.7 137.1,897 137.5,906.2 138.3,927 138.4,930.8 139.5,946.5 140.4,960.2 140.7,963.6 141.9,977 142.4,982.4 143.1,989.8 143.4,992.5 144.3,1001.8 144.3,1002.2 145.5,1007.3 146.7,1012.6 147.3,1015.1 147.9,1018.2 149.1,1024.1 149.2,1024.8 150.3,1024.9 151.5,1025 152.7,1025.1 153.9,1025.2 155.1,1025.3 156.3,1025.4 157.5,1025.6 158.7,1025.7 159.1,1025.7 159.9,1025.7 161.1,1025.8 162.3,1025.9 163.5,1026 164.7,1026 165.9,1026.1 167.1,1026.2 168.3,1026.3 168.9,1026.3 169.5,1026.3 170.7,1026.4 171.9,1026.4 173.1,1026.5 174.3,1026.6 174.8,1026.6 175.5,1026.7 176.7,1026.8 177.9,1027 179.1,1027.1 180.3,1027.2 181.5,1027.4 182.7,1027.5 183.9,1027.7 185.1,1027.8 186.3,1027.9 187.5,1028.1 188.5,1028.2 188.7,1028.2 189.9,1028.2 191.1,1028.3 192.3,1028.3 193.5,1028.3 194.7,1028.3 195.9,1028.4 197.1,1028.4 198.3,1028.4 199.5,1028.5 200.7,1028.5 201.9,1028.5 203.1,1028.5 204.3,1028.6 205.5,1028.6 206.7,1028.6 207.9,1028.7 208.1,1028.7 209.1,1028.7 210.3,1028.6 211.5,1028.6 212.7,1028.6 213.9,1028.6 215.1,1028.6 216.3,1028.5 217.5,1028.5 218.7,1028.5 219.9,1028.5 221.1,1028.5 222.3,1028.4 223.5,1028.4 224.7,1028.4 225.9,1028.4 227.1,1028.4 228.3,1028.3 229.5,1028.3 230.7,1028.3 231.9,1028.3 233.1,1028.3 234.3,1028.2 235.5,1028.2 236.7,1028.2 237.6,1028.2 237.9,1028.1 239.1,1027.9 240.3,1027.7 241.5,1027.5 242.7,1027.4 243.9,1027.2 245.1,1027 246.3,1026.8 247.4,1026.6 247.5,1026.6 248.7,1026.5 249.9,1026.4 251.1,1026.3 252.3,1026.3 253.5,1026.2 254.7,1026.1 255.9,1026 257.1,1025.9 258.3,1025.8 259.1,1025.8 259.5,1025.8 260.7,1026 261.9,1026.2 263.1,1026.3 264.3,1026.5 265.5,1026.7 266.7,1026.8 267.9,1027 269.1,1027.1 270.3,1027.3 270.9,1027.4 271.5,1027.4 272.7,1027.5 273.9,1027.5 275.1,1027.5 276.3,1027.6 277.5,1027.6 278.7,1027.6 279.9,1027.7 281.1,1027.7 282.3,1027.7 283.5,1027.8 284.7,1027.8 285.9,1027.8 286.6,1027.9 287.1,1027.9 288.3,1027.9 289.5,1027.9 290.7,1027.9 291.9,1027.9 293.1,1027.9 294.3,1027.9 295.5,1027.9 296.7,1027.9 297.9,1027.9 299.1,1027.9 300.3,1027.9 301.5,1027.9 302.7,1027.9 303.9,1027.9 305.1,1027.9 306.2,1027.9 306.3,1027.9 307.5,1027.8 308.7,1027.8 309.9,1027.7 311.1,1027.7 312.3,1027.6 313.5,1027.6 314.7,1027.5 315.9,1027.5 317.1,1027.4 318.3,1027.4 319.5,1027.3 320.7,1027.3 321.9,1027.2 323.1,1027.2 324.3,1027.1 325.5,1027.1 325.9,1027.1 326.7,1027 327.9,1027 329.1,1027 330.3,1026.9 331.5,1026.9 332.7,1026.9 333.9,1026.9 335.1,1026.8 336.3,1026.8 337.5,1026.8 338.7,1026.7 339.9,1026.7 341.1,1026.7 342.3,1026.6 343.5,1026.6 343.5,1026.6 344.7,1026.7 345.9,1026.8 347.1,1026.9 348.3,1027 349.5,1027.1 350.7,1027.2 351.9,1027.3 353.1,1027.4 354.3,1027.5 355.5,1027.6 356.7,1027.7 357.9,1027.8 359.1,1027.9 359.2,1027.9 360,1027.9 360.3,1027.9 361.5,1027.9 362.7,1027.9 363.9,1028 365.1,1028 366.3,1028 367.5,1028 368.7,1028.1 369.9,1028.1 371.1,1028.1 372.3,1028.1 373.5,1028.2 374.7,1028.2 375.9,1028.2 377.1,1028.2 378.3,1028.3 379.5,1028.3 380.7,1028.3 381.9,1028.3 383.1,1028.4 384.3,1028.4 385.5,1028.4 386.7,1028.5 387.9,1028.5 389.1,1028.5 389.4,1028.5 390.3,1028.5 391.5,1028.5 392.7,1028.5 393.9,1028.5 395.1,1028.5 396.3,1028.4 397.5,1028.4 398.7,1028.4 399.9,1028.4 401.1,1028.4 402.3,1028.4 403.5,1028.4 404.7,1028.3 405.9,1028.3 407.1,1028.3 408.3,1028.3 409.5,1028.3 410.7,1028.3 411.9,1028.3 413.1,1028.3 414.3,1028.2 415.5,1028.2 416.7,1028.2 417.9,1028.2 418.9,1028.2 419.1,1028.2 420.3,1028 421.5,1027.8 422.7,1027.6 423.9,1027.4 425.1,1027.2 426.3,1027 427.5,1026.8 428.7,1026.6 428.7,1026.6 429.9,1026.2 431.1,1025.8 432.3,1025.5 433.5,1025.1 434.7,1024.7 435.9,1024.4 436.5,1024.2 437.1,1024 438.3,1023.8 439.5,1023.5 440.7,1023.3 441.9,1023 443.1,1022.8 444.3,1022.5 444.4,1022.5 445.5,1023 446.7,1023.5 447.9,1024 449.1,1024.4 450.3,1024.9 450.3,1024.9 451.5,1024.7 452.7,1024.4 453.9,1024.2 455.1,1023.9 456.3,1023.7 457.5,1023.4 458.1,1023.3 458.7,1023.3 459.9,1023.4 461.1,1023.5 462.3,1023.6 463.5,1023.6 464.7,1023.7 465.9,1023.8 467.1,1023.9 468.3,1023.9 469.5,1024 469.9,1024 470.7,1023.9 471.9,1023.6 473.1,1023.4 474.3,1023.1 475.5,1022.9 476.7,1022.6 477.7,1022.4 477.9,1022.4 479.1,1022 480.3,1021.6 481.5,1021.3 482.7,1020.9 483.9,1020.5 484.6,1020.3 485.1,1020.6 486.3,1021.2 487.5,1021.8 488.7,1022.5 489.5,1022.9 489.9,1022.9 491.1,1023 492.3,1023.1 493.5,1023.2 494.7,1023.4 495.9,1023.5 497.1,1023.6 498.3,1023.7 499.5,1023.8 500.7,1023.9 501.3,1024 501.9,1024 503.1,1024 504.3,1024.1 505.5,1024.1 506.7,1024.1 507.9,1024.2 509.1,1024.2 510.3,1024.2 511.5,1024.3 512.7,1024.3 513.9,1024.4 515.1,1024.4 516.3,1024.4 517,1024.4 517.5,1024.4 518.7,1024.3 519.9,1024.1 521.1,1024 522.3,1023.9 523.5,1023.7 524.7,1023.6 525.9,1023.5 527.1,1023.3 528.3,1023.2 528.8,1023.1 529.5,1022.8 530.7,1022.4 531.9,1021.9 533.1,1021.4 534.3,1020.9 534.6,1020.7 535.5,1020.7 536.6,1020.6 536.7,1020.6 537.9,1020.5 539.1,1020.4 540.3,1020.3 541.5,1020.3 542.7,1020.2 543.9,1020.1 545.1,1020 546.3,1019.9 546.4,1019.9 547.5,1019.6 548.7,1019.2 549.9,1018.8 551.1,1018.4 552.3,1018 553.5,1017.6 554.7,1017.2 555.9,1016.8 556.2,1016.7 557.1,1017 558.3,1017.3 559.5,1017.7 560.7,1018.1 561.9,1018.4 563.1,1018.8 564.1,1019.1 564.3,1019 565.5,1018.7 566.7,1018.3 567.9,1017.9 569.1,1017.6 570.3,1017.2 571.5,1016.8 571.9,1016.7 572.7,1017 573.9,1017.5 575.1,1018 576.3,1018.5 577.5,1019 577.8,1019.1 578.7,1018.6 579.9,1018 581.1,1017.4 582.3,1016.8 583.5,1016.2 584.7,1015.6 585.1,1015.4 585.9,1016.1 587.1,1017 588.3,1018 589.5,1019 589.6,1019.1 590.7,1018.9 591.9,1018.7 593.1,1018.4 594.3,1018.2 595.5,1018 596.7,1017.8 597.9,1017.6 598.4,1017.5 599.1,1017.8 600.3,1018.4 601.5,1019 602.7,1019.6 603.3,1019.9 603.9,1019.8 605.1,1019.5 606.3,1019.3 607.5,1019.1 608.7,1018.8 609.2,1018.7 609.9,1019.6 610,1019.7 611.1,1019.6 612.3,1019.5 613.5,1019.4 614.7,1019.3 615.9,1019.2 617.1,1019.1 618.3,1019 619.5,1018.9 619.8,1018.9 620.7,1018.8 621.9,1018.7 623.1,1018.5 624.3,1018.4 625.5,1018.3 626.7,1018.2 627.9,1018.1 628.6,1018 629.1,1010.5 629.6,1002 630.3,999 631.5,993.8 632.6,989.2 632.7,989.8 633.9,995 635.1,1000.3 635.5,1002.1 636.3,1000.8 637.5,998.9 638.7,996.9 639.4,995.7 639.9,995.6 641.1,995.1 642.3,994.7 643.5,994.3 644.7,993.8 645.3,993.6 645.9,981.7 647.1,954.9 647.3,950.4 648.3,832.6 648.3,830.4 649,773.8 649.2,770.9 649.5,767.3 650.4,754.2 650.7,751.9 651.4,746.3 651.9,746 652.8,745.3 653.1,745.6 654.1,746.3 654.3,747.3 655.3,754.2 655.5,757 656.5,773.8 656.7,783.3 657.7,832.6 657.9,847.7 659.1,926.8 659.1,927.5 660.3,947.9 661,960.2 661.5,958 662.7,952.7 663.9,947.3 665,942.5 665.1,942.5 666.3,942.1 667.5,941.7 668.7,941.3 668.9,941.2 669.9,940.9 670.8,940.6 671.1,936.3 672.3,917 672.8,909.2 673.5,908.5 674.7,907.3 674.8,907.2 675.9,927.8 676.7,942.5 677.1,943 678.3,944.6 678.7,945.2 679.5,946.2 679.7,946.5 680.7,958.2 681.9,970.4 682.6,976.9 683.1,977.3 684.3,978.1 685.5,978.9 686.7,979.7 687.5,980.2 687.9,965 688.5,936.6 689.1,936.1 690.3,935.1 690.9,934.7 691.5,935.9 692.7,938.3 693.4,939.6 693.9,939.4 695.1,939 696.3,938.6 696.3,938.6 697.5,966.4 698.3,982.1 698.7,982.3 699.9,983 701.1,983.7 702.3,984.4 703.5,985.1 704.2,985.5 704.7,970.1 705.6,938.6 705.9,938.1 707.1,936.3 707.5,935.7 708.3,937.7 709.5,941 710.1,942.5 710.7,960.5 711.9,990.5 712,993.8 713.1,993.6 714.3,993.3 715.5,993.1 716,993 716.7,954.1 717,938.6 717.9,937.4 719.1,935.7 719.9,934.7 720.3,920.7 720.9,901.3 721.5,900.5 722.7,898.8 723.9,897.1 724.4,896.4 725.1,897.3 726.3,898.9 727.5,900.4 727.7,900.8 728.7,902 729.7,903.3 729.9,909.3 731.1,945.3 731.3,950.4 732.3,995.4 732.6,1009.7 733.5,1012.1 734.7,1015.5 735.6,1018 735.9,1017.9 737.1,1017.6 738.3,1017.3 739.5,1017.1 739.5,1017 740.7,1017.7 741.9,1018.3 743.1,1018.9 744.3,1019.5 745.4,1020.1 745.5,1020.1 746.7,1019.8 747.4,1019.7 747.9,1019.6 749.1,1019.3 750.3,1019 751.5,1018.7 752.7,1018.4 753.9,1018.1 755.1,1017.9 755.2,1017.8 756.3,1017 757.2,1016.4 757.5,1016.2 758.7,1015.5 759.9,1014.8 760.1,1014.7 761.1,1015.6 762.3,1016.6 763.5,1017.7 764.7,1018.8 765.9,1019.8 767,1020.8 767.1,1020.8 768.3,1021.2 769.5,1021.6 770.7,1022 771.9,1022.4 773.1,1022.8 774.3,1023.1 775.5,1023.5 776.7,1023.9 777.9,1024.3 778.8,1024.6 779.1,1024.6 780.3,1024.6 781.5,1024.7 782.7,1024.8 783.9,1024.9 785.1,1024.9 786.3,1025 787.5,1025.1 788.7,1025.1 789.9,1025.2 791.1,1025.3 792.3,1025.3 793.5,1025.4 794.5,1025.5 794.7,1025.2 795.9,1024 797.1,1022.8 798.3,1021.6 798.4,1021.5 799.5,1020.4 800.7,1019.2 801.9,1018.1 803.1,1016.9 803.3,1016.7 804.3,1018.4 805.5,1020.3 806.2,1021.5 806.7,1022.3 807.2,1023.1 807.9,1023.1 809.1,1023.1 810.3,1023.1 811.5,1023.1 812.7,1023.1 813.1,1023.1 813.9,1022.3 815.1,1021.1 816.3,1019.9 817.5,1018.7 818,1018.2 818.7,1005.3 819,999.8 819.9,999.8 821.1,999.8 821.9,999.8 822.3,1004.3 822.9,1011.8 823.5,1012.1 824.7,1012.6 825.9,1013.2 825.9,1013.2 827.1,1013.8 827.8,1014.1 828.3,1013.2 829.5,1010.8 830.7,1008.5 831.9,1006.1 832.7,1004.5 833.1,1004.9 834.3,1006.2 835.5,1007.5 835.7,1007.7 836.7,1007.7 837.9,1007.7 839.1,1007.6 840,1007.6 840,1008 840.3,1007.9 841.5,1007.7 842.7,1007.4 843.9,1007.1 845.1,1006.9 845.9,1006.7 846.3,1005.9 846.9,1004.8 847.5,1003.4 848.7,1000.7 849.8,998.2 849.9,998.2 851.1,998 851.8,997.9 852.3,973.8 852.8,950.4 853.3,832.6 853.5,831.4 854.3,824.8 854.7,823.9 855.9,820.9 855.9,820.9 857.1,823.9 857.5,824.8 857.7,826.1 858.3,830.4 858.6,832.6 859.4,911.1 859.5,912.7 860.7,940.2 860.8,942.5 861.6,941.9 861.9,941.7 863.1,940.7 864.3,939.8 864.5,939.6 865.5,941.7 865.5,941.8 866.7,944.4 867.9,947 869.1,949.7 869.4,950.4 870.3,943.4 871.4,934.7 871.5,933.9 872.4,926.8 872.7,925.1 873.9,918.7 875.1,912.3 875.3,911.1 876.3,916.4 877.3,921.6 877.5,922.7 878.3,926.8 878.7,929.4 879.9,936.6 881.1,943.8 881.2,944.5 882.3,944 883.2,943.6 883.5,943.5 884.7,942.9 885.5,942.5 885.9,918.3 886.3,891.5 887.1,848.8 887.3,838.5 888.3,891.5 888.3,892.8 889.5,942.5 889.5,942.6 890.7,942.9 891,943 891.9,943.2 893,943.5 893.1,943.6 894.3,944.5 895.5,945.4 896.7,946.3 896.9,946.5 897.9,939.5 898.9,932.7 899.1,931.1 900.3,922.7 900.8,919 901.5,918.7 902.7,918.1 902.8,918 903.9,917.5 904.8,917 905.1,917.4 906.3,918.6 907.5,919.8 908.7,920.9 908.7,920.8 909.9,914.8 911.1,908.8 911.6,906.2 912.3,906.9 913.5,908.1 914.7,909.3 915.9,910.5 916.5,911.1 917.1,910 918.3,907.6 919.5,905.2 920.5,903.3 920.7,903.5 921.9,904.3 923.1,905.1 924.3,905.9 924.4,905.9 925.5,906.7 926.3,907.2 926.7,912.3 927.9,929.1 928.3,934.7 929.1,936.1 930.3,938.2 931.5,940.3 932.2,941.6 932.7,945.6 933.9,954.6 934.2,956.7 935.1,956.6 936.3,956.3 937.5,956.1 938.7,955.9 939.9,955.7 940.1,955.7 941.1,957.4 942,959 942.3,959.5 943.5,961.5 944,962.4 944.7,963 945.9,964.1 947.1,965.2 948.3,966.2 949.5,967.3 949.9,967.6 950.7,969 951.9,971.1 953.1,973.1 953.8,974.4 954.3,973.3 955.5,970.8 956.7,968.2 957.7,966 957.9,966.1 959.1,966.2 960.3,966.4 961.5,966.5 962.7,966.7 963.9,966.8 965.1,967 965.6,967 966.3,966.6 967.5,965.9 968.7,965.2 969.9,964.5 970.5,964.2 971.1,966 972.3,969.6 973.4,973 973.5,973.2 974.7,976.9 975.4,979 975.9,979.4 977.1,980.5 978.3,981.6 979.3,982.5 979.5,982.5 980.7,982.3 981.9,982.1 983.1,981.9 983.2,981.8 984.3,981.5 985.2,981.3 985.5,979.7 986.7,973.4 987.9,967 989.1,960.5 989.1,960.2 990.3,954 991.5,947.6 992.1,944.5 992.7,945.7 993.9,948.1 995,950.4 995.1,950.5 996,952.4 996.3,954.9 997.5,964.4 998.7,972.9 999,974.6 999.9,973 1001.1,970.8 1002.3,968.7 1003.5,966.6 1004.4,964.9 1004.7,965.4 1004.8,965.7 1005.9,967.8 1007.1,970.2 1007.8,971.6 1008.3,974.7 1009.5,982 1010.7,989.3 1010.7,989.4 1011.9,989.2 1013.1,989 1014.3,988.8 1015.5,988.6 1016.6,988.3 1016.7,988.2 1017.6,987.1 1017.9,986.7 1019.1,985 1020.3,983.3 1021.5,981.6 1021.5,981.5 1022.7,982.4 1023.9,983.2 1025.1,984 1026.3,984.9 1026.4,984.9 1027.5,986 1028.7,987.2 1029.4,987.8 1029.9,988.1 1031.1,988.8 1032.3,989.5 1033.3,990 1033.5,989.2 1034.7,984.6 1035.9,979.9 1036.2,978.7 1037.1,980 1038.3,981.9 1039.5,983.8 1040.2,984.9 1040.7,980.7 1041.9,971.5 1043.1,962.2 1044.1,960.1 1044.3,959.7 1045.5,957.3 1045.5,957.6 1046.7,966.4 1047,968.6 1047.9,976.4 1049,986.2 1049.1,986.2 1050.3,985.9 1051.5,985.7 1052.7,985.4 1053.9,985.2 1055.1,985 1055.9,984.8 1056.3,984.7 1057.4,984.6 1057.5,984.8 1058.7,988.9 1059.9,993 1060.8,996 1061.1,996.4 1062.3,997.9 1063.5,999.5 1064.7,1001 1064.7,1001 1065.7,1000.2 1065.9,1000 1067.1,999 1068.3,997.9 1069.2,997.1 1069.5,997.5 1070,998 1070.7,995.8 1071.9,992.3 1073.1,988.8 1074.3,985.3 1075.5,981.7 1076.7,978.2 1077.9,974.7 1079.1,971.1 1080,968.5 1080.3,967.5 1081.5,963.4 1082.7,959.2 1083.9,954.4 1083.9,954.3 1085.1,950.8 1086.3,947.2 1087.5,943.6 1087.8,942.5 1088.7,938.3 1089.9,932.3 1090.2,930.8 1091.1,937.7 1092.3,946.9 1092.8,950.4 1093.5,951.9 1093.7,952.4 1094.7,954.3 1095.9,956.7 1096.7,958.2 1097.1,962.2 1098.3,971.6 1099.5,980.8 1099.6,981.7 1100.7,987.1 1101.9,993.1 1103.1,999 1103.5,1001.3 1104.3,1000.7 1105.5,999.8 1105.5,999.8 1106.7,998.7 1107.9,997.6 1109.1,996.6 1109.4,996.3 1110.3,994.8 1111.5,992.7 1112.7,990.6 1113.9,988.6 1114.3,987.8 1115.1,988.7 1115.3,989 1116.3,990.4 1117.5,992.1 1118.7,993.8 1119.2,994.5 1119.9,994.7 1121.1,995.1 1122.3,995.5 1123.5,995.9 1124.7,996.3 1125.1,996.4 1125.9,996.5 1127.1,996.7 1128.3,994.4 1129.5,992.2 1130.7,990 1131.9,987.7 1132,987.5 1133.1,987.6 1134.3,987.7 1135.5,987.8 1136.7,987.9 1137.9,987.9 1137.9,988 1138.9,991.1 1139.1,991.8 1140.3,995.8 1140.8,997.5 1141.5,996.5 1142.7,994.5 1143.9,992.6 1145.1,990.7 1146.3,988.7 1146.7,988.1 1147.5,987.4 1148.7,986.3 1149.9,985.3 1150.2,984.9 1151.1,986.3 1152.3,988.1 1153.5,990 1154.6,991.7 1154.7,991.9 1155.9,993.7 1156.5,994.7 1157.1,994.4 1158.3,993.7 1159.5,993 1160.7,992.3 1161.9,991.6 1163.1,990.9 1164.3,990.1 1164.4,990.1 1165.5,992.9 1166.7,995.9 1167.9,998.8 1168.3,999.8 1169.1,998 1170.3,995.2 1171.5,992.4 1172.7,989.6 1173.2,988.4 1173.9,986.9 1175.1,984.2 1176.2,981.9 1176.3,982.5 1177.5,987 1178.7,991.5 1179.1,993 1179.9,991.8 1181.1,990.1 1182,988.8 1182.3,988.4 1183.5,986.8 1184.7,985.1 1185.9,983.5 1186,983.4 1187.1,984.8 1188.3,986.3 1189.5,987.8 1189.9,988.3 1190.7,989 1191.9,990 1193.1,991 1194.3,992 1195.5,993.1 1195.8,993.3 1196.7,991.4 1197.9,989 1199.1,986.6 1199.7,985.4 1200.3,985.4 1201.5,985.3 1202.7,985.3 1203.6,985.2 1203.9,985.5 1205.1,986.9 1206.3,988.3 1207.5,989.7 1207.5,989.8 1208.7,983.8 1209.9,977.5 1210.5,974.4 1211.1,974 1212.3,973.2 1213.4,972.5 1213.5,972.4 1214.4,971.9 1214.7,973 1215.9,977.6 1217.1,982.1 1217.4,983.1 1218.3,985.5 1219.5,988.4 1220.7,991.4 1221.3,992.8 1221.9,991.4 1223.1,988.7 1224.3,986 1225.2,983.9 1225.5,983.2 1226.2,981.4 1226.7,977.5 1227.9,968.4 1229.1,959.3 1230.1,950.4 1230.3,950.1 1231.5,947.9 1232.1,946.9 1232.7,945.8 1233.5,944.5 1233.9,947.3 1235.1,954.7 1236,960.2 1236.3,963.1 1237,969.5 1237.5,974 1238,978.2 1238.7,974 1239.9,967.1 1240.9,961.2 1241.1,961.4 1242.3,962.8 1243.5,964.1 1244.7,965.4 1245.8,966.6 1245.9,966.8 1247.1,969 1248.3,971.3 1249.5,973.6 1250.7,975.9 1250.7,976 1251.9,974.9 1253.1,973.8 1254.3,972.7 1255.5,971.6 1255.6,971.4 1256.7,968 1257.9,964.1 1258.6,962 1259.1,962.9 1260.3,964.9 1261.5,966.9 1262.7,969 1263.5,970.3 1263.9,971.4 1265.1,974.6 1266.3,977.8 1266.4,978.1 1267.5,980.9 1268.4,983.1 1268.7,982.4 1269.9,979.6 1271.1,976.7 1272.3,973.9 1273.3,971.6 1273.5,971.3 1274.7,969.6 1275.9,967.9 1276.2,967.4 1277.1,963.4 1278.3,957.5 1279.5,950.8 1279.6,950.4 1280.2,953.7 1280.7,956.7 1281.9,962.5 1283.1,968 1284.3,961.9 1285.5,955 1286.7,947.5 1287,945.5 1287.9,950.9 1289.1,958.4 1290.3,964.8 1291,968.1 1291.5,967.3 1291.9,966.6 1292.7,965.5 1293.9,963.6 1295.1,961.8 1296.3,960 1297.5,957.9 1297.8,957.3 1298.7,956.8 1299.9,956.2 1301.1,955.6 1302.3,955 1303.5,954.4 1303.7,954.3 1304.7,941.4 1305.7,928.8 1305.9,929.1 1307.1,930.6 1307.6,931.3 1308.3,932.1 1309.5,933.6 1309.6,933.7 1310.7,943.7 1311.9,954.5 1312.5,959.9 1313.1,961.5 1314.3,964.7 1315.5,967.9 1315.5,967.8 1316.7,962 1317.9,955.5 1318.4,952.4 1319.1,952.7 1320.3,953.3 1320.4,953.3 1321.5,953.9 1322.3,954.3 1322.7,956.2 1323.9,961.2 1325.1,966.3 1325.3,967 1326.3,944.8 1327.5,914.9 1327.7,911.1 1328.7,904.6 1329.2,901.3 1329.5,912.9 1329.9,913.3 1330.5,914 1331.1,914.5 1332.3,915.7 1333.5,916.9 1333.7,917.2 1334.7,921.7 1335.9,927.3 1336.9,932.1 1337.1,932.1 1338.3,932.1 1339.5,932.1 1340.1,932.1 1340.7,932.1 1341.9,932.1 1343.1,932.1 1343.3,932.1 1344.3,933.6 1345.5,935.4 1346.7,937.2 1347.6,938.5 1347.9,938.4 1349.1,938 1350.3,937.6 1351.5,937.2 1351.9,937.1 1352.7,936.8 1353.9,936.4 1354,936.4 1355.1,929 1356.3,921 1357.2,915 1357.5,913.8 1358.3,910.8 1358.7,909 1359.3,906.5 1359.9,909.9 1361.1,917.1 1361.5,919.3 1362.3,923.5 1363.5,929.5 1364.7,935.5 1365.7,940.6 1365.9,940.6 1366.8,940.3 1367.1,940.2 1368.3,939.8 1369.5,939.4 1370.7,939 1371.9,938.6 1372.1,938.5 1373.1,939.7 1374.3,941.1 1375.5,942.6 1376.7,944 1377.5,944.9 1377.9,940.8 1379.1,929.6 1379.6,925 1380.3,918.4 1380.7,915 1381.5,908.7 1382.4,902.2 1382.7,902.2 1383.9,902.2 1383.9,902.8 1385.1,918.4 1386,930 1386.3,930.1 1387.5,930.7 1388.1,931 1388.7,931.3 1389.9,931.9 1390.3,932.1 1391.1,919.2 1392.3,900.8 1393.5,883 1393.5,882.8 1394.7,874.8 1395.9,866.8 1396,866 1397.1,869 1398.3,872.3 1398.8,873.7 1399.5,875.7 1399.8,876.6 1400.7,883.4 1401.9,893 1402,893.7 1403.1,893.3 1404.3,892.8 1405.5,892.3 1406.7,891.8 1407.3,891.6 1407.9,900.5 1409.1,918.9 1410.3,937.3 1410.5,940.6 1411.5,934.8 1412.7,927.6 1413.9,920.4 1414.8,915 1415.1,910.1 1415.8,898.1 1416.3,890.8 1416.9,880.9 1417.5,878.6 1418.7,873.8 1419.9,869 1420.1,868.1 1421.1,878.6 1422.2,890.8 1422.3,891.4 1423.3,902.2 1423.5,902.6 1424.7,905 1425.9,907.4 1426.5,908.6 1427.1,897.8 1427.6,888.6 1428.2,876.6 1428.3,874 1429.3,836.1 1429.5,836.1 1430.7,836.1 1430.8,836.1 1431.8,855.3 1431.9,856.8 1433.1,892.9 1434,919.3 1434.3,930.2 1435.5,969.9 1435.5,970.4 1436.7,996.4 1437.2,1006.8 1437.9,1007.1 1439.1,1007.5 1440.3,1007.9 1441.5,1008.4 1441.5,1008.4 1442.7,1008.6 1443.6,1008.8 1443.9,1007.4 1445.1,1002.2 1446.3,997 1446.8,995 1447.5,991.6 1448.7,985.9 1448.9,984.8 1449.9,973.1 1451,959.4 1451.1,959.1 1452.3,952.3 1453.5,945.1 1454.2,940.6 1454.7,940.6 1455.9,940.6 1456.4,940.6 1457.1,940.6 1458.3,940.6 1458.5,940.6 1459.5,940.6 1460.7,940.6 1460.7,940.6 1461.9,940.6 1462.3,940.6 1462.3,1017 1461.9,1017.3 1460.7,1018.1 1460.7,1018.1 1459.5,1015.5 1458.5,1013.3 1458.3,1012.8 1457.1,1010.1 1456.4,1008.5 1455.9,1008.9 1454.7,1009.8 1454.2,1010.2 1453.5,1010.8 1452.3,1011.8 1451.1,1012.9 1451,1013 1449.9,1017.5 1448.9,1021.3 1448.7,1021.9 1447.5,1025.5 1446.8,1027.7 1446.3,1028.1 1445.1,1029.2 1443.9,1030.2 1443.6,1030.5 1442.7,1030.8 1441.5,1031.2 1441.5,1031.2 1440.3,1030.7 1439.1,1030.1 1437.9,1029.5 1437.2,1029.2 1436.7,1027.4 1435.5,1023.2 1435.5,1023.1 1434.3,1021.6 1434,1021.3 1433.1,1020.4 1431.9,1019.2 1431.8,1019.2 1430.8,1016.5 1430.7,1016.3 1429.5,1013.3 1429.3,1012.7 1428.3,1010.3 1428.2,1010.1 1427.6,1008.5 1427.1,1006.9 1426.5,1005.1 1425.9,1003.1 1424.7,999.2 1423.5,995.4 1423.3,994.8 1422.3,991.6 1422.2,991.4 1421.1,993.3 1420.1,995 1419.9,995.3 1418.7,997.3 1417.5,999.3 1416.9,1000.3 1416.3,1001.3 1415.8,1002.1 1415.1,1003.3 1414.8,1003.8 1413.9,1005.3 1412.7,1007.2 1411.5,1009.2 1410.5,1010.7 1410.3,1011.1 1409.1,1013.1 1407.9,1015 1407.3,1016 1406.7,1015.6 1405.5,1014.8 1404.3,1014.1 1403.1,1013.3 1402,1012.6 1401.9,1012.6 1400.7,1011.8 1399.8,1011.3 1399.5,1011.1 1398.8,1010.6 1398.3,1010.6 1397.1,1010.6 1396,1010.6 1395.9,1010.6 1394.7,1010.6 1393.5,1010.6 1393.5,1010.6 1392.3,1010.6 1391.1,1010.6 1390.3,1010.6 1389.9,1010.6 1388.7,1010.6 1388.1,1010.6 1387.5,1010.9 1386.3,1011.5 1386,1011.7 1385.1,1012.1 1383.9,1012.7 1383.9,1012.8 1382.7,1013.3 1382.4,1013.5 1381.5,1013.9 1380.7,1014.3 1380.3,1014.5 1379.6,1014.9 1379.1,1014.8 1377.9,1014.6 1377.5,1014.5 1376.7,1014.4 1375.5,1014.2 1374.3,1014 1373.1,1013.8 1372.1,1013.6 1371.9,1013.6 1370.7,1013.4 1369.5,1013.2 1368.3,1013 1367.1,1012.8 1366.8,1012.8 1365.9,1012.6 1365.7,1012.6 1364.7,1012.5 1363.5,1012.3 1362.3,1012.2 1361.5,1012.1 1361.1,1012 1359.9,1011.9 1359.3,1011.8 1358.7,1011.7 1358.3,1011.7 1357.5,1011 1357.2,1010.8 1356.3,1010.1 1355.1,1009.1 1354,1008.1 1353.9,1008.1 1352.7,1007.1 1351.9,1006.4 1351.5,1006.6 1350.3,1007.6 1349.1,1008.6 1347.9,1009.6 1347.6,1009.8 1346.7,1010.6 1345.5,1011.6 1344.3,1012.5 1343.3,1013.3 1343.1,1013.5 1341.9,1014.5 1340.7,1015.5 1340.1,1016 1339.5,1015.2 1338.3,1013.7 1337.1,1012.3 1336.9,1012 1335.9,1010.8 1334.7,1009.3 1333.7,1008.1 1333.5,1007.9 1332.3,1006.4 1331.1,1004.9 1330.5,1004.2 1329.9,1004.8 1329.5,1005.1 1329.2,1005.4 1328.7,1005.9 1327.7,1006.9 1327.5,1007.1 1326.3,1008.3 1325.3,1010.9 1325.1,1011 1323.9,1011.4 1322.7,1011.9 1322.3,1012.2 1321.5,1013.1 1320.4,1014.2 1320.3,1014.2 1319.1,1014.2 1318.4,1014.2 1317.9,1014.2 1316.7,1014.6 1315.5,1015.3 1315.5,1015.3 1314.3,1014.9 1313.1,1014.5 1312.5,1014.3 1311.9,1014.2 1310.7,1014.2 1309.6,1014.2 1309.5,1014.2 1308.3,1014.2 1307.6,1014.2 1307.1,1014.2 1305.9,1014.3 1305.7,1014.3 1304.7,1014.4 1303.7,1014.4 1303.5,1014.4 1302.3,1014.5 1301.1,1014.6 1299.9,1014.7 1298.7,1014.7 1297.8,1014.8 1297.5,1014.8 1296.3,1014.9 1295.1,1015.2 1293.9,1015.5 1292.7,1015.8 1291.9,1016 1291.5,1016.1 1291,1016.1 1290.3,1015.7 1289.1,1014.9 1287.9,1014.8 1287,1014.8 1286.7,1014.7 1285.5,1014.6 1284.3,1014.9 1283.1,1015.5 1281.9,1014.8 1280.7,1014.2 1280.2,1014.2 1279.6,1014.4 1279.5,1014.4 1278.3,1014.8 1277.1,1015.7 1276.2,1016.5 1275.9,1016.6 1274.7,1017.2 1273.5,1017.8 1273.3,1017.9 1272.3,1018.5 1271.1,1019.2 1269.9,1020 1268.7,1020.7 1268.4,1020.9 1267.5,1020.9 1266.4,1020.9 1266.3,1020.8 1265.1,1020.1 1263.9,1019.3 1263.5,1019.1 1262.7,1018.7 1261.5,1018.1 1260.3,1017.6 1259.1,1017 1258.6,1016.7 1257.9,1016.8 1256.7,1017 1255.6,1017.1 1255.5,1017.1 1254.3,1016.9 1253.1,1016.7 1251.9,1016.5 1250.7,1016.3 1250.7,1016.3 1249.5,1016.3 1248.3,1016.3 1247.1,1016.4 1245.9,1016.4 1245.8,1016.4 1244.7,1016.5 1243.5,1016.6 1242.3,1016.8 1241.1,1016.9 1240.9,1017 1239.9,1017.9 1238.7,1019.1 1238,1019.8 1237.5,1019.4 1237,1018.9 1236.3,1017.1 1236,1016.3 1235.1,1014.7 1233.9,1012.5 1233.5,1011.7 1232.7,1010.4 1232.1,1009.3 1231.5,1010.1 1230.3,1011.8 1230.1,1012.1 1229.1,1013.7 1227.9,1016.3 1226.7,1018.9 1226.2,1020.1 1225.5,1021.1 1225.2,1021.6 1224.3,1021.8 1223.1,1022 1221.9,1022.3 1221.3,1022.4 1220.7,1022.2 1219.5,1021.7 1218.3,1021.3 1217.4,1020.9 1217.1,1020.8 1215.9,1020.1 1214.7,1019.5 1214.4,1019.3 1213.5,1019.3 1213.4,1019.3 1212.3,1019.7 1211.1,1020.1 1210.5,1020.3 1209.9,1020.8 1208.7,1021.9 1207.5,1022.9 1207.5,1022.9 1206.3,1023.1 1205.1,1023.2 1203.9,1023.3 1203.6,1023.3 1202.7,1023.6 1201.5,1023.9 1200.3,1024.2 1199.7,1024.4 1199.1,1024.4 1197.9,1024.5 1196.7,1024.7 1195.8,1024.8 1195.5,1024.7 1194.3,1024.4 1193.1,1024.1 1191.9,1023.8 1190.7,1023.5 1189.9,1023.3 1189.5,1023.2 1188.3,1022.8 1187.1,1022.4 1186,1022.1 1185.9,1022.1 1184.7,1022.1 1183.5,1022.2 1182.3,1022.2 1182,1022.2 1181.1,1022.5 1179.9,1023 1179.1,1023.3 1178.7,1023.2 1177.5,1022.8 1176.3,1022.5 1176.2,1022.4 1175.1,1022.9 1173.9,1023.5 1173.2,1023.8 1172.7,1024.1 1171.5,1024.6 1170.3,1025.2 1169.1,1025.8 1168.3,1026.1 1167.9,1026 1166.7,1025.5 1165.5,1024.9 1164.4,1024.5 1164.3,1024.4 1163.1,1024.4 1161.9,1024.3 1160.7,1024.3 1159.5,1024.2 1158.3,1024.1 1157.1,1024.1 1156.5,1024 1155.9,1023.8 1154.7,1023.5 1154.6,1023.4 1153.5,1023.1 1152.3,1022.7 1151.1,1022.4 1150.2,1022.1 1149.9,1022.1 1148.7,1022.1 1147.5,1022.1 1146.7,1022.1 1146.3,1022.1 1145.1,1022.3 1143.9,1022.4 1142.7,1022.5 1141.5,1022.6 1140.8,1022.6 1140.3,1022.4 1139.1,1021.7 1138.9,1021.6 1137.9,1021.5 1137.9,1021.5 1136.7,1021.9 1135.5,1022.3 1134.3,1022.6 1133.1,1023 1132,1023.3 1131.9,1023.4 1130.7,1024 1129.5,1024.7 1128.3,1025.3 1127.1,1026 1125.9,1026.4 1125.1,1026.6 1124.7,1026.3 1123.5,1025.7 1122.3,1025 1121.1,1024.3 1119.9,1023.6 1119.2,1023.3 1118.7,1022.9 1117.5,1022 1116.3,1021.2 1115.3,1020.5 1115.1,1020.6 1114.3,1020.8 1113.9,1021.1 1112.7,1021.9 1111.5,1022.6 1110.3,1023.4 1109.4,1024 1109.1,1024.2 1107.9,1024.8 1106.7,1025.5 1105.5,1026.1 1105.5,1026.1 1104.3,1025.8 1103.5,1025.6 1103.1,1025.2 1101.9,1024 1100.7,1022.8 1099.6,1021.8 1099.5,1021.6 1098.3,1020 1097.1,1018.5 1096.7,1018.3 1095.9,1018 1094.7,1017.5 1093.7,1017.1 1093.5,1017 1092.8,1016.5 1092.3,1016.2 1091.1,1015.4 1090.2,1014.8 1089.9,1014.6 1088.7,1013.8 1087.8,1013.2 1087.5,1013.4 1086.3,1014 1085.1,1014.6 1083.9,1015.2 1083.9,1015.2 1082.7,1015.8 1081.5,1016.7 1080.3,1017.7 1080,1018 1079.1,1018.6 1077.9,1019.4 1076.7,1020.2 1075.5,1021 1074.3,1021.8 1073.1,1022.6 1071.9,1023.4 1070.7,1024.2 1070,1024.7 1069.5,1024.6 1069.2,1024.5 1068.3,1024.5 1067.1,1024.5 1065.9,1024.5 1065.7,1024.5 1064.7,1024.3 1064.7,1024.3 1063.5,1023.8 1062.3,1023.3 1061.1,1022.8 1060.8,1022.7 1059.9,1022.1 1058.7,1021.2 1057.5,1020.4 1057.4,1020.4 1056.3,1020.1 1055.9,1020 1055.1,1020.1 1053.9,1020.2 1052.7,1020.3 1051.5,1020.4 1050.3,1020.5 1049.1,1020.6 1049,1020.7 1047.9,1019.5 1047,1018.6 1046.7,1018.4 1045.5,1018 1045.5,1018 1044.3,1018.1 1044.1,1018.1 1043.1,1018.4 1041.9,1019.7 1040.7,1021.1 1040.2,1021.8 1039.5,1021.8 1038.3,1021.9 1037.1,1021.9 1036.2,1022 1035.9,1022.2 1034.7,1023.1 1033.5,1023.9 1033.3,1024.1 1032.3,1023.3 1031.1,1022.3 1029.9,1021.3 1029.4,1020.8 1028.7,1020.3 1027.5,1019.2 1026.4,1018.3 1026.3,1018.3 1025.1,1018.9 1023.9,1019.5 1022.7,1020.1 1021.5,1020.7 1021.5,1020.7 1020.3,1021.7 1019.1,1022.6 1017.9,1023.5 1017.6,1023.7 1016.7,1023.5 1016.6,1023.5 1015.5,1023 1014.3,1022.6 1013.1,1022.1 1011.9,1021.7 1010.7,1021.2 1010.7,1021.2 1009.5,1019.8 1008.3,1018.4 1007.8,1017.8 1007.1,1017.4 1005.9,1016.6 1004.8,1015.9 1004.7,1015.9 1004.4,1015.8 1003.5,1016.1 1002.3,1016.5 1001.1,1016.9 999.9,1017.2 999,1017.5 998.7,1017.3 997.5,1016.4 996.3,1016 996,1016 995.1,1016.1 995,1016.1 993.9,1016.2 992.7,1016.3 992.1,1016.4 991.5,1016.4 990.3,1016.5 989.1,1016.6 989.1,1016.6 987.9,1017.4 986.7,1018.3 985.5,1019.2 985.2,1019.4 984.3,1019.5 983.2,1019.6 983.1,1019.6 981.9,1019.1 980.7,1018.6 979.5,1018.1 979.3,1018 978.3,1017.4 977.1,1016.8 975.9,1016.1 975.4,1015.8 974.7,1015.3 973.5,1014.3 973.4,1014.2 972.3,1013.4 971.1,1012.6 970.5,1012.2 969.9,1012 968.7,1011.7 967.5,1011.4 966.3,1011.1 965.6,1010.9 965.1,1011.1 963.9,1011.5 962.7,1011.9 961.5,1012.3 960.3,1012.8 959.1,1013.2 957.9,1013.6 957.7,1013.6 956.7,1014.3 955.5,1015.1 954.3,1015.8 953.8,1016.1 953.1,1015.7 951.9,1015 950.7,1014.3 949.9,1013.8 949.5,1013.7 948.3,1013.1 947.1,1012.5 945.9,1011.9 944.7,1011.4 944,1011 943.5,1010.8 942.3,1010.1 942,1009.9 941.1,1009.3 940.1,1008.6 939.9,1008.6 938.7,1008.1 937.5,1007.6 936.3,1007.1 935.1,1006.6 934.2,1006.2 933.9,1005.6 932.7,1003.4 932.2,1002.7 931.5,1001.8 930.3,1000.2 929.1,998.6 928.3,997.5 927.9,998.3 926.7,1000.7 926.3,1001.4 925.5,1003.1 924.4,1005.4 924.3,1005.4 923.1,1006.3 921.9,1007.2 920.7,1008.1 920.5,1008.3 919.5,1009 918.3,1009.9 917.1,1010.8 916.5,1011.2 915.9,1010.8 914.7,1010.1 913.5,1009.3 912.3,1008.6 911.6,1008.2 911.1,1007.8 909.9,1007.1 908.7,1006.3 908.7,1006.3 907.5,1005 906.3,1003.6 905.1,1002.2 904.8,1001.8 903.9,1000.8 902.8,999.5 902.7,999.7 901.5,1003.3 900.8,1005.3 900.3,1006.9 899.1,1010.5 898.9,1011.2 897.9,1011.1 896.9,1011 896.7,1011 895.5,1010.8 894.3,1010.7 893.1,1010.5 893,1010.5 891.9,1010.4 891,1010.3 890.7,1010.3 889.5,1010.6 889.5,1010.6 888.3,1010.9 888.3,1010.9 887.3,1011.2 887.1,1011.2 886.3,1011.4 885.9,1011.5 885.5,1011.6 884.7,1011.8 883.5,1012.1 883.2,1012.2 882.3,1011.5 881.2,1010.6 881.1,1010.5 879.9,1009.5 878.7,1008.5 878.3,1008.1 877.5,1007.5 877.3,1007.3 876.3,1008.6 875.3,1009.9 875.1,1010.2 873.9,1011.8 872.7,1013.4 872.4,1013.9 871.5,1015 871.4,1015.2 870.3,1015 869.4,1014.8 869.1,1014.8 867.9,1014.6 866.7,1014.4 865.5,1014.2 865.5,1014.2 864.5,1012 864.3,1011.5 863.1,1008.8 861.9,1006.1 861.6,1005.4 860.8,1003.8 860.7,1003.6 859.5,1001.2 859.4,1001 858.6,999.5 858.3,998.8 857.7,997.5 857.5,998.4 857.1,1000 855.9,1005.3 855.9,1005.3 854.7,1010.5 854.3,1012.2 853.5,1015.8 853.3,1016.5 852.8,1019.1 852.3,1020.7 851.8,1024.2 851.1,1024.8 849.9,1025.9 849.8,1025.9 848.7,1027.2 847.5,1028.6 846.9,1029.3 846.3,1029.3 845.9,1029.3 845.1,1029.2 843.9,1028.9 842.7,1028.6 841.5,1028.4 840.3,1028.1 840,1028 840,1030 839.1,1030.1 837.9,1030.1 836.7,1030.2 835.7,1030.2 835.5,1030.2 834.3,1030.1 833.1,1029.9 832.7,1029.9 831.9,1030.1 830.7,1030.5 829.5,1030.8 828.3,1031.2 827.8,1031.3 827.1,1031.3 825.9,1031.2 825.9,1031.2 824.7,1031.2 823.5,1031.2 822.9,1031.2 822.3,1030.3 821.9,1029.7 821.1,1029.8 819.9,1029.8 819,1029.9 818.7,1030.6 818,1032.2 817.5,1032.3 816.3,1032.5 815.1,1032.7 813.9,1032.9 813.1,1033 812.7,1033 811.5,1033.1 810.3,1033.1 809.1,1033.2 807.9,1033.3 807.2,1033.3 806.7,1033.2 806.2,1033.1 805.5,1033 804.3,1032.7 803.3,1032.4 803.1,1032.5 801.9,1032.6 800.7,1032.7 799.5,1032.8 798.4,1032.9 798.3,1032.9 797.1,1033 795.9,1033.1 794.7,1033.2 794.5,1033.3 793.5,1033.2 792.3,1033.2 791.1,1033.1 789.9,1033.1 788.7,1033 787.5,1033 786.3,1032.9 785.1,1032.9 783.9,1032.8 782.7,1032.8 781.5,1032.8 780.3,1032.7 779.1,1032.7 778.8,1032.6 777.9,1032.4 776.7,1032.1 775.5,1031.8 774.3,1031.5 773.1,1031.2 771.9,1030.9 770.7,1030.6 769.5,1030.3 768.3,1029.9 767.1,1029.6 767,1029.6 765.9,1029.1 764.7,1028.6 763.5,1028 762.3,1027.4 761.1,1026.9 760.1,1026.4 759.9,1026.4 758.7,1026 757.5,1025.7 757.2,1025.6 756.3,1026 755.2,1026.5 755.1,1026.5 753.9,1027 752.7,1027.4 751.5,1027.9 750.3,1028.4 749.1,1028.8 747.9,1029.3 747.4,1029.5 746.7,1029.6 745.5,1029.8 745.4,1029.8 744.3,1029.9 743.1,1030 741.9,1030.1 740.7,1030.2 739.5,1030.3 739.5,1030.3 738.3,1030.5 737.1,1030.7 735.9,1030.9 735.6,1031 734.7,1030.3 733.5,1029.3 732.6,1028.7 732.3,1026.7 731.3,1022.8 731.1,1022.7 729.9,1022.1 729.7,1022 728.7,1021.5 727.7,1021.1 727.5,1020.9 726.3,1020 725.1,1019.1 724.4,1018.5 723.9,1018.2 722.7,1017.3 721.5,1016.4 720.9,1015.9 720.3,1015.5 719.9,1015.2 719.1,1016.1 717.9,1017.4 717,1018.5 716.7,1018.8 716,1023.1 715.5,1023.6 714.3,1024.8 713.1,1026 712,1027.1 711.9,1026.7 710.7,1023.7 710.1,1023.6 709.5,1023.5 708.3,1023.3 707.5,1023.1 707.1,1023.1 705.9,1022.8 705.6,1022.8 704.7,1023 704.2,1024.8 703.5,1024.6 702.3,1024.4 701.1,1024.1 699.9,1023.8 698.7,1023.5 698.3,1023.4 697.5,1021.3 696.3,1021.1 696.3,1021 695.1,1020.9 693.9,1020.8 693.4,1020.7 692.7,1020.6 691.5,1020.5 690.9,1020.4 690.3,1020.4 689.1,1020.2 688.5,1020.2 687.9,1020.1 687.5,1022 686.7,1021.9 685.5,1021.6 684.3,1021.4 683.1,1021.2 682.6,1021.1 681.9,1020.2 680.7,1019.3 679.7,1019.2 679.5,1019.2 678.7,1019.1 678.3,1019 677.1,1018.9 676.7,1018.9 675.9,1018.8 674.8,1018.7 674.7,1018.7 673.5,1018.6 672.8,1018.5 672.3,1018.4 671.1,1018.3 670.8,1018.3 669.9,1018.2 668.9,1018.1 668.7,1018.1 667.5,1018 666.3,1017.8 665.1,1017.7 665,1017.7 663.9,1017.6 662.7,1017.5 661.5,1017.4 661,1017.3 660.3,1017.2 659.1,1017.1 659.1,1017.1 657.9,1017.6 657.7,1017.7 656.7,1018.1 656.5,1018.1 655.5,1018.5 655.3,1018.6 654.3,1019 654.1,1019.1 653.1,1019.5 652.8,1019.6 651.9,1020 651.4,1020.2 650.7,1020.5 650.4,1020.6 649.5,1021 649.2,1021.1 649,1021.2 648.3,1021.5 648.3,1021.5 647.3,1022 647.1,1022.1 645.9,1024.5 645.3,1026.2 644.7,1026.5 643.5,1027.1 642.3,1027.7 641.1,1028.3 639.9,1028.8 639.4,1029.1 638.7,1029.2 637.5,1029.3 636.3,1029.4 635.5,1029.5 635.1,1029.3 633.9,1028.5 632.7,1027.7 632.6,1027.7 631.5,1028.1 630.3,1028.7 629.6,1029 629.1,1030.1 628.6,1031 627.9,1031.1 626.7,1031.1 625.5,1031.2 624.3,1031.3 623.1,1031.3 621.9,1031.4 620.7,1031.5 619.8,1031.5 619.5,1031.5 618.3,1031.6 617.1,1031.7 615.9,1031.7 614.7,1031.8 613.5,1031.9 612.3,1031.9 611.1,1032 610,1032.1 609.9,1032.1 609.2,1032.4 608.7,1032.5 607.5,1032.5 606.3,1032.5 605.1,1032.6 603.9,1032.6 603.3,1032.6 602.7,1032.6 601.5,1032.5 600.3,1032.4 599.1,1032.4 598.4,1032.3 597.9,1032.4 596.7,1032.4 595.5,1032.4 594.3,1032.5 593.1,1032.5 591.9,1032.5 590.7,1032.5 589.6,1032.6 589.5,1032.6 588.3,1032.5 587.1,1032.3 585.9,1032.2 585.1,1032.1 584.7,1032.2 583.5,1032.3 582.3,1032.3 581.1,1032.4 579.9,1032.5 578.7,1032.6 577.8,1032.6 577.5,1032.6 576.3,1032.6 575.1,1032.5 573.9,1032.5 572.7,1032.4 571.9,1032.4 571.5,1032.4 570.3,1032.4 569.1,1032.5 567.9,1032.5 566.7,1032.6 565.5,1032.6 564.3,1032.7 564.1,1032.7 563.1,1032.7 561.9,1032.6 560.7,1032.6 559.5,1032.6 558.3,1032.5 557.1,1032.5 556.2,1032.4 555.9,1032.5 554.7,1032.5 553.5,1032.6 552.3,1032.6 551.1,1032.7 549.9,1032.7 548.7,1032.8 547.5,1032.8 546.4,1032.9 546.3,1032.9 545.1,1032.9 543.9,1032.9 542.7,1032.9 541.5,1033 540.3,1033 539.1,1033 537.9,1033 536.7,1033 536.6,1033 535.5,1033 534.6,1033 534.3,1033.1 533.1,1033.1 531.9,1033.2 530.7,1033.3 529.5,1033.3 528.8,1033.4 528.3,1033.4 527.1,1033.4 525.9,1033.4 524.7,1033.5 523.5,1033.5 522.3,1033.5 521.1,1033.5 519.9,1033.6 518.7,1033.6 517.5,1033.6 517,1033.6 516.3,1033.6 515.1,1033.6 513.9,1033.6 512.7,1033.6 511.5,1033.6 510.3,1033.6 509.1,1033.6 507.9,1033.6 506.7,1033.6 505.5,1033.6 504.3,1033.6 503.1,1033.6 501.9,1033.6 501.3,1033.6 500.7,1033.6 499.5,1033.6 498.3,1033.6 497.1,1033.6 495.9,1033.6 494.7,1033.6 493.5,1033.6 492.3,1033.6 491.1,1033.6 489.9,1033.6 489.5,1033.6 488.7,1033.5 487.5,1033.5 486.3,1033.4 485.1,1033.3 484.6,1033.3 483.9,1033.3 482.7,1033.4 481.5,1033.4 480.3,1033.5 479.1,1033.5 477.9,1033.6 477.7,1033.6 476.7,1033.6 475.5,1033.7 474.3,1033.7 473.1,1033.8 471.9,1033.8 470.7,1033.9 469.9,1033.9 469.5,1033.9 468.3,1033.9 467.1,1034 465.9,1034 464.7,1034 463.5,1034 462.3,1034 461.1,1034 459.9,1034 458.7,1034 458.1,1034 457.5,1034.1 456.3,1034.1 455.1,1034.2 453.9,1034.2 452.7,1034.3 451.5,1034.3 450.3,1034.4 450.3,1034.4 449.1,1034.3 447.9,1034.3 446.7,1034.3 445.5,1034.2 444.4,1034.2 444.3,1034.2 443.1,1034.2 441.9,1034.3 440.7,1034.3 439.5,1034.4 438.3,1034.5 437.1,1034.5 436.5,1034.5 435.9,1034.6 434.7,1034.6 433.5,1034.7 432.3,1034.8 431.1,1034.8 429.9,1034.9 428.7,1035 428.7,1035 427.5,1035 426.3,1035 425.1,1035 423.9,1035.1 422.7,1035.1 421.5,1035.1 420.3,1035.1 419.1,1035.2 418.9,1035.2 417.9,1035.2 416.7,1035.2 415.5,1035.2 414.3,1035.2 413.1,1035.2 411.9,1035.2 410.7,1035.2 409.5,1035.2 408.3,1035.2 407.1,1035.2 405.9,1035.2 404.7,1035.2 403.5,1035.2 402.3,1035.2 401.1,1035.2 399.9,1035.2 398.7,1035.2 397.5,1035.2 396.3,1035.2 395.1,1035.2 393.9,1035.2 392.7,1035.2 391.5,1035.2 390.3,1035.2 389.4,1035.2 389.1,1035.2 387.9,1035.2 386.7,1035.2 385.5,1035.2 384.3,1035.2 383.1,1035.2 381.9,1035.2 380.7,1035.2 379.5,1035.2 378.3,1035.2 377.1,1035.2 375.9,1035.2 374.7,1035.2 373.5,1035.2 372.3,1035.2 371.1,1035.2 369.9,1035.2 368.7,1035.2 367.5,1035.1 366.3,1035.1 365.1,1035.1 363.9,1035.1 362.7,1035.1 361.5,1035.1 360.3,1035.1 360,1035.1 359.2,1035.1 359.1,1035.1 357.9,1035.1 356.7,1035.1 355.5,1035.1 354.3,1035.1 353.1,1035.1 351.9,1035.1 350.7,1035 349.5,1035 348.3,1035 347.1,1035 345.9,1035 344.7,1035 343.5,1035 343.5,1035 342.3,1035 341.1,1035 339.9,1035 338.7,1035 337.5,1035 336.3,1035 335.1,1035 333.9,1035 332.7,1035 331.5,1035 330.3,1035 329.1,1035 327.9,1035 326.7,1035 325.9,1035 325.5,1035 324.3,1035 323.1,1035 321.9,1035 320.7,1035.1 319.5,1035.1 318.3,1035.1 317.1,1035.1 315.9,1035.1 314.7,1035.1 313.5,1035.1 312.3,1035.1 311.1,1035.1 309.9,1035.1 308.7,1035.1 307.5,1035.1 306.3,1035.1 306.2,1035.1 305.1,1035.1 303.9,1035.1 302.7,1035.1 301.5,1035.1 300.3,1035.1 299.1,1035.1 297.9,1035.1 296.7,1035.1 295.5,1035.1 294.3,1035.1 293.1,1035.1 291.9,1035.1 290.7,1035.1 289.5,1035.1 288.3,1035.1 287.1,1035.1 286.6,1035.1 285.9,1035.1 284.7,1035.1 283.5,1035.1 282.3,1035.1 281.1,1035.1 279.9,1035.1 278.7,1035.1 277.5,1035.1 276.3,1035.1 275.1,1035.1 273.9,1035.1 272.7,1035.1 271.5,1035.1 270.9,1035.1 270.3,1035.1 269.1,1035 267.9,1035 266.7,1035 265.5,1035 264.3,1035 263.1,1034.9 261.9,1034.9 260.7,1034.9 259.5,1034.9 259.1,1034.9 258.3,1034.9 257.1,1034.9 255.9,1034.9 254.7,1034.9 253.5,1034.9 252.3,1034.9 251.1,1034.9 249.9,1034.9 248.7,1035 247.5,1035 247.4,1035 246.3,1035 245.1,1035 243.9,1035 242.7,1035.1 241.5,1035.1 240.3,1035.1 239.1,1035.1 237.9,1035.2 237.6,1035.2 236.7,1035.2 235.5,1035.2 234.3,1035.2 233.1,1035.2 231.9,1035.2 230.7,1035.2 229.5,1035.2 228.3,1035.2 227.1,1035.2 225.9,1035.2 224.7,1035.2 223.5,1035.2 222.3,1035.2 221.1,1035.2 219.9,1035.2 218.7,1035.2 217.5,1035.2 216.3,1035.2 215.1,1035.2 213.9,1035.2 212.7,1035.2 211.5,1035.2 210.3,1035.2 209.1,1035.2 208.1,1035.2 207.9,1035.2 206.7,1035.2 205.5,1035.2 204.3,1035.2 203.1,1035.2 201.9,1035.2 200.7,1035.2 199.5,1035.2 198.3,1035.2 197.1,1035.2 195.9,1035.2 194.7,1035.2 193.5,1035.2 192.3,1035.2 191.1,1035.2 189.9,1035.2 188.7,1035.2 188.5,1035.2 187.5,1035.2 186.3,1035.1 185.1,1035.1 183.9,1035.1 182.7,1035.1 181.5,1035.1 180.3,1035 179.1,1035 177.9,1035 176.7,1035 175.5,1035 174.8,1035 174.3,1035 173.1,1035 171.9,1035 170.7,1034.9 169.5,1034.9 168.9,1034.9 168.3,1034.9 167.1,1034.8 165.9,1034.8 164.7,1034.7 163.5,1034.7 162.3,1034.6 161.1,1034.5 159.9,1034.5 159.1,1034.4 158.7,1034.4 157.5,1034.3 156.3,1034.3 155.1,1034.2 153.9,1034.1 152.7,1034.1 151.5,1034 150.3,1033.9 149.2,1033.9 149.1,1033.8 147.9,1032.8 147.3,1032.3 146.7,1031.8 145.5,1030.9 144.3,1030.1 144.3,1030 143.4,1028.7 143.1,1027.7 142.4,1024.8 141.9,1022.9 140.7,1018.1 140.4,1017.1 139.5,1014.7 138.4,1011.9 138.3,1011.5 137.5,1009.3 137.1,1009 136.5,1008.5 135.9,1008.1 134.7,1007.2 134.5,1007.1 133.6,1006.3 133.5,1006.3 133.2,1006.4 132.3,1006.6 131.6,1006.8 131.1,1006.9 129.9,1007.2 129.6,1007.3 128.7,1009.2 127.5,1011.6 126.7,1013.2 126.3,1014 125.7,1015.2 125.1,1016.5 123.9,1019.3 123.7,1019.7 122.7,1021.4 121.8,1023 121.5,1023.1 120.8,1023.2 120.3,1023.2 119.1,1023.5 117.9,1023.8 117.8,1023.8 116.7,1024.8 115.5,1025.9Z" fill="#1f77b4" stroke="#1f77b4" stroke-width="1.2" stroke-linejoin="round"/>
<path d="M115.1,970.3h0M116.5,980h0M116.2,981.4h0M115.2,1025.1h0M117.1,1025.6h0M116.1,1024h0M117.3,966.5h0M117.9,970h0M118.4,960.8h0M117.3,1026.7h0M119.4,1021.9h0M117.6,1022.8h0M121.5,958.7h0M121.2,960.9h0M119.9,956.4h0M121.1,1029.6h0M121.5,1025.3h0M121.3,1021.6h0M122.8,962.2h0M123.8,959.4h0M122.5,969.7h0M122.2,1022.7h0M122.5,1020.9h0M123.4,1020h0M125.4,956h0M124.6,964.5h0M124.3,947.8h0M125.7,1014.2h0M124.2,1015.7h0M124.7,1015h0M127.5,948.3h0M126.9,935.5h0M128,946.8h0M127.2,1016.9h0M128.5,1011.7h0M128,1014.2h0M129,923.4h0M130.2,928.3h0M129,927.4h0M129.5,1005.3h0M129.4,1009.5h0M129.7,1008.9h0M132.7,876.3h0M132.6,865.4h0M131.7,872.2h0M132,1004.4h0M131.9,1005.4h0M131.3,1005.4h0M134.2,855.6h0M133.6,854.3h0M133.5,859.3h0M134.4,1004.6h0M133.8,1013.7h0M133.9,1005.2h0M137.2,881h0M136.5,884.1h0M136.5,889h0M137.2,1006h0M136.1,1006h0M136.7,1007.8h0M138.4,935.5h0M140,940.3h0M139.2,940.7h0M138.8,1014.9h0M139.7,1013.1h0M139,1011h0M142.4,965.1h0M140.2,968.8h0M142,971.9h0M140.2,1019.3h0M140.7,1021.3h0M140.4,1018.9h0M142.7,996.8h0M142.9,993.7h0M144.2,993.9h0M142.8,1027.2h0M143.9,1026.9h0M144,1026.9h0M146.4,1008.3h0M145.6,1011.3h0M146,1007.7h0M146.9,1029.1h0M145.5,1029.5h0M145.9,1031.4h0M149.1,1022.4h0M148.9,1021.3h0M147.4,1021.6h0M147.2,1030.6h0M148.5,1031.3h0M147.8,1030.9h0M150.4,1027.6h0M149.6,1027.1h0M149.6,1026.7h0M151,1031.3h0M150.9,1031.2h0M151.6,1031.7h0M152.7,1027.8h0M153.6,1027.1h0M152.6,1027.7h0M153.8,1031.5h0M152.4,1031.4h0M153.1,1031.5h0M155.4,1028.1h0M155.5,1027.3h0M155.6,1027.3h0M155.4,1031.5h0M155.6,1031.4h0M156,1031.5h0M158,1028.2h0M157.9,1028.2h0M156.6,1028.1h0M157.3,1031.6h0M156.8,1031.6h0M156.5,1031.8h0M160,1028.1h0M159.7,1028.5h0M159.7,1028.4h0M158.8,1031.8h0M160.3,1031.7h0M160.1,1031.8h0M161.3,1028.5h0M161.9,1027.9h0M163,1028.6h0M162.1,1031.8h0M161.6,1032h0M162,1031.9h0M165,1028h0M164.6,1028.6h0M165,1028.6h0M164.6,1032.2h0M165,1032.1h0M163.9,1032.1h0M166.1,1028.9h0M165.7,1028.5h0M166.2,1028.8h0M166.5,1032.2h0M167.5,1032.1h0M166.5,1032.2h0M168,1028.5h0M168.2,1028.4h0M169.5,1028.9h0M169.6,1032.3h0M168.6,1032.3h0M169.8,1032.3h0M171.7,1028.7h0M172,1029.2h0M170.7,1028.7h0M171.6,1032.3h0M172.2,1032.3h0M171.1,1032.3h0M172.7,1029.1h0M173.2,1029h0M173.4,1028.7h0M172.9,1032.4h0M173.8,1032.3h0M173.1,1032.3h0M175.1,1029.4h0M175.6,1029.4h0M175.2,1029.5h0M175.4,1032.4h0M175,1032.4h0M175.6,1032.4h0M178.9,1029.7h0M178.7,1029.6h0M177.9,1029.6h0M178.4,1032.3h0M178.3,1032.4h0M179.2,1032.5h0M180.2,1029.6h0M179.4,1030h0M181.4,1029.4h0M181.3,1032.5h0M179.3,1032.4h0M180.1,1032.3h0M181.8,1030.2h0M183,1030.2h0M182.7,1029.9h0M181.9,1032.4h0M183.6,1032.3h0M182.8,1032.3h0M185,1030.4h0M184.2,1030.3h0M184.4,1030.5h0M185.3,1032.4h0M185,1032.5h0M184.3,1032.5h0M186.7,1030.7h0M186.9,1030.7h0M188,1030.7h0M187.4,1032.4h0M188.4,1032.4h0M187.7,1032.4h0M189.7,1031h0M188.9,1030.9h0M190.1,1030.9h0M191.8,1031h0M192.6,1030.9h0M190.9,1031h0M194.3,1031.1h0M195.2,1031.1h0M193.7,1030.9h0M197.2,1031.1h0M196.7,1031.1h0M196.3,1031.1h0M198,1031.2h0M198.3,1031.1h0M198.9,1031.2h0M201.2,1031.3h0M201.5,1031.2h0M201,1031.3h0M219,1031.2h0M219.4,1031.2h0M219.1,1031.2h0M222,1031.1h0M222.1,1031.2h0M222.2,1031.2h0M223.7,1031.2h0M223.4,1031h0M224.6,1031.2h0M226.3,1031.1h0M225.6,1030.9h0M226.6,1031.1h0M229.6,1031.1h0M228.7,1031.1h0M228.3,1031.1h0M231.9,1030.9h0M231.2,1031h0M231.1,1030.9h0M233.7,1031h0M233.6,1031h0M233.1,1031h0M235.3,1030.9h0M236.3,1031h0M236.6,1030.9h0M237.7,1030.9h0M237,1030.9h0M238.1,1030.8h0M240.7,1030.5h0M239.4,1030.5h0M239.8,1030.5h0M241.2,1032.5h0M240.3,1032.4h0M239.4,1032.5h0M242.9,1030h0M242.1,1029.7h0M242.7,1030.1h0M243.5,1032.5h0M243.2,1032.4h0M241.5,1032.4h0M245.5,1029.6h0M245.3,1029.4h0M243.9,1029.8h0M244.6,1032.4h0M244.1,1032.3h0M245.5,1032.4h0M246.6,1029.3h0M247.7,1029.3h0M246.9,1029.4h0M246.1,1032.3h0M246.4,1032.2h0M246.6,1032.4h0M248.4,1029.2h0M250.3,1028.8h0M249.2,1029.2h0M249.6,1032.3h0M249.3,1032.2h0M249.7,1032.6h0M251.9,1028.7h0M252.8,1028.4h0M251.9,1028.8h0M251.5,1032.2h0M251.1,1032.4h0M252,1032.2h0M254.7,1027.9h0M254.4,1028.4h0M254.5,1028.8h0M254.4,1032.4h0M254.1,1032.4h0M253.8,1032.6h0M257.2,1028.5h0M255.5,1028.8h0M256.6,1028.2h0M256.1,1032.7h0M256.9,1032.3h0M256,1032.2h0M259,1028.2h0M259.7,1028.3h0M258.4,1028.3h0M258.9,1032.4h0M259.5,1032.3h0M257.6,1032.3h0M260.1,1028.3h0M261.4,1028.5h0M261.6,1028.7h0M260.7,1032.2h0M260.8,1032.2h0M260.9,1032.2h0M262.2,1029.1h0M264.2,1028.9h0M263.5,1028.8h0M262.5,1032.3h0M263.9,1032.2h0M262.7,1032.4h0M265.7,1029.2h0M264.8,1029.4h0M266.2,1028.8h0M264.9,1032.2h0M265.7,1032.3h0M265.4,1032.3h0M267.1,1029.7h0M268.6,1029.6h0M268.4,1029.4h0M266.7,1032.3h0M268.4,1032.3h0M268.5,1032.3h0M269.7,1029.5h0M271.1,1029.8h0M270.8,1030h0M269.1,1032.4h0M270.1,1032.4h0M270.8,1032.5h0M271.4,1030h0M271.6,1030.1h0M272.3,1030.1h0M273,1032.3h0M271.8,1032.3h0M272.7,1032.4h0M273.9,1030.1h0M273.8,1030.2h0M274.7,1030.3h0M275,1032.6h0M275.7,1032.4h0M273.6,1032.3h0M277.5,1030.1h0M277.5,1030.2h0M277.4,1030.1h0M277.3,1032.4h0M276.2,1032.3h0M277.8,1032.4h0M278.9,1030.1h0M278.4,1030.1h0M279.5,1030.3h0M278.4,1032.3h0M279.2,1032.4h0M278.9,1032.4h0M281.9,1030.4h0M281.9,1030.4h0M282,1030.4h0M281,1032.4h0M281.7,1032.4h0M282.1,1032.4h0M284.3,1030.5h0M283.5,1030.4h0M283.3,1030.4h0M283.3,1032.4h0M283.7,1032.4h0M284,1032.5h0M285.6,1030.5h0M286.9,1030.4h0M285.4,1030.3h0M285.1,1032.4h0M286.6,1032.4h0M286.8,1032.4h0M288.1,1030.6h0M288,1030.6h0M288.5,1030.6h0M288.5,1032.4h0M289.1,1032.4h0M288,1032.4h0M290.9,1030.6h0M289.7,1030.5h0M291.7,1030.6h0M290.8,1032.4h0M291.1,1032.4h0M291.3,1032.4h0M293,1030.6h0M294,1030.3h0M292.2,1030.6h0M293.6,1032.4h0M292.5,1032.4h0M294,1032.4h0M295,1030.6h0M296.3,1030.4h0M295.6,1030.6h0M294.9,1032.4h0M294.4,1032.4h0M294.4,1032.4h0M297,1030.5h0M298,1030.6h0M297,1030.5h0M297.6,1032.4h0M298.5,1032.4h0M297.1,1032.4h0M300.4,1030.6h0M300.3,1030.5h0M300.6,1030.5h0M300.2,1032.5h0M299.7,1032.4h0M299.9,1032.5h0M303.2,1030.6h0M301.2,1030.5h0M302.8,1030.5h0M301.3,1032.4h0M301.8,1032.5h0M303.2,1032.5h0M305,1030.6h0M304,1030.5h0M305.5,1030.5h0M304.1,1032.4h0M304,1032.4h0M303.9,1032.4h0M305.8,1030.4h0M306.4,1030.4h0M307.7,1030.6h0M306.3,1032.4h0M306.9,1032.4h0M306,1032.4h0M309.3,1030.4h0M310.2,1030.4h0M308.2,1030.4h0M309.5,1032.3h0M308.9,1032.4h0M309,1032.5h0M310.6,1030.4h0M311.8,1030.2h0M311.4,1030.4h0M310.8,1032.4h0M311.8,1032.4h0M311.1,1032.4h0M314,1030.3h0M312.8,1029.8h0M313.3,1030.3h0M313.2,1032.4h0M312.8,1032.6h0M314,1032.3h0M317.1,1030.2h0M317,1030.2h0M316.8,1029.9h0M316.2,1032.5h0M316.7,1032.4h0M316.6,1032.4h0M318.8,1029.8h0M318.7,1030.1h0M318.3,1030.1h0M319.4,1032.4h0M318,1032.4h0M319,1032.5h0M320,1029.8h0M321.5,1030h0M320.2,1029.8h0M320.9,1032.5h0M321.5,1032.5h0M320.3,1032.4h0M322.9,1029.9h0M323.5,1029.6h0M323.7,1029.8h0M322,1032.4h0M323.1,1032.4h0M323.5,1032.3h0M326.4,1029.8h0M324.6,1029.9h0M326.1,1029.3h0M325.1,1032.3h0M325.8,1032.4h0M324.3,1032.3h0M328.3,1029.7h0M326.9,1029.6h0M327.3,1029.7h0M328.4,1032.4h0M327.1,1032.3h0M328.3,1032.3h0M329.3,1029.7h0M330.9,1029.4h0M328.9,1029.7h0M330,1032.4h0M329,1032.3h0M329.2,1032.5h0M331.4,1029.5h0M331.8,1029.5h0M332.4,1029.6h0M333.2,1032.4h0M332.5,1032.4h0M333.2,1032.3h0M333.5,1029.5h0M333.8,1029.5h0M335.1,1029.4h0M334.7,1032.4h0M334.1,1032.2h0M335.2,1032.3h0M337.3,1029.5h0M336.4,1029.4h0M337.3,1028.8h0M336.6,1032.2h0M337.6,1032.6h0M336.3,1032.3h0M339.4,1028.9h0M340,1029.3h0M340,1028.8h0M338.7,1032.2h0M339.8,1032.3h0M339.7,1032.2h0M341.5,1029.1h0M341.3,1029h0M341.2,1029.4h0M341.2,1032.4h0M341.8,1032.2h0M342.2,1032.4h0M344.6,1029.2h0M343.8,1029.4h0M344.6,1029.3h0M344.4,1032.3h0M342.7,1032.5h0M344.3,1032.4h0M345.4,1028.8h0M345.7,1029.3h0M345.5,1029.1h0M345.3,1032.2h0M346.2,1032.2h0M346.2,1032.2h0M348.1,1029.3h0M349.4,1029.6h0M348.7,1029.6h0M348.2,1032.4h0M348.4,1032.3h0M349,1032.3h0M350.4,1029.7h0M350.1,1029.9h0M351.4,1029.4h0M350.1,1032.4h0M350,1032.3h0M349.7,1032.4h0M353.9,1030h0M352.2,1029.9h0M352,1029.8h0M353.5,1032.4h0M352.3,1032.3h0M353.2,1032.3h0M354.8,1030.1h0M355.3,1030h0M356,1030.2h0M354.4,1032.4h0M355.5,1032.4h0M355.8,1032.4h0M357.9,1030.3h0M357.7,1030.2h0M357.6,1030.5h0M357.1,1032.4h0M356.9,1032.5h0M358,1032.3h0M359.8,1030.6h0M359.5,1030.5h0M360,1030.6h0M360,1032.4h0M360.2,1032.5h0M358.7,1032.4h0M361.4,1030.6h0M361.8,1030.6h0M361.1,1030.5h0M361.4,1032.4h0M361.9,1032.4h0M361.5,1032.4h0M364.5,1030.5h0M364.8,1030.6h0M363.9,1030.6h0M364.5,1032.4h0M363.4,1032.5h0M365.1,1032.4h0M366.5,1030.8h0M365.6,1030.7h0M367,1030.8h0M367.7,1032.6h0M365.9,1032.4h0M365.7,1032.5h0M369,1030.8h0M368.1,1030.7h0M369.4,1030.7h0M369.5,1032.4h0M369.7,1032.5h0M369.6,1032.4h0M371.2,1030.8h0M372.2,1030.9h0M370.5,1030.8h0M372.6,1030.9h0M373.4,1030.9h0M374.2,1030.9h0M375.1,1030.9h0M375,1031h0M376.3,1030.9h0M377.2,1031h0M378.8,1031h0M378.7,1031h0M380.6,1031.1h0M380.4,1031h0M380.3,1031.1h0M383.5,1031.1h0M382.5,1031h0M382,1031h0M385.4,1031.2h0M386.1,1031.1h0M385.2,1031.2h0M387,1031.2h0M387.3,1031.2h0M388.3,1031.2h0M391.6,1031.2h0M391.8,1031.3h0M391,1031.3h0M394,1031.2h0M394,1031.2h0M393.5,1031.2h0M396.7,1031.2h0M396.1,1031.2h0M395.6,1031.2h0M398.8,1031.2h0M399.7,1031.2h0M399.4,1031.1h0M401.8,1031.1h0M400.3,1031.1h0M400.8,1031h0M403.5,1031.1h0M403.9,1031.1h0M403.5,1031.1h0M406,1031.1h0M405.3,1031h0M406.2,1031h0M408.9,1031h0M408.1,1031.1h0M407.6,1031.1h0M410,1031h0M410.7,1031.1h0M410.3,1031h0M412.8,1031h0M412.8,1030.9h0M413.2,1030.9h0M414.2,1030.9h0M413.9,1030.9h0M415.1,1031h0M417.8,1031h0M417.4,1030.7h0M418,1031h0M419.7,1030.6h0M419.6,1030.8h0M418.8,1030.8h0M420.5,1032.4h0M419.6,1032.4h0M420.4,1032.4h0M422.3,1030.3h0M421.7,1030.4h0M421.9,1030.4h0M422.3,1032.5h0M422.9,1032.4h0M421.5,1032.4h0M423.8,1029.9h0M423.8,1029.9h0M425.3,1029.9h0M424.3,1032.5h0M423.5,1032.3h0M424,1032.4h0M425.5,1029.4h0M426.4,1029.1h0M426.6,1029.1h0M426,1032.4h0M427.5,1032.3h0M427.4,1032.5h0M429.3,1029.2h0M429.8,1028.8h0M428.2,1028.7h0M429.2,1032.2h0M429.8,1032.4h0M429.1,1032.2h0M431.6,1028.6h0M432.1,1028.3h0M431.6,1027.8h0M430.3,1032.2h0M430.4,1032.5h0M431.7,1032.4h0M433.7,1027.2h0M433.9,1027.7h0M432.3,1027.8h0M434.3,1032.2h0M434.2,1032h0M432.8,1031.9h0M435.9,1026.3h0M436.5,1026.8h0M435,1026.7h0M436.3,1032.1h0M435.6,1032.1h0M435.8,1032h0M438.3,1026.4h0M437.9,1026.4h0M437.3,1026.3h0M438.7,1032.1h0M438.1,1032h0M438.5,1032h0M440.2,1025.7h0M440.1,1026h0M440,1026h0M440.1,1031.6h0M440.1,1031.8h0M439.5,1032h0M443.2,1025.4h0M442.3,1025.1h0M443.7,1023.8h0M441.8,1031.7h0M443.2,1031.5h0M442.6,1031.9h0M444.4,1024.8h0M444.2,1025h0M445.4,1023.7h0M445.6,1031.5h0M445.9,1031.8h0M444.7,1031.8h0M448.2,1026.2h0M448,1026h0M447.5,1025.6h0M446.9,1031.7h0M447.1,1031.5h0M447.3,1031.7h0M449,1026.2h0M449.7,1026.7h0M448.4,1027.2h0M449.6,1031.6h0M449.4,1031.9h0M450,1031.6h0M452.1,1027h0M451.7,1026.6h0M452.4,1027.1h0M451.8,1031.7h0M451.1,1032h0M452.5,1031.8h0M453.9,1026.8h0M454.1,1026.8h0M453.3,1026.8h0M453,1031.5h0M455.1,1031.5h0M453.1,1031.5h0M456.5,1025.9h0M456.2,1025.9h0M455.4,1025.9h0M457.4,1031.8h0M457.5,1031.8h0M455.6,1031.6h0M459.4,1025.8h0M459.5,1025h0M458.3,1025.8h0M458.2,1031.9h0M458.1,1031.7h0M459.3,1031.4h0M462.1,1026h0M461.5,1025.8h0M460.5,1025.9h0M461.4,1031.5h0M461.4,1031.3h0M461.9,1031.3h0M463.7,1025.1h0M464.3,1025.2h0M462.9,1025.1h0M462.9,1031.2h0M462.4,1031.5h0M462.5,1031.4h0M466.4,1025.2h0M465.7,1026h0M466.5,1026.2h0M465.5,1031.6h0M465,1031.9h0M466.4,1031.9h0M468.2,1026.3h0M468.6,1026.6h0M468.1,1026.3h0M468.7,1031.2h0M468.3,1031.2h0M467.4,1031.2h0M470.5,1026.4h0M470.3,1026.5h0M469.6,1026.1h0M470.3,1031.2h0M470.3,1031.3h0M470.7,1031.3h0M472.1,1025.5h0M472.7,1025.9h0M471.8,1025.9h0M473.4,1031.7h0M473.3,1031.2h0M472.6,1031.2h0M475.4,1024.5h0M475.7,1025.4h0M475.6,1025.3h0M474.4,1031.2h0M475.5,1031.2h0M474.8,1031h0M477.8,1024.6h0M477.7,1025h0M476,1024.6h0M476.5,1030.8h0M477.6,1031h0M478,1031h0M478.4,1023.4h0M479.6,1024.6h0M478.8,1024.6h0M478.4,1031h0M480.2,1031.1h0M479.5,1031.3h0M481,1022.9h0M482.6,1022.7h0M482.1,1023h0M482.4,1030.9h0M481.4,1030.9h0M480.9,1031.4h0M484.6,1022.6h0M484.9,1022.6h0M484.8,1023h0M484.4,1031h0M484,1031.4h0M485,1030.6h0M486.5,1022.9h0M487.2,1023.6h0M487.3,1023.1h0M485.4,1030.7h0M485.5,1030.6h0M485.9,1030.7h0M488,1024.7h0M488.8,1024.7h0M489.1,1024h0M489.3,1031h0M488.1,1030.8h0M488.2,1031.6h0M490.8,1025h0M490.5,1025h0M490.8,1025.3h0M490.3,1031.1h0M490.5,1031.5h0M490.9,1031h0M492.4,1025.4h0M493.3,1025.4h0M492.8,1025.9h0M492.7,1030.8h0M493.7,1031.1h0M492.3,1031.2h0M495.2,1025.9h0M495.1,1026.1h0M496,1026h0M495.9,1031h0M496.1,1031h0M495.4,1031.3h0M496.9,1025.6h0M496.9,1026h0M497,1025.8h0M497.7,1031h0M497.6,1031.1h0M497.8,1030.9h0M500.7,1026.5h0M500.8,1025.6h0M499.3,1026.5h0M499,1031.1h0M500.7,1030.9h0M499.9,1031.1h0M503.3,1026.6h0M503.3,1025.9h0M501.3,1026.4h0M501.6,1031h0M503.4,1031.1h0M501.6,1031.2h0M504.5,1026.6h0M503.8,1026.5h0M505.4,1026.4h0M505.1,1030.9h0M504.1,1031.2h0M504.3,1030.9h0M506.8,1025.5h0M506.2,1026.8h0M506.1,1026.5h0M507.2,1031.1h0M507.4,1031.3h0M506.7,1030.9h0M509.2,1026.6h0M508.6,1026.4h0M509.4,1027h0M508.4,1030.9h0M510.3,1030.9h0M509.2,1030.9h0M511.5,1027h0M512.7,1027.1h0M512.2,1026.3h0M512.3,1031h0M512.4,1031h0M512.4,1030.9h0M514.5,1026.9h0M513,1027.1h0M513.7,1027.1h0M513.7,1031h0M514.3,1030.9h0M513.1,1030.9h0M515.8,1027.1h0M516.4,1027.1h0M516.4,1027.1h0M516.4,1030.9h0M516,1031h0M516.9,1030.9h0M519.2,1026.7h0M519.4,1026.6h0M519.6,1026.9h0M517.6,1031h0M517.6,1031h0M518.6,1030.9h0M521.5,1026.8h0M521.5,1026.1h0M521.5,1026.2h0M519.7,1031h0M520.8,1031h0M520.9,1031h0M522,1026.5h0M522.2,1026.4h0M523.7,1026.3h0M523.4,1031.2h0M523.9,1030.7h0M522.9,1031.5h0M525.7,1026.2h0M525.2,1025.8h0M524.6,1026.1h0M524.4,1031h0M524.6,1030.8h0M524.8,1030.9h0M528.4,1025.1h0M528.4,1025.9h0M528.3,1025.4h0M527.1,1030.8h0M528.1,1030.7h0M527.6,1030.9h0M530.1,1025.4h0M529.9,1025.2h0M531,1025.3h0M529,1030.6h0M529,1030.7h0M530.4,1031.3h0M531.6,1023.9h0M531.4,1024.3h0M532.2,1024.4h0M531.8,1030.6h0M533.3,1030.6h0M533.2,1030.4h0M535.7,1023.3h0M534.1,1022.9h0M534.1,1023.2h0M533.7,1030.9h0M535.4,1030.8h0M535.6,1030.5h0M537.4,1022.5h0M536.3,1022.1h0M537.2,1022.2h0M536.6,1030.6h0M536.6,1030.8h0M536.8,1031.2h0M539.9,1020.8h0M539.6,1021.8h0M540,1023.2h0M539.5,1030.4h0M539.7,1030.9h0M538.6,1030.7h0M540.6,1022.2h0M542.1,1021.9h0M542.3,1021.8h0M541.9,1030.3h0M540.5,1030.2h0M540.8,1031h0M542.8,1022.9h0M543.5,1022.5h0M544.8,1022.1h0M543.4,1030.4h0M544.6,1030.3h0M544.3,1030.9h0M546.4,1022.7h0M547.1,1019.9h0M546.4,1021.1h0M545.2,1030.5h0M545.3,1030.5h0M546.3,1030.3h0M549.1,1021.4h0M548.5,1020.4h0M548,1019.6h0M548.2,1030.5h0M548.1,1030.3h0M547.4,1030.3h0M551,1019.1h0M550.8,1020.6h0M551.4,1020.7h0M550.6,1030.1h0M550.6,1030.1h0M551.6,1030.1h0M554,1020.1h0M553.5,1019.9h0M553.6,1018.7h0M551.9,1029.9h0M553.2,1030.6h0M553.6,1029.9h0M554.9,1017.2h0M556,1019.2h0M556.1,1018.9h0M554.8,1030.1h0M554.4,1030.5h0M554.5,1030h0M557.2,1019h0M557.5,1019h0M557.6,1019.1h0M557.3,1030.4h0M557.4,1030.4h0M558.7,1029.9h0M560.4,1019.4h0M559.1,1018.8h0M560.6,1020h0M559.2,1030.4h0M559.9,1030.1h0M559.1,1030.5h0M561.9,1021.2h0M562.4,1020.8h0M561.4,1019.2h0M561.8,1030.1h0M561.3,1030.7h0M562.2,1030.6h0M564.6,1021.4h0M565,1021.1h0M563.8,1021.7h0M564.1,1030h0M564.4,1030.9h0M565,1029.9h0M567.3,1019.7h0M567.6,1020.6h0M567.3,1020.8h0M567,1030.3h0M567.6,1030.1h0M566.3,1030.9h0M569.3,1020.2h0M569.7,1020.1h0M568.8,1020.1h0M568.7,1030.6h0M568.6,1029.9h0M568.2,1030h0M571.4,1017.9h0M570.9,1018.2h0M571.3,1017.9h0M572.4,1029.6h0M571.1,1030.2h0M571.7,1029.9h0M574.7,1018.5h0M574.3,1019.7h0M572.9,1020.1h0M573.8,1029.8h0M573,1030h0M573.2,1030.7h0M576.4,1020.2h0M576.6,1019.6h0M575.7,1020.7h0M576,1030.1h0M575.4,1030.6h0M575,1030h0M578.4,1020.6h0M578.4,1021h0M577.6,1020.9h0M579.2,1029.9h0M579.3,1030h0M579,1030.4h0M581.3,1020h0M580.5,1018.7h0M580.7,1020.3h0M580.1,1030h0M580,1030.1h0M579.7,1030h0M582.4,1018.7h0M583.4,1019h0M583.3,1017.5h0M583.8,1031h0M582.2,1029.9h0M582.5,1029.6h0M584.3,1017.3h0M585.7,1017.6h0M585.3,1015.5h0M585.7,1029.7h0M584.3,1030h0M585.3,1029.8h0M588.5,1019.6h0M588.1,1018.8h0M587.8,1019.4h0M586.5,1029.9h0M588.4,1030.1h0M587.4,1030h0M590.5,1021.5h0M590.6,1018.7h0M588.8,1021.2h0M590.3,1030.4h0M589.6,1030.7h0M589,1030h0M593,1020.3h0M591.3,1020.6h0M591.2,1020.9h0M592.5,1031.4h0M592.8,1030.6h0M592.6,1031.1h0M595,1020.9h0M594.8,1020.6h0M595.1,1020.9h0M595.4,1030h0M593.3,1030.4h0M594.1,1029.8h0M595.7,1017.5h0M597.3,1019.2h0M595.6,1019.9h0M596.1,1029.8h0M595.8,1029.7h0M597.6,1029.8h0M598.2,1019.5h0M599.4,1019.8h0M599.4,1019.6h0M599.5,1029.8h0M598.2,1029.7h0M598,1030.1h0M602.3,1020.6h0M601.6,1021.1h0M600.7,1020.1h0M601.2,1030.1h0M601.7,1030h0M602.3,1029.8h0M603.6,1021.6h0M603.2,1022.4h0M603.6,1021.1h0M602.9,1030.1h0M602.6,1030.6h0M603.5,1029.9h0M605.2,1021.7h0M606.6,1022h0M605.9,1022.1h0M604.8,1029.9h0M606.9,1030.2h0M605.4,1030h0M609,1020.5h0M607.2,1020.9h0M609,1021.7h0M608.9,1029.9h0M607.9,1030.4h0M607.5,1029.8h0M611.1,1020.3h0M610.7,1022h0M610.4,1021.7h0M609.5,1030h0M611,1029.8h0M610.5,1030.6h0M611.7,1021.3h0M611.8,1022.1h0M613.5,1020.8h0M612.1,1029.4h0M612,1029.7h0M612.7,1029.3h0M615,1021h0M614,1020.5h0M614.3,1021.5h0M614.5,1029.3h0M614.7,1029.4h0M615.8,1029.4h0M616.4,1021.5h0M617.8,1020.6h0M616.9,1020.7h0M618.1,1030h0M617.8,1029.9h0M617.9,1029.7h0M620.5,1021.3h0M619.7,1020.2h0M620.2,1021.4h0M620.6,1028.7h0M619.3,1029h0M618.8,1029.3h0M622,1019.3h0M621.8,1021h0M621.2,1020.1h0M622.8,1029h0M623.1,1028.9h0M622.4,1028.8h0M624.4,1019.6h0M625.4,1020h0M625,1021h0M623.7,1029.1h0M623.3,1028.5h0M623.3,1029.4h0M625.7,1018.4h0M627.1,1019.8h0M626.7,1020.6h0M627.5,1028.7h0M627.6,1029.8h0M626,1028.5h0M628.9,1013.8h0M629.1,1016.5h0M629.5,1014.6h0M629.9,1027.9h0M628.3,1028.5h0M629.2,1028.4h0M630.6,994.3h0M630.4,996.3h0M632,992h0M630.5,1025.9h0M631.1,1032.4h0M630.2,1026.6h0M632.6,991.1h0M632.7,994.9h0M633.9,994.8h0M632.8,1026.7h0M634.5,1029.2h0M633.1,1029.6h0M634.8,1001.9h0M634.8,1000.9h0M635.4,1000h0M635.8,1027h0M635.3,1027.2h0M635.7,1026.9h0M638.3,995.7h0M637.3,996.9h0M638.3,992.6h0M637.9,1027.6h0M637.2,1027.6h0M637.4,1027.5h0M640.9,991.7h0M639.9,993.4h0M640.6,993.9h0M640.2,1026.6h0M639.6,1027.1h0M639.9,1026.1h0M642.4,995.9h0M642.6,994.3h0M642,995h0M642.1,1028.2h0M642.4,1027.2h0M642.5,1025.2h0M645.8,995.3h0M644.4,991.2h0M645.8,991h0M645,1026.7h0M644.8,1024.5h0M644.2,1025h0M646.6,947.1h0M647.6,946h0M646.2,944.8h0M647.6,1032.1h0M646.9,1020.2h0M647.1,1022.2h0M649.2,767.6h0M650.3,759.4h0M648.8,767.4h0M649.1,1018.4h0M649.4,1019.4h0M650.7,1027.3h0M652.3,743h0M651.4,743.9h0M651.2,743.1h0M651.4,1022.6h0M651.5,1024.8h0M652.2,1020.6h0M654.3,745h0M654.7,737.4h0M654.5,743.4h0M654.5,1016.5h0M654.7,1019h0M653.1,1022.5h0M656.2,775.4h0M656.8,769.4h0M657.4,769.2h0M656.7,1019.5h0M655.5,1016h0M657.4,1021.3h0M659.7,894.7h0M657.8,908.5h0M658.5,907.5h0M658,1015.2h0M658.6,1018.6h0M659,1014.7h0M661.3,962.6h0M660.6,958.5h0M662,962.6h0M662.1,1016.4h0M660.4,1015h0M660.7,1019.4h0M663.3,947h0M664.3,952h0M662.9,948.1h0M663.4,1014.9h0M663.3,1018.4h0M663.8,1015.1h0M665.1,939.9h0M666,940.3h0M665.3,944.3h0M665.7,1015.9h0M665.8,1016.7h0M665,1018.1h0M668.9,938.1h0M668.5,939.6h0M667.4,936.7h0M668.2,1016.3h0M668.4,1019.3h0M668.1,1024h0M670.8,940.3h0M670.3,939h0M671.3,926.7h0M671.2,1016h0M670.7,1020.9h0M670.1,1018.2h0M671.7,911.7h0M672,909.1h0M673.3,911h0M673,1019.7h0M673.4,1016.6h0M671.9,1015.8h0M675.4,900.6h0M675.3,905h0M674.8,906h0M673.8,1023.7h0M673.9,1020.5h0M675.1,1020.6h0M677.3,939.3h0M676.4,944h0M677.1,941.3h0M677.3,1019.9h0M677.8,1017.5h0M677.9,1016.2h0M679.3,933.1h0M678.5,944.1h0M678.7,941.7h0M679.7,1016.5h0M679.7,1021.2h0M679.5,1022.2h0M680.9,964.3h0M681.3,971.1h0M682.8,967.8h0M681.3,1019.8h0M681.6,1018.6h0M681.1,1019.7h0M683.1,970.4h0M683.1,975.3h0M684.7,973.3h0M684.6,1019.2h0M683.1,1018.9h0M683.8,1019.1h0M685.6,980.9h0M685.4,973.8h0M686,979.6h0M686.4,1021.3h0M685.5,1020.1h0M685.6,1021h0M688.7,935.6h0M689.6,938.9h0M689.3,921.7h0M687.7,1021.5h0M688.7,1020h0M689.1,1017.6h0M691.8,923.2h0M690.4,930.5h0M690,936.2h0M690.8,1018.6h0M690.6,1018.3h0M691.1,1018.6h0M693.9,922.9h0M693.8,936h0M694.2,939.7h0M694.1,1018.6h0M693.8,1019.8h0M694.4,1018.9h0M694.9,936.4h0M695.1,940.8h0M695.1,930.8h0M695.9,1019.5h0M695.8,1021.1h0M696.7,1019.3h0M698.2,973.6h0M698.1,975.3h0M698.2,974.7h0M698.9,1022.5h0M698.7,1021.2h0M697.2,1025.6h0M699.7,984.1h0M700.8,984.8h0M700,973.6h0M700.9,1024.9h0M699.8,1021.2h0M701,1025.6h0M701.5,981.2h0M703.3,977.5h0M703.4,986.2h0M703.6,1025.6h0M702.6,1021.8h0M702,1022.9h0M705.4,963.6h0M704.7,960.2h0M704.8,964.9h0M704.3,1020.1h0M705.6,1028.6h0M704.8,1020.1h0M706.7,931.2h0M706.6,930.4h0M708.1,933.2h0M707.6,1023.3h0M706.9,1021.4h0M706.2,1024.7h0M710.3,937.1h0M708.8,937.6h0M709.3,925.3h0M710.4,1026.1h0M710.4,1023.6h0M708.8,1025.7h0M711.7,985.2h0M712.5,979.6h0M711.6,984.7h0M712,1023.9h0M712.5,1023.4h0M712.2,1023.7h0M714.4,993.3h0M713.8,995.8h0M713.2,996h0M714.8,1024h0M713.3,1023.7h0M713.9,1024.4h0M717,974.7h0M715.9,969.6h0M715.8,969.7h0M716.5,1019.8h0M715.3,1024.1h0M715.5,1020.1h0M719.3,935.8h0M717.8,934.9h0M718.6,933.9h0M717.9,1015.8h0M717.9,1022.6h0M718.5,1016h0M721.5,900.9h0M720.5,900h0M720.4,892h0M721.4,1013.7h0M722,1014.4h0M721.7,1016.8h0M722.6,900.1h0M723.8,889.6h0M723.1,899.8h0M722.2,1016.1h0M723.5,1018h0M723.6,1020.7h0M725.2,899.7h0M725.5,899.2h0M724.9,897.7h0M725.2,1018.8h0M724.7,1023.6h0M726.2,1017.7h0M726.8,902.5h0M728.1,903.5h0M726.9,903.1h0M728.8,1019.9h0M728.3,1021.7h0M727,1019.1h0M730.2,916.9h0M730.8,917.8h0M730.9,914.5h0M731.2,1026.9h0M730.9,1021.7h0M729.5,1021.3h0M733.2,998.2h0M732,999.7h0M731.6,998.3h0M731.3,1026.3h0M732.6,1025.8h0M732.5,1026.6h0M734.3,1016.6h0M733.6,1018h0M734.6,1016.8h0M734.1,1027.9h0M735.5,1027.8h0M734.8,1027.8h0M736.2,1018.3h0M736.4,1019.9h0M736,1019.5h0M738,1028.2h0M736.6,1028.1h0M735.9,1028.2h0M738.8,1019.6h0M739.8,1019.4h0M739.9,1019.3h0M738.4,1028.6h0M738.5,1027.7h0M739.9,1028h0M740.9,1020.3h0M741.9,1019.9h0M742.1,1020.6h0M740.6,1027.4h0M741.2,1027.4h0M741.2,1027.5h0M745,1021.5h0M743.1,1021.4h0M745,1021.6h0M744,1027.2h0M744.1,1027.2h0M743.1,1027.5h0M746.3,1022.2h0M745.9,1022.7h0M745.9,1020.3h0M745.8,1027.1h0M746.4,1027.2h0M746.8,1027h0M749.5,1021.6h0M748.1,1022.1h0M748.7,1021.6h0M749.4,1026.4h0M749.4,1026.7h0M748,1026.4h0M750.6,1021.5h0M751.2,1021.5h0M751.4,1021.6h0M750.3,1025.6h0M751,1025.5h0M751.6,1025.5h0M753.8,1020.9h0M752.3,1021h0M752.9,1021h0M753.5,1024.7h0M752.4,1024.7h0M752.5,1024.6h0M755,1019.9h0M754.6,1019.9h0M755.6,1020.3h0M754.3,1023.7h0M755.1,1023.6h0M755.2,1023.7h0M756.6,1018.7h0M756.8,1018.8h0M757.9,1018.2h0M756.9,1023.2h0M757,1023.1h0M758.1,1023.2h0M761,1016.7h0M760,1016.4h0M760.6,1016.5h0M760.7,1024.2h0M760.1,1023.9h0M759.6,1024.6h0M762.4,1018.8h0M763.3,1019.4h0M762.5,1019h0M762.7,1024.9h0M763.2,1024.8h0M763.3,1025.3h0M764.6,1021.4h0M764.4,1021.1h0M765.6,1021.1h0M763.9,1025.8h0M765.4,1025.9h0M764.5,1026h0M767.5,1023.5h0M767,1023.2h0M766.4,1023h0M767.5,1027h0M767.9,1027.1h0M767.4,1027h0M769.8,1024.3h0M769.7,1024h0M770.1,1024.2h0M769.9,1027.5h0M768.7,1027.5h0M768.3,1027.6h0M771,1024.8h0M772.4,1024.8h0M771.1,1024.9h0M772.3,1028.3h0M770.8,1028h0M772.3,1028.2h0M773.1,1025.4h0M774.6,1025.4h0M774.7,1025.6h0M774.2,1028.7h0M774.7,1028.8h0M773.8,1028.6h0M775.6,1026.1h0M776.3,1026.1h0M775.2,1026.4h0M776.4,1029.4h0M775.6,1029.3h0M776.5,1029.3h0M779.2,1027.1h0M779.3,1026.7h0M778,1027.2h0M779.1,1029.9h0M777.8,1030h0M777.3,1030h0M781.6,1027.2h0M781.8,1027.4h0M781.1,1027.4h0M779.7,1030.1h0M780.1,1030.1h0M780.1,1030.1h0M783.8,1027.6h0M782,1027.4h0M782.2,1027.6h0M782.9,1030.1h0M784,1030.2h0M784,1030.1h0M785.6,1027.5h0M785.9,1027.4h0M785.2,1027.7h0M784.5,1030.2h0M785.8,1030.4h0M785.2,1030.2h0M786.7,1027.8h0M788.5,1027.4h0M787.2,1027h0M787.1,1030.4h0M787.6,1030.3h0M787.8,1030.3h0M789,1027.9h0M790.9,1027.8h0M789.9,1027.7h0M790.8,1030.4h0M790.8,1030.3h0M791,1030.4h0M792.3,1028h0M791.9,1027.8h0M792.2,1028h0M791.5,1030.6h0M793.3,1030.5h0M793.2,1030.5h0M793.8,1027.8h0M794.4,1028.1h0M794.6,1028h0M793.4,1030.5h0M794.8,1030.6h0M795,1030.5h0M797.2,1024.7h0M796.1,1025.5h0M796.3,1025.3h0M796.8,1030.5h0M796.2,1031.1h0M797.5,1030.4h0M798.2,1023.1h0M799.6,1023.4h0M800,1022.4h0M798.5,1030.2h0M799.8,1030.1h0M798.4,1030.2h0M801.1,1020.5h0M801.9,1021.1h0M800.4,1020.1h0M801.9,1030.5h0M801.3,1029.9h0M802.4,1030.8h0M804.1,1018.3h0M802.6,1019.5h0M803.3,1019.1h0M804.8,1030.3h0M804,1030.1h0M803.2,1030.6h0M805.2,1023.7h0M805.5,1023.7h0M806.6,1023.8h0M805.6,1030.7h0M806.7,1030.6h0M805.1,1030.4h0M807.3,1025.3h0M807.9,1025.6h0M808.8,1025.7h0M808.5,1030.6h0M807.3,1030.6h0M807.6,1030.5h0M809.5,1025.7h0M810.5,1025.8h0M810.6,1025.7h0M811.7,1030.4h0M810.5,1030.8h0M811.3,1030.4h0M812.2,1024.7h0M811.9,1025.1h0M813.5,1024.4h0M812,1030.3h0M812.3,1030.8h0M811.8,1030.6h0M815.3,1022.9h0M815.3,1023.3h0M815.3,1023.8h0M814.2,1029.9h0M815.9,1030.8h0M815.1,1030.5h0M817.5,1020.7h0M816.5,1021h0M818.4,1019.4h0M818.3,1029.5h0M817.3,1030.1h0M817.4,1029.8h0M819,1001.1h0M819.4,995.3h0M819.6,1002.3h0M818.8,1027.3h0M820.8,1028.6h0M819.7,1028.4h0M821.2,1003.7h0M821.9,1000.4h0M821.2,1001.7h0M823,1029.9h0M821.6,1027.3h0M821.9,1029.3h0M823.3,1013.6h0M824.5,1013.9h0M824.7,1014.2h0M824.8,1029h0M824.5,1028.4h0M825.1,1029h0M827.4,1012.1h0M826.6,1015.4h0M826.2,1015.9h0M826.9,1030h0M825.6,1029.9h0M825.9,1029.3h0M829.9,1014.1h0M829.1,1013.8h0M828.5,1012.5h0M829.6,1028.9h0M829.6,1028.2h0M828.5,1028.5h0M830.2,1008h0M831.4,1008.1h0M831.2,1007.9h0M831.1,1028.6h0M832,1030.7h0M830.2,1031.1h0M833.6,1004.9h0M833,1007.3h0M833.6,1005.8h0M832.8,1027.7h0M834.6,1027.5h0M834.3,1028h0M834.9,1007.6h0M835.3,1010.4h0M836.5,1009.2h0M836.3,1028.8h0M835.6,1029.2h0M835,1027.5h0M837.6,1007.9h0M838.5,1010.2h0M837.3,1009.2h0M838.9,1027.9h0M837.2,1028.8h0M838,1028h0M839.6,1010.2h0M840.6,1008.8h0M839.4,1009.4h0M840.9,1026h0M840.4,1027.1h0M841.5,1025.8h0M843.7,1009.4h0M842.3,1009h0M843.5,1007.1h0M842.8,1026.3h0M843.4,1026.3h0M843.4,1027.7h0M845.4,1007.7h0M844.7,1008.3h0M845.3,1008.8h0M844,1027.8h0M844.2,1026.7h0M844.3,1028.2h0M848.5,1005.7h0M846.5,1004.2h0M847,1002.7h0M847.1,1027.3h0M847.1,1026.2h0M848.5,1027.3h0M849.9,1000h0M848.7,995.6h0M850,1000.1h0M849,1023.5h0M849.6,1024.1h0M849.5,1024.9h0M852.8,990.2h0M852.4,989.7h0M851.5,988.2h0M853,1020.4h0M851.1,1022.8h0M852.9,1022.5h0M853.4,820.2h0M854.1,823.8h0M854.6,819h0M855.1,1015.4h0M854.8,1018.3h0M855,1014.7h0M856.1,809.5h0M856.6,814.6h0M857.6,821.5h0M857,1005h0M857.4,1008.2h0M857.4,1001.4h0M859,858.9h0M859.1,845.2h0M859.5,861.1h0M859,999.9h0M858.8,1000.7h0M858.2,1001.1h0M861,943.5h0M862.1,941.3h0M861.9,939h0M862,1004.4h0M861.9,1003h0M862,1005.5h0M863.1,942.9h0M863.1,939.4h0M862.5,937.5h0M862.6,1010.8h0M863.3,1007.3h0M863.2,1007.5h0M866.8,942.1h0M866.3,933.4h0M865.2,934.2h0M866,1016.1h0M866.7,1016.2h0M865.9,1013.8h0M867.4,944.7h0M869,938.8h0M867.4,940.1h0M869,1016.2h0M869.1,1013.2h0M867.7,1020.4h0M870.4,944.9h0M870.7,926.8h0M871.4,938.2h0M869.8,1015.6h0M869.4,1014h0M870.7,1019.7h0M872.1,916.3h0M872.4,927.6h0M872.6,920.5h0M872.3,1016.8h0M872.6,1011.5h0M872.3,1013.6h0M876,915.1h0M875.4,912.2h0M874.6,910.9h0M874.2,1010.4h0M876.1,1008.4h0M876,1009.5h0M878.3,922.2h0M877.9,919.9h0M876.8,912.5h0M877.8,1011h0M877.6,1008.4h0M877.1,1007.5h0M879.2,936.1h0M879.1,914.7h0M879.3,935.6h0M879,1011.7h0M880.1,1012.2h0M879.8,1010.5h0M882.3,946.9h0M881.9,943.7h0M882.1,934.8h0M881.5,1009.6h0M880.8,1013.9h0M881.5,1013.5h0M884.6,921.4h0M884.6,937.4h0M885,945.7h0M884.5,1010.8h0M883.9,1013.5h0M884.5,1010.9h0M885.7,881h0M886.6,881.1h0M885.8,881.5h0M885.9,1013h0M886.2,1013.7h0M886.1,1009.8h0M889.6,913h0M889.1,899.5h0M887.7,912.7h0M887.8,1008.4h0M888,1008.4h0M887.9,1011.5h0M890.1,942.6h0M891.7,943.5h0M892,939.3h0M892.1,1008.3h0M891.8,1011.8h0M890.1,1010.3h0M893,946.2h0M894,944.9h0M893.4,929.6h0M892.5,1011.1h0M892.6,1016.2h0M893.7,1009.4h0M896.6,939.1h0M896.6,946.4h0M895.6,944.5h0M895.3,1012h0M896.3,1011.6h0M896.3,1010h0M898.4,940.9h0M897.5,937.3h0M897.2,939.3h0M898.2,1010.4h0M899,1011.5h0M898.5,1009.2h0M900.1,917.9h0M901.4,924.8h0M901.2,925h0M901.3,1004.5h0M899.9,1016.6h0M899.3,1008h0M901.8,919.1h0M902.9,917.5h0M903.5,903h0M903.2,1002.5h0M902.5,1000.4h0M901.7,999.3h0M904.4,916.8h0M903.8,911.9h0M903.9,915h0M905,1007.8h0M906,1001.4h0M904.6,1002.8h0M908.1,918.2h0M906.9,921h0M907.7,911.9h0M907.1,1009.8h0M907.9,1005.8h0M906.6,1006.5h0M908.9,918.2h0M909.9,919h0M909.6,908h0M910,1006.8h0M910.3,1005.4h0M910,1010.1h0M911.4,907h0M911.8,896.8h0M911.9,907.7h0M912.1,1007.8h0M912,1010.1h0M910.9,1006h0M915.1,906.4h0M914.7,897.7h0M913.9,906.3h0M913.4,1008.8h0M913.9,1008.9h0M913.6,1011.3h0M917,911.4h0M915.5,899.5h0M916.9,910.2h0M915.3,1011.8h0M917,1012.5h0M917,1012.9h0M919,901h0M919.6,896.7h0M918.4,900.9h0M919.3,1007.1h0M918.2,1008.7h0M917.8,1007.8h0M921.3,895.5h0M921.7,904.5h0M921.9,904.2h0M920.2,1008.3h0M920.3,1007.9h0M920.1,1013h0M923.8,902.5h0M922.7,902.7h0M923.7,907.7h0M923.6,1012.1h0M922.8,1011.2h0M922.4,1004.2h0M926.5,909.1h0M925.6,894.9h0M924.7,892.2h0M925.6,1004.6h0M925.9,1004.7h0M925.7,1004.4h0M928.5,926.7h0M928.8,923.2h0M927.6,930.5h0M927.9,995.6h0M928.9,996.6h0M928.8,999.6h0M929.4,934.1h0M929.7,940.5h0M930.3,935.5h0M931.1,1001.3h0M930.3,999.3h0M931.2,1000.6h0M932.9,941.4h0M932.6,940.7h0M932.6,938.1h0M932.8,1005.7h0M932.7,1003.4h0M932.8,1003.3h0M934.6,951.2h0M934.5,952.9h0M934.7,957.9h0M934.5,1005.2h0M935.2,1009.9h0M934.1,1004.7h0M937.4,955.6h0M936.2,950.8h0M936,955.9h0M938.1,1005.2h0M937.6,1007.7h0M936.3,1005.8h0M938.9,950.1h0M939.8,951.4h0M938.8,952.3h0M938.8,1006.7h0M938.5,1006.1h0M940.1,1006.2h0M942.7,955.9h0M941.3,954.5h0M942.4,954.4h0M941.9,1008.6h0M941.6,1007.5h0M941.3,1009.4h0M943.4,964.8h0M943.6,950.9h0M944.3,965h0M943.4,1009.8h0M944.5,1017.7h0M944.3,1010.2h0M945.8,965.5h0M947.1,964h0M947.2,966.4h0M946.3,1016.4h0M945.8,1011.1h0M945.7,1012.5h0M949.3,963.2h0M949.2,963.2h0M948.1,969.1h0M948,1011.9h0M947.6,1011.2h0M948.1,1011.1h0M951.7,963.3h0M949.9,963.9h0M951.3,967.5h0M951.9,1020.8h0M951.6,1012.9h0M950.6,1016.6h0M952.2,974.9h0M952.4,966.8h0M952.1,975.8h0M952.9,1021.9h0M952.4,1017.7h0M954.3,1016.9h0M956,966.4h0M956.4,964.8h0M954.7,966.9h0M955.3,1013.1h0M954.5,1015.7h0M955.4,1017.3h0M957.4,960h0M957.7,967.6h0M957.6,961.2h0M957.9,1013.9h0M957.9,1014.2h0M958.8,1014h0M959.2,963.1h0M961,964.2h0M960.8,960.3h0M960.7,1010.5h0M960.9,1011.5h0M961,1011h0M962,965.6h0M961.8,968.8h0M962.1,969.3h0M962.7,1015.1h0M961.4,1011.1h0M962.9,1012.2h0M965,962h0M965.4,965.2h0M965.3,965.2h0M964.4,1011.8h0M965.8,1013h0M965.4,1012.8h0M966.8,968.4h0M967.6,967.3h0M967.8,962h0M967.7,1009.7h0M966.7,1011.4h0M968,1008.7h0M969.4,961.1h0M969.7,967.4h0M970.1,966.8h0M969.3,1009.8h0M969.4,1010h0M968.6,1010.1h0M970.6,965.5h0M971.1,957.9h0M971.2,968.9h0M970.8,1016.7h0M971.9,1012.3h0M970.8,1019.8h0M973.8,972.9h0M974.4,973.8h0M973.9,971.1h0M973.1,1014.2h0M974.8,1012.6h0M974.4,1013.4h0M977.1,974.8h0M975.8,981.3h0M975.9,980.5h0M975.1,1015h0M976.1,1013.8h0M976.5,1015.3h0M979.6,980.2h0M978.2,982.7h0M977.6,983.5h0M978.7,1019.9h0M978.9,1017.1h0M978.3,1016.5h0M980.6,983.8h0M981,979.3h0M980.8,980.3h0M981.4,1016.4h0M979.8,1019h0M981.9,1017.7h0M984.1,978.4h0M982.1,983.8h0M982.7,980.3h0M982,1017.4h0M983.9,1019.1h0M982.1,1019.4h0M985.4,979h0M985.5,980.2h0M986.3,975.6h0M985.5,1017.3h0M984.6,1016.5h0M984.3,1018h0M987.7,957.1h0M987.2,965.1h0M987,969.5h0M988.6,1019.1h0M987.2,1017.9h0M988.5,1016.1h0M990.7,955.2h0M989.8,955.3h0M989.4,942.2h0M990.3,1016.7h0M990.6,1017.8h0M989.3,1014.2h0M992.9,941.4h0M993.3,925.8h0M991.6,940.8h0M993.2,1014.3h0M993,1014.9h0M991.5,1015.4h0M994.1,947.2h0M993.7,946.9h0M993.9,949.5h0M993.8,1013.5h0M995.3,1013.4h0M993.7,1022.6h0M997,956.1h0M997.1,955.8h0M996.6,956.9h0M996.6,1018.6h0M995.9,1021.6h0M996.1,1018.3h0M998.2,973.9h0M998.7,973.6h0M998.8,970.9h0M998.4,1016.6h0M998.8,1018.8h0M999.6,1019.1h0M1001.8,971.8h0M1001,961.5h0M1001.2,968.9h0M1001.1,1015.5h0M1002.4,1017h0M1000.9,1015h0M1003.2,959.7h0M1004.5,953.4h0M1004.2,963.8h0M1003.7,1015.9h0M1003,1018.3h0M1004.8,1014h0M1005.9,963.8h0M1006.2,962h0M1005.3,968.8h0M1006.7,1017.5h0M1006,1016.9h0M1005.2,1019.4h0M1008.6,975h0M1009.1,973.1h0M1009.1,972h0M1008.8,1017.3h0M1008.8,1019.1h0M1007.4,1018.3h0M1011.6,988.1h0M1009.9,989.5h0M1010.3,989.1h0M1011.8,1018.4h0M1010.9,1020.4h0M1010.7,1021.2h0M1014,988.6h0M1012.3,990.6h0M1013.8,991.4h0M1012.3,1023.7h0M1013.8,1020.6h0M1012.3,1025.7h0M1015.9,985.8h0M1015.9,988.6h0M1015.7,987.6h0M1016.3,1020.8h0M1015.3,1022.2h0M1016,1021.6h0M1018,988.7h0M1017.9,985.9h0M1018.5,979h0M1016.6,1022.4h0M1018.3,1022.8h0M1017.2,1021.1h0M1019.8,976.2h0M1020.3,977.3h0M1020.6,981.2h0M1020.4,1022h0M1020.8,1019.7h0M1020.2,1020h0M1022.7,981.8h0M1022.9,978.6h0M1022.5,983.1h0M1022.2,1018.2h0M1023.1,1018.5h0M1022.2,1017.8h0M1025.6,981.1h0M1024.6,984.7h0M1024,986.1h0M1023.6,1017.3h0M1024.4,1021.7h0M1025.4,1017.1h0M1027.2,982.5h0M1025.8,987.1h0M1027.2,986.1h0M1026.4,1021.7h0M1027.6,1017h0M1026.3,1015.9h0M1028.3,988.7h0M1030.1,988.4h0M1030,987.4h0M1028.5,1019.7h0M1029.9,1018h0M1029.8,1017.9h0M1032.2,989.5h0M1032.1,990.7h0M1031.1,986.9h0M1031,1019.8h0M1031,1023.3h0M1031.2,1022.7h0M1032.7,983.6h0M1034.5,989.7h0M1033.5,985.6h0M1034.4,1023.6h0M1033.4,1021.2h0M1034.6,1021.4h0M1036.9,981.7h0M1034.9,977.5h0M1036.5,972.9h0M1035.8,1021.1h0M1035.9,1020.9h0M1037.1,1023.2h0M1038.9,979.6h0M1038,980.2h0M1037.5,983.5h0M1037.4,1022h0M1038.4,1021.1h0M1038.6,1020.8h0M1041.6,977.8h0M1040.5,982.5h0M1040.7,983.8h0M1040.1,1021.2h0M1041.1,1021.4h0M1040.3,1018.9h0M1042,951.7h0M1042.2,954.7h0M1042.8,957.9h0M1042.8,1023.6h0M1042.1,1017.4h0M1042.7,1019.9h0M1044.6,951.1h0M1044.4,960.5h0M1045.4,941.5h0M1045.6,1015.9h0M1045.8,1021.2h0M1045.3,1022.2h0M1047.4,973.2h0M1047.9,970.9h0M1047.5,975.6h0M1048.2,1016.7h0M1046.7,1018.6h0M1046.6,1021.6h0M1049.7,987h0M1050.6,987h0M1050.8,987.5h0M1050.4,1017.9h0M1050.4,1020.8h0M1050.1,1022h0M1052.4,982.8h0M1051.7,982.2h0M1053,980.7h0M1051.2,1021h0M1051.2,1018.3h0M1052.1,1021.2h0M1054.7,984.7h0M1054.2,986.4h0M1053.9,986.2h0M1054.9,1017.7h0M1053.4,1018.4h0M1054.9,1017.5h0M1057.3,985.2h0M1057.7,987.1h0M1056.4,986.1h0M1057.5,1017.6h0M1057.6,1021.7h0M1057.1,1018.7h0M1059.8,991.4h0M1058.6,990.1h0M1059.4,990.9h0M1058.7,1022.7h0M1058.4,1022.7h0M1058.9,1019.1h0M1062,997.2h0M1061.3,996.6h0M1061.9,999.4h0M1061.9,1020.3h0M1061.2,1020.3h0M1061.2,1020.8h0M1063,1000.4h0M1064.2,1002.3h0M1062.7,999.1h0M1063.5,1022.4h0M1064.4,1021.3h0M1063.3,1023.7h0M1065.8,1000.8h0M1066,1001.4h0M1065.2,1002h0M1066.9,1022.6h0M1065.3,1022.1h0M1065.6,1024.6h0M1068.5,995.6h0M1067.7,998.3h0M1067.2,1000.3h0M1068.3,1022.5h0M1067.2,1021.7h0M1068.9,1023.6h0M1069.8,996.7h0M1071.1,994.8h0M1069.9,994.3h0M1069.8,1023.6h0M1070.4,1021.6h0M1070.3,1022.6h0M1072.2,988.5h0M1072.6,986.9h0M1072.4,992.2h0M1072.5,1023.2h0M1073.5,1021.4h0M1072.3,1021.4h0M1075,982.1h0M1075.5,979.9h0M1075.8,980.9h0M1075.7,1018.8h0M1075,1019.4h0M1075.1,1020.4h0M1077.7,974.7h0M1078.2,971.7h0M1077.1,977h0M1077.8,1017.7h0M1078.2,1018.4h0M1078.1,1023.3h0M1080.5,968.6h0M1079.5,957.3h0M1080.8,970.2h0M1079,1021.6h0M1079.7,1019h0M1079.4,1021.5h0M1081.6,956.4h0M1081.3,958.5h0M1081.8,962.7h0M1081,1019.2h0M1082.4,1016.2h0M1081.9,1013.6h0M1085.2,950h0M1085.3,952.6h0M1084.8,951.2h0M1084.8,1014.1h0M1083.2,1018.8h0M1084.5,1016.9h0M1086.7,938.7h0M1086.9,945.7h0M1086.5,940.6h0M1087.5,1011.3h0M1085.8,1012.9h0M1086.2,1016h0M1089.8,937.9h0M1088.1,939.8h0M1088.5,939.1h0M1088.6,1014.8h0M1088,1016.7h0M1089.2,1012.7h0M1090.4,938.8h0M1090.3,936h0M1091.2,933.4h0M1091.2,1018.6h0M1090.8,1014.3h0M1092.2,1013.1h0M1094.5,953h0M1092.8,947.1h0M1093.1,954.5h0M1093.4,1016.9h0M1092.7,1017.8h0M1093.5,1017.4h0M1095.1,958.7h0M1096.6,951.4h0M1095.4,944.8h0M1095.3,1019.9h0M1096.8,1024.9h0M1095.6,1018.2h0M1098.7,966.1h0M1097.1,971.9h0M1097.7,970.8h0M1098.6,1021.2h0M1097.9,1019.9h0M1098.9,1019.9h0M1100,985.8h0M1100.4,983.9h0M1100.5,983.2h0M1100.4,1021.8h0M1099.4,1026.7h0M1100.1,1022.3h0M1101.9,995.6h0M1103.5,998.8h0M1102.8,999h0M1103.3,1023.6h0M1102.2,1022.5h0M1102.1,1024.9h0M1104.6,999.9h0M1105.4,1000h0M1104.3,1000.1h0M1105.9,1025.4h0M1105,1024.3h0M1105.5,1024.3h0M1107.8,998.7h0M1107.6,995.1h0M1107.9,1000.3h0M1108.2,1023.6h0M1107.5,1022.7h0M1107,1023.5h0M1108.8,997.1h0M1108.7,995.6h0M1109.1,994.3h0M1109.1,1022.6h0M1108.6,1023.1h0M1108.9,1022h0M1111,992.2h0M1111.4,993.2h0M1111.9,992.3h0M1112.6,1020.8h0M1111.9,1020.3h0M1112.3,1022.8h0M1113.6,988.1h0M1114.3,989.2h0M1115,982.6h0M1113.8,1018.7h0M1113.1,1020.4h0M1114,1019.1h0M1116.4,992.8h0M1116.2,993.2h0M1117.2,993h0M1116.3,1019.5h0M1116.3,1025.1h0M1117.4,1019h0M1119.4,996.5h0M1118,994.5h0M1119.1,993.9h0M1117.7,1020.2h0M1118.8,1021.7h0M1119.3,1021.5h0M1121.8,995.7h0M1122.2,996.5h0M1120.6,995.1h0M1122.1,1024.9h0M1120.5,1023.5h0M1121.7,1021.9h0M1123.3,992h0M1124.4,998h0M1122.9,998h0M1124.1,1024.7h0M1123.8,1023.8h0M1124.5,1024.4h0M1126.4,998.5h0M1124.7,995.2h0M1125.5,996.7h0M1126.1,1025h0M1125.8,1025.5h0M1125.9,1023.7h0M1129,991.5h0M1128.6,996.4h0M1127.4,997.5h0M1127.2,1024.9h0M1128.1,1023.2h0M1127.9,1024.6h0M1130.5,989.3h0M1129.4,990.2h0M1130.8,993.4h0M1131.3,1024h0M1130.2,1021.9h0M1130.4,1024.2h0M1132,987.1h0M1133.1,989.6h0M1133,989.4h0M1132.1,1022h0M1131.5,1024.8h0M1132.7,1022.7h0M1135.1,987.3h0M1135.4,989.7h0M1134.3,988.4h0M1135.1,1021.2h0M1134.7,1022.5h0M1134.1,1020.6h0M1138,989.4h0M1137.9,985.1h0M1137.8,989.6h0M1136.4,1021.9h0M1137.8,1019.9h0M1138.3,1019.7h0M1139.2,993.1h0M1139,993.6h0M1138.5,992.6h0M1138.5,1022.1h0M1140.4,1021.1h0M1138.8,1020h0M1141.4,996.3h0M1140.8,998.1h0M1141.3,994h0M1141.8,1020.9h0M1141.8,1020.2h0M1142.3,1022h0M1143.1,992.4h0M1144.6,990h0M1144.1,994.4h0M1144.4,1020.1h0M1143.1,1019.8h0M1143.5,1020.3h0M1147.4,988h0M1145.8,989.2h0M1145.9,987.2h0M1145.7,1020.1h0M1146.9,1021h0M1145.9,1022.2h0M1148.6,985.5h0M1148.7,984.8h0M1149,987.5h0M1148,1022.1h0M1149,1024.3h0M1149,1021.9h0M1150.7,983.3h0M1150.3,988.3h0M1150.9,979.5h0M1151.7,1022.3h0M1151.9,1020.8h0M1151.4,1020.8h0M1153.1,990.5h0M1152.8,989.9h0M1153.6,992.4h0M1152.6,1022h0M1153.7,1020.5h0M1153.4,1020.8h0M1156,992.1h0M1154.9,993.5h0M1155.1,993h0M1155.2,1023.5h0M1155.4,1022.8h0M1154.8,1021.9h0M1157.5,990.5h0M1158.9,994.2h0M1158.2,991.7h0M1158.9,1023.5h0M1157.5,1022.5h0M1157.1,1021.8h0M1161.1,992.3h0M1159.3,995.1h0M1160.5,989.3h0M1159.4,1022.8h0M1159.2,1024h0M1160.4,1024.9h0M1163.1,991.1h0M1162.3,993.2h0M1162.7,990.5h0M1163,1022.7h0M1162,1022.3h0M1163.2,1021.8h0M1164.3,992h0M1165.8,993.5h0M1164.4,991.9h0M1165.2,1023.2h0M1163.9,1025.7h0M1165.2,1022.5h0M1167.7,998.6h0M1167.8,997h0M1167.7,995.8h0M1167.2,1023.4h0M1166.3,1024.5h0M1166.3,1024.9h0M1168.6,995.2h0M1168.9,996.8h0M1170.1,998.4h0M1170,1023.1h0M1168.8,1024.1h0M1169.5,1025.7h0M1172.1,986.9h0M1172,991h0M1172.3,992.4h0M1172.8,1024.9h0M1172,1022.7h0M1171.6,1025h0M1174.6,985.3h0M1173.4,986.6h0M1173.9,986.6h0M1174.1,1021.4h0M1173.1,1022.4h0M1173.9,1021.7h0M1177,983.2h0M1175.3,985h0M1176.8,982.7h0M1175.6,1020.5h0M1176.6,1020h0M1176.7,1022h0M1177.6,993.2h0M1178,992.9h0M1179.2,993h0M1179.2,1022.6h0M1177.6,1021.9h0M1178.6,1022.2h0M1182,990.1h0M1180.9,989.8h0M1180.1,991.1h0M1180.7,1021h0M1180.8,1020.3h0M1181.4,1019.9h0M1182.7,986.9h0M1182.2,989.8h0M1183.1,985.4h0M1182.2,1020.6h0M1183.4,1022.5h0M1182.6,1021.6h0M1184.8,986h0M1184.5,985.9h0M1185.7,986h0M1186.1,1019.9h0M1184.7,1020.3h0M1186.2,1020.7h0M1187.4,985.6h0M1186.9,988.4h0M1188.9,988.3h0M1187.8,1024.2h0M1188.7,1020.2h0M1188.3,1020.9h0M1190.2,988.1h0M1190.1,986.3h0M1189.4,988.4h0M1189.4,1024.4h0M1191.1,1022.4h0M1189.9,1020.6h0M1191.5,986.3h0M1192.1,991.9h0M1193,987.7h0M1191.8,1022.7h0M1191.3,1022.8h0M1193.2,1023.2h0M1194.2,992.5h0M1194.3,994.6h0M1194.9,995.1h0M1195.8,1025h0M1195.2,1022.2h0M1193.9,1022.5h0M1196.3,990.9h0M1197.6,990h0M1196.9,988.7h0M1196.6,1024.4h0M1197.8,1024.6h0M1197,1022h0M1200,985.7h0M1198.6,985.6h0M1199.9,986.1h0M1200.3,1022.7h0M1198.7,1023.4h0M1199.7,1022.4h0M1201.3,985.9h0M1202.7,988h0M1202.5,982.9h0M1201.4,1024.2h0M1202,1022.7h0M1202.2,1023.7h0M1203,981.1h0M1203.9,984.2h0M1204.9,986.2h0M1203.9,1021.6h0M1203.4,1022.6h0M1203.2,1022.4h0M1205.4,989.3h0M1205.9,981.6h0M1205.4,990.1h0M1206.5,1022.5h0M1206,1021.8h0M1206.2,1023.5h0M1208.1,980.6h0M1209,970h0M1208.8,986.5h0M1209,1023h0M1208.6,1020.5h0M1209.2,1020.2h0M1211.6,968.2h0M1211.3,970.1h0M1211.7,971.3h0M1211.9,1018.6h0M1210.6,1018.8h0M1211.7,1018.2h0M1212.5,975.3h0M1213.9,971h0M1213.5,973h0M1212.5,1020.5h0M1212.7,1017.2h0M1213.8,1020.8h0M1216.3,976.1h0M1215.5,970.5h0M1214.9,969.6h0M1214.8,1018.5h0M1215.4,1017.2h0M1215.2,1018.8h0M1218,985.5h0M1218.2,983.7h0M1218.8,976.3h0M1217.1,1021.7h0M1217,1024.2h0M1218.2,1019.2h0M1220.4,990.7h0M1220.9,990.8h0M1219.4,983.5h0M1219.4,1020.1h0M1219.4,1019.9h0M1219.8,1021.5h0M1223.1,986.9h0M1222.1,986h0M1223.1,989.5h0M1222,1023h0M1221.9,1019.5h0M1222.4,1020h0M1223.8,985.3h0M1224.1,987.9h0M1223.6,980.1h0M1225.2,1019.7h0M1224.1,1019.2h0M1224.5,1021.2h0M1227.1,970h0M1227,978.3h0M1226.8,978h0M1227.4,1016.9h0M1227.9,1020.7h0M1226.3,1021.2h0M1229.8,961.2h0M1228.8,956.6h0M1229.3,958.4h0M1229.8,1013.6h0M1229.5,1016.3h0M1230.1,1013.5h0M1232,935.7h0M1230.8,936.3h0M1231.2,950.7h0M1231.3,1011.4h0M1232.6,1010.8h0M1232.4,1015.2h0M1234.6,947.2h0M1233.6,937.7h0M1233.1,940.8h0M1233.9,1014h0M1234,1012.2h0M1233.9,1012h0M1235.3,961.1h0M1236.8,962.3h0M1237,955h0M1236.2,1014.7h0M1235.8,1014.8h0M1237,1017.2h0M1237.7,972.7h0M1237.7,973.4h0M1237.8,974.3h0M1237.8,1019.7h0M1238.6,1022.8h0M1237.9,1017.7h0M1241.5,957h0M1240.2,963.5h0M1241.4,956h0M1239.9,1016.4h0M1241.1,1015.5h0M1240,1016.8h0M1243.4,958.9h0M1243.5,962.3h0M1243.5,964h0M1242,1014.4h0M1242.3,1021h0M1243,1020.7h0M1244.7,965.9h0M1245.4,943.2h0M1245.2,948.1h0M1246.3,1016.1h0M1245.8,1016h0M1245.9,1018.9h0M1247.6,970.8h0M1248.4,972.6h0M1246.9,971.9h0M1246.8,1016.9h0M1248.3,1014.7h0M1247.1,1013.8h0M1250.1,973.1h0M1248.8,968.5h0M1249,974.1h0M1250.6,1014.3h0M1249.1,1013.8h0M1248.9,1015.6h0M1251.6,967.7h0M1253,971.5h0M1253.2,972.5h0M1252.4,1016.8h0M1251.1,1016h0M1252.7,1016.8h0M1255.5,969.5h0M1255.3,974.2h0M1253.5,970h0M1254.8,1023.1h0M1253.8,1021.2h0M1253.9,1019.5h0M1256.5,969.5h0M1257.6,969.3h0M1256.9,969.9h0M1257.7,1020.2h0M1256.8,1015.6h0M1257,1014.8h0M1259.5,957h0M1259.8,959h0M1259,965h0M1259.1,1020.1h0M1258.6,1017.7h0M1258.2,1016.6h0M1261.9,968.4h0M1261.4,968.6h0M1262.4,966.8h0M1261.4,1017.3h0M1262.4,1018.2h0M1261.6,1016.1h0M1263.2,969.6h0M1263.2,965.9h0M1264.3,969.6h0M1262.8,1019.3h0M1263.6,1016.5h0M1262.7,1017.5h0M1265.4,979.7h0M1266.1,979.7h0M1267,975.1h0M1264.9,1021.2h0M1266.9,1019h0M1265.5,1019.9h0M1267.9,983.9h0M1268.2,976.5h0M1268.2,985.4h0M1268.8,1018.8h0M1267.9,1018.9h0M1267.7,1018.6h0M1270.9,975h0M1270.4,978.3h0M1270.4,976h0M1270.8,1017.4h0M1271,1019.9h0M1270.2,1018.9h0M1272.2,967.3h0M1273.8,965.9h0M1272.6,969.6h0M1271.8,1015.9h0M1274,1018.2h0M1272.6,1020h0M1274.3,957.2h0M1275.7,968.5h0M1276.2,971.1h0M1276.2,1022.8h0M1274.5,1015.6h0M1275,1020.7h0M1278.6,963.7h0M1277.6,954.5h0M1278.6,963.2h0M1276.5,1018.5h0M1276.7,1015.1h0M1277.8,1013.1h0M1279.1,953.9h0M1280.2,945.5h0M1279.8,953.9h0M1279.8,1012.5h0M1279.5,1012.9h0M1279.5,1018.1h0M1281.1,957.8h0M1281.2,962.4h0M1282.1,960.4h0M1282.8,1015.4h0M1281.2,1018.1h0M1282,1013.6h0M1284.6,964.1h0M1284.4,963.2h0M1284.4,960.6h0M1284.7,1016.2h0M1284.6,1017.4h0M1283.4,1015.5h0M1285.8,945.9h0M1286.4,949.6h0M1286.3,943.7h0M1286.9,1016.5h0M1287.5,1017.7h0M1286.9,1017.1h0M1289.9,957.3h0M1288.2,950.9h0M1289.4,958.4h0M1289.1,1012.3h0M1289,1018.3h0M1289.4,1014.8h0M1290.3,965.3h0M1292.2,969.4h0M1292.1,969.5h0M1292.2,1020.5h0M1292.2,1018h0M1291.6,1014.2h0M1294.5,954.4h0M1293.8,966.2h0M1293.5,960.2h0M1292.6,1013.5h0M1293.8,1014h0M1292.7,1012.9h0M1295.3,956.6h0M1296.1,951.9h0M1295.3,958h0M1296.5,1015.9h0M1296.7,1013.4h0M1295.7,1014.7h0M1298.1,953.5h0M1297.3,953.6h0M1297.8,954.8h0M1297.4,1015.9h0M1297.4,1019.5h0M1298.2,1012.7h0M1299.6,958.4h0M1299.7,950.4h0M1300.9,954.4h0M1299.5,1015h0M1301.3,1013h0M1300.1,1016.2h0M1302.4,952.1h0M1302.5,949.2h0M1302.9,946.6h0M1301.9,1015.9h0M1303.2,1014.1h0M1303.6,1013.8h0M1305.4,936.8h0M1304.9,923.8h0M1304.3,931.1h0M1305.3,1014.6h0M1305.3,1020.6h0M1305.8,1018.3h0M1306.3,933.3h0M1307.1,926.4h0M1308.3,918.3h0M1306.4,1013.8h0M1306.4,1011.6h0M1306.4,1016.7h0M1309.2,936.8h0M1308.6,924.2h0M1310.6,927.6h0M1309.2,1014.1h0M1309.5,1011.5h0M1308.7,1011.6h0M1311.6,956.3h0M1311.5,950.6h0M1312.2,949.2h0M1311.2,1018h0M1312.1,1017.7h0M1312.9,1014.4h0M1313.8,967.1h0M1313.6,966.2h0M1315.1,960.4h0M1314.2,1013.1h0M1313.3,1012.1h0M1314.8,1020.6h0M1317.2,952.4h0M1316,960.5h0M1316.9,960.4h0M1317.2,1012.8h0M1316.7,1013h0M1317,1015.1h0M1319.9,951.9h0M1319.4,948.5h0M1318.1,953.4h0M1319.2,1013.3h0M1318.9,1011.5h0M1319.7,1021.1h0M1322.1,942.5h0M1322,955.1h0M1321.3,953.5h0M1321.8,1018h0M1321.8,1010.8h0M1321.6,1018.2h0M1322.8,960.2h0M1323.8,957.3h0M1323.6,953.6h0M1324.3,1009.2h0M1322.7,1009h0M1324.2,1011.7h0M1326.2,956.8h0M1326.9,957.8h0M1325.3,955.2h0M1326.1,1008.5h0M1325,1012.5h0M1325.2,1007.5h0M1327.2,901.5h0M1327.6,907h0M1327.2,905.9h0M1328.7,1005.9h0M1327.7,1007.2h0M1329,1008.7h0M1331.5,914.6h0M1329.6,909.4h0M1330.2,916.2h0M1330.8,1002.6h0M1329.6,1002.8h0M1329.7,1007.9h0M1332.7,910.2h0M1332.5,916.4h0M1333.4,917.4h0M1332.8,1006.6h0M1332.7,1007.4h0M1332.7,1006.6h0M1334.1,922h0M1334.8,921.3h0M1335.9,914.4h0M1335.7,1007h0M1335.9,1013.4h0M1334.5,1007.4h0M1336.5,927.3h0M1338.3,927.2h0M1337.5,929.9h0M1337.8,1010.2h0M1336.4,1011.7h0M1338.1,1015h0M1339.2,927.1h0M1340.1,933.3h0M1339.4,932.9h0M1338.6,1016.5h0M1340.1,1018.7h0M1339.3,1017.9h0M1342.1,924.6h0M1342.9,925.1h0M1341,929.9h0M1341.3,1013.4h0M1342.7,1013h0M1341.2,1012.8h0M1343.9,930.6h0M1344.9,934h0M1344.7,936.1h0M1344.7,1011.9h0M1343.9,1013.8h0M1344.1,1010.6h0M1346.2,933.7h0M1345.9,938.2h0M1346.1,930.2h0M1346.7,1011.2h0M1347.1,1011.3h0M1346.6,1009.7h0M1349.5,928.1h0M1348.3,935.7h0M1347.8,936.6h0M1348.6,1014.6h0M1348.9,1006.7h0M1349.2,1010.5h0M1350.2,934.2h0M1351.7,929.3h0M1352.1,939.5h0M1350.6,1006.8h0M1350.7,1009.3h0M1351.1,1010.1h0M1353.5,932.2h0M1352.9,938.2h0M1352.7,933.5h0M1353.1,1005.8h0M1352.4,1007.7h0M1352.9,1007.7h0M1355.5,927.7h0M1356.8,925.5h0M1355.7,910.1h0M1356.3,1007.5h0M1355.7,1009.1h0M1356.4,1008.4h0M1358.5,912.4h0M1358,912.6h0M1357.9,912h0M1357,1009.5h0M1358.3,1011h0M1358.5,1010.2h0M1360.5,908.5h0M1359.4,912.5h0M1360.5,911.2h0M1359.8,1009.3h0M1360.2,1017.6h0M1360.6,1011.9h0M1362.7,919.8h0M1362.5,917.4h0M1362,919.7h0M1362.5,1010.2h0M1362.3,1010.9h0M1361.6,1013h0M1365.9,932.6h0M1365.3,936.2h0M1364.7,936.3h0M1364.6,1020.2h0M1364.6,1010.8h0M1365.9,1014.9h0M1367.9,937h0M1367.5,932.8h0M1368.1,940h0M1367.7,1014.8h0M1366.1,1019.1h0M1367.1,1019.4h0M1369,940.1h0M1369.8,938.7h0M1370.4,928.7h0M1369.7,1011.6h0M1369.6,1011.3h0M1369.5,1010.8h0M1372.4,939.6h0M1370.7,932.2h0M1371.7,933.1h0M1372.1,1018.2h0M1372.7,1011.1h0M1371.7,1015.3h0M1373.5,938.3h0M1373.5,942.5h0M1374.8,942.8h0M1373.2,1012.6h0M1374.8,1011.7h0M1373.2,1014.1h0M1377.3,944.3h0M1375.7,937.2h0M1376.4,911h0M1376.7,1013.3h0M1376.6,1015.8h0M1376.5,1017.4h0M1378.4,931.7h0M1378.1,930.5h0M1379,935.4h0M1378,1014h0M1378.9,1014.3h0M1379.7,1017.8h0M1382.1,903.2h0M1380.3,914.9h0M1380.3,897.7h0M1380.6,1017.6h0M1381.8,1014.3h0M1381.7,1012.1h0M1383.9,899h0M1383.5,899.3h0M1383.5,901h0M1383.9,1017.8h0M1382.4,1011.1h0M1382.5,1011.6h0M1385.8,917.3h0M1384.7,917.9h0M1385.7,922.3h0M1385.6,1012.5h0M1386.4,1012h0M1384.6,1011.6h0M1387.5,933h0M1388.4,916.8h0M1388.6,932.4h0M1388.7,1010.4h0M1387.3,1012.6h0M1388.7,1015.6h0M1389.9,922.7h0M1390.3,931.6h0M1391,933.4h0M1390,1019.5h0M1390.9,1013.5h0M1389.7,1008.2h0M1391.9,897.6h0M1392.1,893.7h0M1392.6,896.8h0M1393.5,1009.4h0M1391.9,1008.2h0M1391.5,1018h0M1394.8,871h0M1395.4,873.9h0M1394,871.7h0M1394.2,1013.6h0M1395.1,1010.4h0M1395.7,1010.7h0M1397.6,865.7h0M1397.3,860.9h0M1397.5,871.1h0M1396.5,1010.3h0M1398.2,1008.9h0M1397.5,1009.5h0M1399,871h0M1399.4,877.3h0M1399.3,861h0M1399.1,1019h0M1400.4,1008.4h0M1399.1,1017.2h0M1400.8,888.1h0M1402.8,893.9h0M1401.4,885.1h0M1402.3,1011.2h0M1401.5,1016.9h0M1401.3,1011.3h0M1403.1,895.6h0M1404.5,886.8h0M1404.4,891.3h0M1404.2,1013.4h0M1404.9,1012.3h0M1404,1015.2h0M1407.2,890.3h0M1407,888.1h0M1405.6,892.1h0M1405.7,1017.4h0M1406,1015h0M1407.2,1018.8h0M1408.5,909.6h0M1408.8,910.1h0M1408.8,908.7h0M1407.9,1014.7h0M1408.4,1016.1h0M1408.2,1019.4h0M1411.9,933.8h0M1410.3,931.8h0M1411.8,936.6h0M1411.7,1012.8h0M1411.2,1014.9h0M1411.6,1013.6h0M1413.9,914.6h0M1412.5,917.6h0M1413.8,925.6h0M1412.2,1008.7h0M1413.4,1005h0M1412.8,1004.9h0M1414.5,900.8h0M1414.4,904.9h0M1415.1,901.5h0M1414.9,1000.2h0M1414.8,1004.2h0M1414.8,1000.5h0M1417.4,863.8h0M1417.8,877h0M1417.5,879.8h0M1417.5,998.1h0M1418.2,996.3h0M1417,998h0M1420.2,870.6h0M1419.5,870.4h0M1419.6,865h0M1420.2,999.9h0M1419.9,995.6h0M1420.3,995.4h0M1422,887.4h0M1423,887.9h0M1422.8,885.8h0M1423.5,994.1h0M1423,989.6h0M1422.8,990.9h0M1424.8,901.6h0M1425.5,907.1h0M1424.1,906.5h0M1425.2,998.2h0M1424.6,999h0M1425.1,996.6h0M1427.5,897.3h0M1426.8,901.8h0M1426.2,901h0M1426,1008.4h0M1426.5,1011.5h0M1427.8,1005.4h0M1429.4,837.8h0M1429.1,834.2h0M1429.6,823.3h0M1429.2,1013.2h0M1430.1,1018.2h0M1428.3,1010.4h0M1430.6,847.7h0M1432.5,852.2h0M1432.2,844.8h0M1431.4,1023.6h0M1432.2,1016.4h0M1430.6,1016.7h0M1433,910.2h0M1433.6,911.5h0M1434.9,915.3h0M1434.1,1019.4h0M1433.3,1028.6h0M1432.8,1019.3h0M1435.2,986.3h0M1435.4,988.3h0M1435.2,981.4h0M1435.1,1025.1h0M1435.4,1026.2h0M1435.2,1025.4h0M1438.6,1009.5h0M1437.6,1005.7h0M1439.2,1009.3h0M1438.1,1027.3h0M1437.8,1027.6h0M1438.6,1027.4h0M1441.9,1008.6h0M1440.7,1007h0M1441.1,1007.4h0M1440.5,1028.5h0M1441.6,1028.2h0M1441.7,1028.7h0M1442.6,1011.2h0M1444,1008.4h0M1442.1,1010.1h0M1443.9,1028h0M1443.9,1029h0M1443.6,1028.3h0M1444.8,1001h0M1446.3,999.7h0M1445.8,999.7h0M1445.2,1026.1h0M1444.3,1026.1h0M1445.9,1027.8h0M1448.7,988.9h0M1446.9,990.5h0M1447.6,990.8h0M1448.2,1023.3h0M1448.7,1022.5h0M1448.3,1025.6h0M1449.2,973h0M1449.6,974.2h0M1450.3,965h0M1450.9,1014.5h0M1450.6,1015.4h0M1451,1017h0M1452.5,952h0M1453.1,948.9h0M1453,940.2h0M1451.6,1013.5h0M1451.5,1010.9h0M1453,1013.7h0M1454.7,942.1h0M1454.1,939.7h0M1454.4,933.1h0M1455.5,1007.6h0M1454.3,1008.9h0M1454.9,1007.8h0M1455.9,936.2h0M1457.9,937.4h0M1456.9,941.7h0M1456.6,1008.3h0M1457.9,1008.7h0M1457.5,1008.1h0M1459.2,929.7h0M1458.5,943.1h0M1458.2,931.8h0M1459.7,1014.1h0M1460.1,1013.7h0M1459.9,1015.3h0M1460.5,941.3h0M1462.6,941h0M1461.3,943.2h0M1461.8,1017.1h0M1462.1,1015.6h0M1462.3,1021.7h0M653.6,685.4h0M652.2,691.1h0M653.6,694h0M652.8,697.5h0M653.2,702.8h0M652,704.8h0M652.4,714.6h0M653.6,719.5h0M652.8,721.9h0M652.4,733.2h0M651.2,741.1h0M654.1,741.1h0M650.8,749h0M653.6,749.9h0M652.2,758.8h0M650.2,760.7h0M653.6,766.6h0M655.1,773.5h0M650.2,774.5h0M855.3,597.5h0M855.3,601.4h0M855.3,651.4h0M855.3,658.3h0M855.3,661h0M855.3,673h0M855.3,709.3h0M855.3,721.1h0M855.3,727.4h0M856.5,733.6h0M856.5,739.5h0M854.9,742.1h0M856.5,745.6h0M854.9,748h0M856.5,754.4h0M856.1,773.5h0M854.9,778.4h0M856.1,781.3h0M856.1,792.1h0M855.3,804.9h0M856.5,807.8h0M855.3,813.7h0M856.5,817.6h0M876.3,877.3h0M876.3,883.2h0M876.3,888.3h0M876.3,899.5h0M911.2,880.2h0M940.1,934.2h0M940.1,943.6h0M965.6,944h0M965.6,947.5h0M1021.5,964.8h0M998.6,957.4h0M887.1,824.9h0M887.1,830.8h0M887.7,836.7h0M887.1,845.5h0M888.1,851.4h0M887.1,859.2h0M887.7,867.1h0M888.7,873h0M863.5,927.5h0M864.5,932.8h0M895,930.9h0M932.2,928.9h0M992.1,931.9h0M1090.2,904.4h0M1090.2,911.8h0M1090.2,919.1h0M1090.2,925h0M1096.7,939.1h0M1114.3,975.4h0M1176.2,955.4h0M1176.2,959.3h0M1176.2,967.2h0M1176.2,973.1h0M1176.2,977h0M1186,967.2h0M1186,971.1h0M1214.4,958.7h0M1233.5,916.7h0M1233.5,932.8h0M1245.8,937.7h0M1245.8,941.7h0M1258.6,942.6h0M1258.6,948.5h0M1259.5,955.4h0M1279.6,908.3h0M1279.6,911.2h0M1279.6,926h0M1279.6,930.9h0M1279.6,937.7h0M1279.6,943.6h0M1279.6,948.5h0M1305.7,916.1h0M1287,933.8h0M1150.2,977h0M1132,980.5h0M1305.4,916.2h0M1329.5,888.5h0M1329.5,893.9h0M1329.5,899.8h0M1343.3,912h0M1359.3,883.2h0M1359.3,887.5h0M1359.3,892.1h0M1359.3,900.3h0M1373.2,915.2h0M1373.2,919.5h0M1383.2,834.1h0M1383.2,839.5h0M1382.2,852.3h0M1383.2,856.5h0M1383.2,862.9h0M1382.2,867.2h0M1383.2,881.1h0M1382.2,885.3h0M1383.2,893.9h0M1382.2,899.2h0M1380.7,904.5h0M1396,822.4h0M1395.6,834.1h0M1399.2,836.3h0M1396,846.9h0M1398.8,851.2h0M1396,856.5h0M1399.2,861.9h0M1396,870.4h0M1397.7,876.8h0M1406.2,881.1h0M1408.4,880h0M1406.2,887.5h0M1406.2,893.9h0M1420.1,833.1h0M1420.5,845.9h0M1419.3,852.3h0M1420.1,857.6h0M1419.3,861.9h0M1418,868.3h0M1420.5,872.5h0M1429.7,828.8h0M1429.7,834.1h0M1454.2,906h0M1454.2,916.9h0M1436.1,958.9h0M1427.6,1015.4h0M1407.3,1022.9h0M133.9,848.3h0M132.6,851.6h0M134.7,854.8h0M132.7,858.1h0M134.7,861.4h0M134.1,864.6h0M134.1,867.9h0M132.6,871.2h0M135,874.5h0M134.7,877.7h0M133.6,881h0M132.7,884.3h0M134.7,887.5h0M134.1,890.8h0M132.7,894.1h0M134.2,897.3h0M132.8,900.6h0M133.1,903.9h0M134.7,907.2h0M134.6,910.4h0M133.7,913.7h0M135.1,917h0M133,920.2h0M133.3,923.5h0M132.7,926.8h0M632.1,983.7h0M631.5,987h0M632.3,990.2h0M633.5,993.5h0M633.2,996.7h0M632.1,1000h0M633.1,1003.3h0M632.3,1006.5h0M633.5,1009.8h0M632.5,1013h0M631.3,1016.3h0M654.2,735.5h0M652.8,738.7h0M653.8,741.9h0M653.4,745.1h0M654,748.3h0M653.1,751.5h0M652,754.7h0M653.7,757.9h0M653.4,761.1h0M653.3,764.3h0M652.2,767.5h0M652.8,770.7h0M654,773.9h0M652.8,777.1h0M652.5,780.3h0M654.1,783.5h0M652.8,786.7h0M654.4,789.9h0M652.7,793.2h0M653,796.4h0M652.6,799.6h0M652,802.8h0M652.6,806h0M652.8,809.2h0M654.1,812.4h0M652,815.6h0M654,818.8h0M652.9,822h0M652.5,825.2h0M653.9,828.4h0M652.1,831.6h0M653.4,834.8h0M654.2,838h0M654.3,841.2h0M652.4,844.4h0M654.3,847.6h0M653.5,850.8h0M651.9,854.1h0M652.1,857.3h0M652,860.5h0M651.8,863.7h0M653.2,866.9h0M653.4,870.1h0M653.6,873.3h0M654.2,876.5h0M652.3,879.7h0M653.6,882.9h0M651.9,886.1h0M652.8,889.3h0M652.2,892.5h0M653.2,895.7h0M652,898.9h0M652.1,902.1h0M654.2,905.3h0M652,908.5h0M653.8,911.7h0M652.5,914.9h0M652,918.2h0M652,921.4h0M652.4,924.6h0M652.9,927.8h0M652.3,931h0M652.7,934.2h0M652.3,937.4h0M652.8,940.6h0M652.7,943.8h0M653.5,947h0M672.6,897.4h0M673.7,900.6h0M674,903.9h0M673.2,907.1h0M674.5,910.4h0M674.8,913.7h0M672.7,916.9h0M673.4,920.2h0M673.9,923.5h0M674.7,926.7h0M674,930h0M672.5,933.3h0M707.4,925.8h0M706.6,929.2h0M706.9,932.5h0M708.3,935.9h0M706.7,939.3h0M706.5,942.7h0M708.3,946h0M708.2,949.4h0M707.8,952.8h0M707.4,956.2h0M707.9,959.5h0M707.7,962.9h0M708.8,966.3h0M706.8,969.6h0M708.1,973h0M708.4,976.4h0M708.1,979.8h0M706.3,983.1h0M706.9,986.5h0M820.8,996.4h0M819.3,999.9h0M819.9,1003.3h0M820.5,1006.7h0M819.3,1010.2h0M819.3,1013.6h0M820.3,1017h0M820.2,1020.5h0M857.5,811h0M857.2,814.3h0M856.9,817.5h0M857.3,820.7h0M856.4,824h0M855.5,827.2h0M855.9,830.5h0M856.4,833.7h0M857.3,837h0M855.5,840.2h0M856.4,843.5h0M856.7,846.7h0M857.2,849.9h0M855,853.2h0M855.6,856.4h0M855.5,859.7h0M856.1,862.9h0M856.9,866.2h0M856.7,869.4h0M857.1,872.6h0M857.1,875.9h0M856.9,879.1h0M856.8,882.4h0M855.7,885.6h0M855.7,888.9h0M856.2,892.1h0M857,895.4h0M855,898.6h0M855.5,901.8h0M855.2,905.1h0M855,908.3h0M855.4,911.6h0M856.3,914.8h0M855.4,918.1h0M856.2,921.3h0M855,924.6h0M855.8,927.8h0M855.8,931h0M855.4,934.3h0M856.7,937.5h0M856.6,940.8h0M855.5,944h0M857,947.3h0M856,950.5h0M856.2,953.8h0M855.9,957h0M856.9,960.2h0M855.9,963.5h0M856.4,966.7h0M857.1,970h0M857.2,973.2h0M856.6,976.5h0M857.2,979.7h0M857.2,982.9h0M855.5,986.2h0M856.1,989.4h0M857.1,992.7h0M875.2,901.3h0M875.6,904.9h0M875.1,908.5h0M875.2,912.1h0M875.5,915.8h0M874.7,919.4h0M874.7,923h0M874.3,926.6h0M888.8,828.7h0M888.2,831.9h0M888.1,835.1h0M887.6,838.3h0M886.8,841.5h0M886.6,844.7h0M887.3,848h0M887.8,851.2h0M888.7,854.4h0M887.6,857.6h0M887.8,860.8h0M888.5,864h0M886.8,867.3h0M887.6,870.5h0M887,873.7h0M886.7,876.9h0M886.3,880.1h0M887.6,883.3h0M888.5,886.6h0M886.7,889.8h0M887.4,893h0M888.5,896.2h0M887.1,899.4h0M887,902.6h0M886.5,905.9h0M888.3,909.1h0M887.1,912.3h0M887.9,915.5h0M888.3,918.7h0M887.2,921.9h0M886.7,925.1h0M886.8,928.4h0M888.1,931.6h0M991,934.6h0M992.4,937.9h0M991.7,941.2h0M992.7,944.5h0M993.2,947.8h0M991.5,951.1h0M992.9,954.4h0M992,957.7h0M1004.9,956.2h0M1005.6,959.6h0M1003.7,963h0M1005.4,966.4h0M1004.1,969.8h0M1044.2,947.4h0M1044.8,950.9h0M1045.3,954.4h0M1044.2,957.8h0M1043.6,961.3h0M1044.1,964.8h0M1044.3,968.3h0M1045.3,971.8h0M1045,975.2h0M1045.3,978.7h0M1089.3,920.9h0M1089.9,924.4h0M1089.6,927.8h0M1088.9,931.3h0M1089.6,934.7h0M1091.3,938.2h0M1089.6,941.6h0M1114.5,983.7h0M1114,989.9h0M1176.6,975.8h0M1176.4,980.6h0M1175,985.3h0M1186.2,977.8h0M1184.9,982.7h0M1214.3,964.1h0M1213.9,968h0M1213.6,971.9h0M1214.1,975.8h0M1213.6,979.7h0M1234,934.6h0M1232.9,938.1h0M1234,941.5h0M1232.9,944.9h0M1232.3,948.3h0M1234,951.8h0M1232.5,955.2h0M1233.4,958.6h0M1233.4,962.1h0M1233.1,965.5h0M1234,968.9h0M1259.3,952.3h0M1258.1,955.9h0M1259.4,959.5h0M1258.6,963.2h0M1280,940.5h0M1280,944.1h0M1279.1,947.6h0M1279.7,951.2h0M1280.6,954.8h0M1278.7,958.3h0M1287.8,935.6h0M1286.9,939.1h0M1287.2,942.5h0M1286.3,945.9h0M1287.5,949.4h0M1287,952.8h0M1286.8,956.3h0M1304.7,918.9h0M1306.2,922.4h0M1305.9,925.8h0M1304.5,929.2h0M1306.1,932.6h0M1305.9,936.1h0M1306,939.5h0M1305.6,942.9h0M1329.4,891.5h0M1328.8,894.8h0M1328.4,898.1h0M1328,901.4h0M1328.7,904.7h0M1328.1,908h0M1330.1,911.3h0M1329.2,914.6h0M1329.7,917.9h0M1329.2,921.2h0M1330.1,924.5h0M1330.4,927.9h0M1328.3,931.2h0M1329,934.5h0M1329.3,937.8h0M1329.5,941.1h0M1328.1,944.4h0M1328.7,947.7h0M1328.4,951h0M1330.5,954.3h0M1360.2,896.6h0M1358.7,900.3h0M1360.6,903.9h0M1359.2,907.6h0M1359.7,911.2h0M1360,914.9h0M1359.4,918.5h0M1382.3,892.4h0M1382.6,895.7h0M1384,898.9h0M1383.8,902.2h0M1382.4,905.5h0M1382.5,908.8h0M1382.3,912.1h0M1383.1,915.4h0M1382,918.7h0M1382.2,921.9h0M1382.8,925.2h0M1382.4,928.5h0M1397.2,856.1h0M1396.2,859.5h0M1396.7,862.9h0M1396.5,866.3h0M1396.6,869.7h0M1396.4,873h0M1394.9,876.4h0M1396.4,879.8h0M1396.5,883.2h0M1394.9,886.6h0M1396.7,890h0M1395.7,893.4h0M1395.8,896.7h0M1396.9,900.1h0M1420.4,858.2h0M1421.2,861.6h0M1420.3,865h0M1420.4,868.4h0M1420.8,871.8h0M1420.8,875.2h0M1419.4,878.6h0M1421.1,882h0M1420.8,885.4h0M1420.4,888.8h0M1420.6,892.2h0M1431.2,826.2h0M1430.3,829.5h0M1431.4,832.7h0M1430.1,835.9h0M1431.9,839.1h0M1431.9,842.3h0M1429.8,845.6h0M1430.6,848.8h0M1431.9,852h0M1431.3,855.2h0M1431.6,858.4h0M1432.2,861.7h0M1430.6,864.9h0M1431.3,868.1h0M1431.7,871.3h0M1430.9,874.5h0M1431.4,877.8h0M1432.1,881h0M1430.5,884.2h0M1430.9,887.4h0M1431.5,890.6h0M1431.6,893.8h0M1431.4,897.1h0M1430.9,900.3h0M1431.8,903.5h0M1430.2,906.7h0M1431.4,909.9h0M1432,913.2h0M1430.9,916.4h0M1431.5,919.6h0M1431.6,922.8h0M1431.8,926h0M1432.2,929.3h0M1431,932.5h0M1429.9,935.7h0M1429.8,938.9h0M1429.8,942.1h0M1429.9,945.4h0M1430,948.6h0M1431.2,951.8h0M1430.8,955h0M1430,958.2h0M1429.8,961.5h0M1431.3,964.7h0M1430.4,967.9h0M1430,971.1h0M1432.2,974.3h0M1431.6,977.6h0M1430.2,980.8h0" fill="none" stroke="#1f77b4" stroke-width="5.56" stroke-linecap="round"/>
<path d="M115.5,1003.6 116.8,1008.5 117.8,1014.6 118.1,1010.3 119.4,999.8 120.2,992.9 120.7,994.5 122,998 123.3,1001.2 123.7,1002.1 124.6,994.9 125.9,982.1 126.7,972.4 127.2,980.4 128.5,996.4 128.6,995.2 129.8,972.8 131.1,945.1 131.2,940.9 132.4,939.3 132.6,940 133.7,926.4 133.9,925.8 135,951.2 136.3,980.9 136.5,988.4 137.6,981.9 138.4,974.5 138.9,977.1 140.2,991.2 141.4,1000.1 141.5,999.9 142.8,1011.1 143.8,1019.4 144.1,1020 145.4,1025.3 146.3,1029.5 146.7,1029.2 148,1029.4 149.3,1029.4 150.6,1029.6 151.9,1029.8 153.2,1029.9 154.5,1029.7 155.8,1029.8 157.1,1029.9 158.4,1029.7 159.1,1029.6 159.7,1029.9 161,1030 162.3,1030 163.6,1030.2 164.9,1030.3 166.2,1030.2 167.5,1030.4 168.8,1030.4 170.1,1030.3 171.4,1030.6 172.7,1030.8 174,1030.7 175.3,1030.9 176.6,1031.2 177.9,1031.4 179.2,1031.4 180.5,1031.6 181.8,1031.5 183.1,1031.6 184.4,1031.5 185.7,1031.6 187,1031.6 188.3,1031.8 188.5,1031.7 189.6,1031.7 190.9,1031.9 192.2,1032 193.5,1032 194.8,1032 196.1,1032.1 197.4,1032.1 198.7,1032.1 200,1032.3 201.3,1032.3 202.6,1032.5 203.9,1032.3 205.2,1032.3 206.5,1032.2 207.8,1032.3 208.1,1032.3 209.1,1032.4 210.4,1032.3 211.7,1032.3 213,1032.2 214.3,1032.1 215.6,1032 216.9,1031.9 218.2,1031.9 219.5,1031.9 220.8,1031.8 222.1,1031.9 223.4,1031.9 224.7,1031.8 226,1031.9 227.3,1031.9 228.6,1031.8 229.9,1031.8 231.2,1031.8 232.5,1031.7 233.8,1031.7 235.1,1031.6 236.4,1031.4 237.6,1031.4 237.7,1031.5 239,1031.4 240.3,1031.3 241.6,1031.2 242.9,1031.1 244.2,1030.9 245.5,1030.8 246.8,1030.6 248.1,1030.6 249.4,1030.7 250.7,1030.5 252,1030.4 253.3,1030.3 254.6,1030.4 255.9,1030.4 257.2,1030.3 257.2,1030.2 258.5,1030.3 259.8,1030.1 261.1,1030.1 262.4,1030.3 263.7,1030.3 265,1030.5 266.3,1030.5 267.6,1030.7 268.9,1030.6 270.2,1030.9 271.5,1031.1 272.8,1031.3 274.1,1031.3 275.4,1031.6 276.7,1031.8 276.8,1031.8 278,1031.6 279.3,1031.8 280.6,1031.5 281.9,1031.6 283.2,1031.7 284.5,1032 285.8,1031.9 287.1,1032 288.4,1031.8 289.7,1031.7 291,1031.4 292.3,1031.5 293.6,1031.5 294.9,1031.6 296.2,1031.7 297.5,1031.8 298.8,1031.7 300.1,1031.9 301.4,1031.9 302.7,1031.7 304,1031.5 305.3,1031.5 306.2,1031.4 306.6,1031.3 307.9,1031.4 309.2,1031.4 310.5,1031.3 311.8,1031.4 313.1,1031.5 314.4,1031.4 315.7,1031.3 317,1031.4 318.3,1031.2 319.6,1030.9 320.9,1030.9 322.2,1030.8 323.5,1030.7 324.8,1030.7 326.1,1030.6 327.4,1030.5 328.7,1030.7 330,1030.6 331.3,1030.7 332.6,1030.8 333.9,1030.7 335.2,1030.6 336.5,1030.6 337.8,1030.6 339.1,1030.5 340.4,1030.5 341.7,1030.4 343,1030.4 343.5,1030.1 344.3,1030.4 345.6,1030.4 346.9,1030.6 348.2,1030.6 349.5,1030.8 350.8,1030.6 352.1,1030.8 353.4,1031 354.7,1031.2 356,1031.3 357.3,1031.5 358.6,1031.5 359.2,1031.5 359.9,1031.6 361,1031.5 361.2,1031.5 362.5,1031.5 363.8,1031.5 365.1,1031.6 366.4,1031.7 367.7,1031.7 369,1031.7 370.3,1031.7 371.6,1031.5 372.9,1031.4 374.2,1031.4 375.5,1031.5 376.8,1031.5 378.1,1031.6 379.4,1031.7 380.7,1031.7 382,1031.8 383.3,1031.7 384.6,1031.7 385.9,1031.6 387.2,1031.7 388.5,1031.7 389.8,1031.8 391.1,1031.9 392.4,1032 393.7,1032.1 395,1032.1 396.3,1032.1 397.6,1032.2 398.9,1032.1 399.2,1032.1 400.2,1032 401.5,1031.9 402.8,1031.7 404.1,1031.8 405.4,1031.7 406.7,1031.7 408,1031.6 409.3,1031.7 410.6,1031.6 411.9,1031.5 413.2,1031.5 414.5,1031.5 415.8,1031.4 417.1,1031.5 418.4,1031.6 419.7,1031.6 421,1031.4 422.3,1031.4 423.6,1031.2 424.9,1031.1 426.2,1030.9 426.7,1031 427.5,1031.1 428.8,1030.9 430.1,1030.6 431.4,1030.5 432.7,1030.2 434,1029.7 435.3,1029.7 436.6,1029.7 437.9,1029.7 438.5,1029.8 439.2,1030.1 440.5,1030 441.8,1029.8 443.1,1029.7 444.4,1029.3 445.7,1029.5 447,1029.7 448.3,1029.6 449.6,1029.9 450.3,1029.9 450.9,1029.6 452.2,1029 453.5,1028.6 454.8,1027.7 456.1,1027.4 456.1,1027.6 457.4,1028.2 458.7,1028.9 460,1029.7 460.1,1029.6 461.3,1029.1 462.6,1029.2 463.9,1029.1 465.2,1029.1 466.5,1029.2 467.8,1029.3 469.1,1029.3 470.4,1029.5 471.7,1029.4 473,1029.2 474.3,1029.3 475.6,1029.2 476.9,1028.9 478.2,1028.7 479.5,1028.9 480.8,1029.6 482.1,1029.4 483.4,1029.7 484.7,1030.2 486,1029.9 487.3,1029.2 488.6,1029.5 489.9,1029.4 491.2,1029.2 492.5,1029.2 493.8,1029.5 495.1,1029.4 496.4,1029.1 497.4,1029.2 497.7,1029.1 499,1028.7 500.3,1028.4 501.6,1028.7 502.9,1028.3 504.2,1028.5 505.5,1028.6 506.8,1028.8 508.1,1028.9 509.4,1029 510.7,1029 512,1028.9 513.3,1028.7 514.6,1028.4 515.9,1028.4 517.2,1028.5 518.5,1028.7 519.8,1028.8 521.1,1029 522.4,1028.9 523.7,1028.8 525,1028.5 526.3,1028.6 527.6,1028.4 528.8,1028.5 528.9,1028.3 530.2,1027.8 531.5,1027 532.8,1026.3 534.1,1025.6 534.6,1025.4 535.4,1025.4 536.7,1025.5 538,1026.1 539.3,1026.4 540.6,1026.7 541.9,1026.9 542.5,1027.3 543.2,1027.5 544.5,1027.6 545.8,1027.6 547.1,1027.7 548.4,1027 549.7,1026.3 551,1026 552.3,1025.6 553.6,1025.7 554.9,1025.7 556.2,1025.8 556.2,1025.7 557.5,1025.5 558.8,1024.8 560.1,1025.1 561.4,1024.7 562.7,1024.3 564,1024.3 565.3,1024.3 566.6,1024.2 567.9,1024.2 568,1024.5 569.2,1024.7 570.5,1025.2 571.8,1024.8 573.1,1025 574.4,1025.4 575.7,1025.6 575.9,1025.7 577,1026.3 578.3,1026.2 579.6,1026.2 580.9,1026.3 582.2,1026.1 583.5,1025.2 583.7,1025.5 584.8,1025.2 586.1,1024.7 587.4,1024.5 588.7,1024.7 590,1024.6 591.3,1024.9 592.6,1025 593.9,1025.5 595.2,1026 595.5,1026.5 596.5,1026.1 597.8,1026.3 599.1,1026 600.4,1025.8 601.7,1025.7 603,1026.2 604.3,1026.4 605.6,1027.2 606.9,1027.4 608.2,1027.4 609.2,1027.4 609.5,1027.3 610.6,1026.7 610.8,1026.6 612.1,1026.4 613.4,1026.3 614.7,1026.3 616,1026 617.3,1025.4 617.9,1025.4 618.6,1025.4 619.9,1025.2 621.2,1025.3 622.5,1026 623.8,1025.9 625.1,1025.7 626.4,1025.5 627.7,1025.7 628.6,1025.5 629,1023.3 630.3,1015.4 631.6,1008.8 632,1006.8 632.9,1011.7 634.2,1019.1 634.5,1020.5 635.5,1018.9 636.8,1017.3 638.1,1015.1 639.4,1012 639.4,1014.1 640.7,1013.3 642,1011.9 643.3,1011.6 643.4,1011.6 644.6,1007 645.3,1005.1 645.9,1008 647.2,1012.1 647.7,1016.2 648.5,952.4 649.2,893 649.8,880.2 650.8,850.2 651.1,850.9 652.4,840.3 653.2,834.3 653.7,841.1 655,872.1 655.1,873.4 656.3,920.9 657.1,953.1 657.6,966 658.7,983.1 658.9,982.8 660,978.1 660.2,980.1 661.5,998.2 661.6,998.9 662.8,992.7 664,983.7 664.1,982.9 665.4,968 666.7,955.4 667.3,948.7 668,954.4 669.3,963.1 669.9,967.9 670.6,971 671.9,974.8 672.8,979.2 673.2,974.7 674.5,961.5 674.8,958.5 675.8,973.4 676.7,989.3 677.1,985.9 678.3,969.7 678.4,972.9 679.7,989.6 681,1004.1 681,1002.9 682.3,1000.1 683.6,998.9 684.9,989.2 685.5,984.8 686.2,989.4 687.5,997.4 688.1,997.7 688.8,992.8 690.1,980.1 690.1,980.5 691.4,979.8 692.4,981.6 692.7,984.8 694,979.1 694.8,977.9 695.3,983.1 696.6,998.9 697.3,1000.6 697.9,1002.8 699.2,1002.3 700.3,1001.7 700.5,1002.3 701.8,1006.9 702.2,1007.1 703.1,1000.1 704.4,990.4 705.2,984.1 705.7,978.3 707,969.3 707.5,966.3 708.3,977.6 709.6,993.7 709.7,996.7 710.9,1018.2 711.1,1020.8 712.2,1018.9 713,1017.7 713.5,1014.6 714.8,1005.8 715,1005 716.1,1000.5 717,996.1 717.4,986.8 718.7,966.5 718.9,958.9 720,963 720.9,966.9 721.3,964.3 722.6,953.9 723.8,950.5 723.9,950.1 725.2,963.5 725.8,972.4 726.5,966.4 727.1,959.6 727.8,976.4 728.3,990.6 729.1,1007.7 729.7,1019.4 730.4,1021 731.7,1023.9 732.6,1024.2 733,1024 734.3,1024.5 735.6,1024.3 736.9,1024.4 737.5,1024.4 738.2,1024.2 739.5,1024.5 740.8,1024.8 742.1,1025.3 743.4,1025.5 744.7,1025.8 745.4,1026.1 746,1025.6 747.3,1024.3 748.6,1023.1 749.3,1022.5 749.9,1022.1 751.2,1021.9 752.5,1021.7 753.8,1021.5 755.1,1021.1 756.2,1021.3 756.4,1021.1 757.7,1020 759,1018.8 759.5,1018.6 760.3,1018.7 761.6,1019.7 762.9,1020.9 764.2,1022.2 765,1023 765.5,1023.4 766.8,1023.9 768.1,1024.4 769.4,1025 770.7,1025.3 772,1025.7 772.9,1026 773.3,1026.1 774.6,1026.1 775.9,1026.3 777.2,1026.8 778.5,1027 779.8,1027 781.1,1027 782.4,1026.9 783.7,1027.1 785,1027 786.3,1027.3 786.6,1027.3 787.6,1027.5 788.9,1027.5 790.2,1027.8 791.5,1028 792.8,1028.3 794.1,1028.4 795.4,1028.5 796.4,1028.5 796.7,1028.1 798,1027.7 799.3,1027.5 800.4,1027.2 800.6,1026.7 801.9,1025.4 802.9,1024.3 803.2,1023.7 804.5,1025.6 805.2,1027 805.8,1026.8 807.1,1027 808.4,1027.3 809.7,1027.5 811,1027.7 812.1,1027.9 812.3,1027.7 813.6,1027.2 814.9,1026.7 816.2,1026.1 817.5,1025.6 818,1025.3 818.8,1024.5 820.1,1023.2 821.4,1021.9 822.7,1020.2 822.9,1020.6 824,1021.2 825.3,1022 825.9,1022.4 826.6,1022.1 827.9,1021.3 829.2,1020.9 829.8,1021 830.5,1020 831.8,1017.8 833.1,1014.9 833.1,1013.9 834.4,1015.8 835.7,1018 835.7,1018.2 837,1018.9 838.3,1019.9 839.6,1021.1 840,1021 840.9,1021 842.2,1021.7 843.5,1021.7 844.8,1020.9 846.1,1021.3 846.9,1021.4 847.4,1020.1 848.7,1016.9 850,1015 850.8,1013 851.3,1006.4 852.6,987.8 852.8,987.5 853.9,915.1 854.1,898.2 855.2,862.4 855.7,842.1 856.5,866.9 857.3,895.8 857.8,917.1 859.1,966.6 859.2,973.1 860.4,982.4 861.2,986.8 861.7,985.5 863,982 863.5,981.2 864.3,983.1 865.5,985.3 865.6,986.8 866.9,983.4 867.5,983.1 868.2,985.8 869.5,993.6 870.4,999.9 870.8,998 872.1,985.1 873,978.3 873.4,975 874.7,963.6 875.7,955.1 876,955.7 877.3,973.2 878.3,983.7 878.6,986.5 879.9,992.2 880.2,993.8 881.2,992.4 882.5,990.8 883.2,988.4 883.8,983.2 885.1,976.6 885.1,975.3 886.4,954.3 887.5,937.2 887.7,938.6 889,959.1 890,972.4 890.3,969.6 891.6,975 892.9,980.8 893,982.7 894.2,980.8 895,979.5 895.5,979.9 896.8,987.6 897.3,988.2 898.1,980.2 899.4,969.6 899.9,961.3 900.7,958.6 901.2,959.2 902,964.3 903.2,971.6 903.3,973.8 904.6,969.2 905.1,964.4 905.9,970.9 907.1,977.9 907.2,978.2 908.5,977.8 909.1,978.5 909.8,969.8 911.1,959.2 911.6,955.2 912.4,961.2 913.7,970.6 914.2,974.1 915,972.3 916.3,970.5 916.9,966.5 917.6,960.7 918.9,951.4 920.2,961.1 920.9,965.3 921.5,968.1 922.8,969 923.4,971.7 924.1,964.5 925.4,956.8 925.4,959.4 926.7,960.9 927.3,962 928,966.9 929.3,971.2 930.3,977 930.6,980.1 931.9,981.2 933.2,984.6 933.2,986.6 934.5,990.3 935.8,993.6 936.5,997.4 937.1,995.7 938.4,992 939.7,984.7 940.5,982.7 941,981 942.3,982.8 943.6,983.8 944,982.8 944.9,980.7 946.2,981.8 947,983.3 947.5,985 948.8,989.2 950.1,994.3 950.9,996.8 951.4,996.5 952.7,999.1 954,1001.6 954.8,1001.3 955.3,1000.2 956.6,996 957.7,991.3 957.9,991.4 959.2,990.6 960.5,990.7 961.7,991.2 961.8,991.3 963.1,989.5 964.4,989.8 965.7,986.9 966.6,985.7 967,986.2 968.3,988.8 969.6,991.2 970.5,995.3 970.9,995.4 972.2,999.5 973.5,999.5 974.4,1001.8 974.8,1001.6 976.1,1001.7 977.4,999 977.4,998.7 978.7,998.4 980,999.5 981.3,999.6 982.3,1001.1 982.6,1003.3 983.9,1005.1 985.2,1005.8 986.5,1008.3 987.2,1006.2 987.8,1001 989.1,990.5 990.4,982.4 990.7,983.4 991.7,989.2 993,993.4 994.3,999.8 995,1001.3 995.6,998.6 996.9,998 998,997.3 998.2,995.7 999.5,996.6 1000.8,1001 1001.9,1003 1002.1,1003.8 1003.4,997.9 1004.7,992.6 1005.8,985.3 1006,987 1007.3,994.6 1008.6,1004.4 1009.1,1008.4 1009.9,1009.3 1011.2,1008.9 1011.7,1007.6 1012.5,1007.9 1013.8,1010.2 1014.6,1011.7 1015.1,1010.1 1016.4,1008 1017.7,1004.4 1019,1000.2 1019,1000.7 1020.3,1000.5 1021.5,1000.3 1021.6,1001 1022.9,999.8 1023.9,996.9 1024.2,998 1025.5,1000.5 1026.8,1002.4 1027.4,1003.3 1028.1,1005.2 1029.4,1006.7 1030.7,1008.9 1032,1011.8 1033.3,1013.4 1034.6,1004.7 1035.9,998.9 1036.2,998.5 1037.2,1003 1038.5,1009.4 1038.6,1011.1 1039.8,1009.1 1041.1,1005.4 1041.1,1005.7 1042.4,1000.2 1043.7,995.7 1044.1,993.9 1045,998.6 1046.3,1003.3 1047,1005.8 1047.6,1006.2 1048.9,1007.1 1049.6,1007.9 1050.2,1005.3 1051,1004.8 1051.5,1005.8 1052.8,1008.7 1052.9,1007.9 1054.1,1004.2 1055.4,998.4 1055.5,997.7 1056.7,1001.4 1058,1006.4 1058.2,1006.7 1059.3,1008.3 1060.6,1011.4 1061.9,1013.2 1062.7,1014.5 1063.2,1014.3 1064.5,1013.7 1065.8,1013.2 1066.7,1013.8 1067.1,1012.5 1068.4,1009.2 1068.6,1008.7 1069.7,1011.5 1070,1012.4 1071,1012 1072.3,1010.6 1073.6,1011.8 1074.9,1012.2 1076.2,1012.3 1077.5,1013.2 1078.8,1013.6 1080,1011.3 1080.1,1008.5 1081.4,994.6 1082.3,984.5 1082.7,987.4 1084,1000.9 1084.3,1003.2 1085.3,993.4 1086.6,982.6 1086.9,980.2 1087.9,974.5 1089.2,969.2 1089.8,964.5 1090.5,972.3 1091.8,984.5 1092.8,995.9 1093.1,994.4 1094.4,991.2 1095.7,983.1 1095.7,985.1 1097,992.1 1098.3,1000.4 1098.6,1001.9 1099.6,1004.6 1100.9,1007.5 1102.2,1014.5 1102.6,1016.4 1103.5,1015.9 1104.8,1014.8 1106.1,1015.9 1106.5,1014.9 1107.4,1012.5 1108.7,1010.5 1110,1010.2 1110.4,1009.4 1111.3,1007.4 1112.6,1005.3 1113.9,1001.4 1114.3,999.4 1115.2,1001.4 1116.5,1005.6 1117.3,1007.5 1117.8,1007.3 1119.1,1007.9 1120.4,1009.4 1121.7,1010 1122.2,1010.6 1123,1010.4 1124.3,1009.7 1125.1,1008.6 1125.6,1009.4 1126.9,1012.1 1128.2,1015.6 1128.7,1016.5 1129.5,1014.1 1130.8,1010.3 1132.1,1006 1132.6,1004.9 1133.4,1006.5 1134.7,1008.6 1135.9,1009.6 1136,1009.8 1137.3,1011.9 1138.6,1014 1138.9,1014.1 1139.9,1014.5 1141.2,1016 1141.2,1015.6 1142.5,1013.5 1143.8,1013.3 1143.8,1013.7 1145.1,1010.2 1146.4,1008.8 1147.1,1007 1147.7,1006.9 1149,1006.9 1150.3,1006.5 1150.6,1003.7 1151.6,1005.8 1152.9,1005.6 1154.2,1007 1155.5,1007.8 1155.5,1008.1 1156.8,1007.2 1158.1,1008.3 1158.5,1008.6 1159.4,1011.5 1160.7,1015.3 1161.4,1016.6 1162,1016.2 1163.3,1015.4 1164.6,1013.1 1164.8,1011.4 1165.9,1014.9 1167.2,1018 1167.3,1017.6 1168.5,1014.1 1169.8,1010 1170.7,1007 1171.1,1007.5 1172.4,1006 1173.7,1005 1173.8,1006.2 1175,1008.8 1176.2,1007.8 1176.3,1005.6 1177.6,1006.2 1178.9,1007.5 1179.1,1007.4 1180.2,1007.6 1181.5,1008.5 1182,1008.7 1182.8,1006.6 1184.1,1004.9 1185.4,1001.3 1186.4,1000.5 1186.7,1001.5 1188,1006.2 1188.9,1007.3 1189.3,1007.2 1190.6,1007 1191.9,1007.5 1192.8,1007.5 1193.2,1008.6 1194.5,1009.7 1195.8,1011 1197.1,1012.6 1197.7,1013.1 1198.4,1012.1 1199.7,1011.6 1201,1009.1 1201.7,1009.7 1202.3,1011.4 1203.6,1015.5 1204,1016.6 1204.9,1016.5 1206.2,1014.2 1207.5,1013.3 1207.5,1013.1 1208.8,1005.7 1210.1,997.9 1210.5,995.3 1211.4,999.8 1212.5,1004.9 1212.7,1004.7 1214,1000.9 1214.4,998.7 1215.3,1002.3 1216.4,1007.2 1216.6,1007.4 1217.9,1006.3 1219.2,1006.8 1220.3,1005.4 1220.5,1004.3 1221.8,1007.2 1223.1,1010.1 1223.2,1009.8 1224.4,1007.3 1225.7,1005 1226.2,1000.8 1227,1003.3 1228.2,1006 1228.3,1002.4 1229.6,989.3 1230.7,980.5 1230.9,981.7 1232.2,983.8 1233.1,987.1 1233.5,989.2 1234.8,998.8 1236,1003.9 1236.1,1003 1237.4,1001.4 1238.7,999.9 1239,1000.1 1240,994.7 1241.3,987 1241.3,987.7 1242.6,993.3 1243.8,998.7 1243.9,998.6 1245.2,997.3 1245.8,994.5 1246.5,996.9 1247.8,999.4 1248.8,1003.9 1249.1,1004.8 1250.4,1008.9 1251.7,1007.7 1252.3,1007.9 1253,1004.1 1254.3,998.8 1254.7,997.7 1255.6,995.7 1256.9,988.8 1258.2,983 1258.2,982.6 1259.5,987.1 1260.8,992.8 1261.5,997.1 1262.1,996.7 1263.4,999 1264.7,1000.8 1265.4,1002.4 1266,1001.9 1267.3,1004.1 1268.6,1006.6 1268.8,1007 1269.9,1004.1 1271.2,1002.1 1271.9,1001 1272.5,999.5 1273.8,995.6 1274.7,994.3 1275.1,998.8 1276.4,1008 1276.6,1008.3 1277.7,1000.6 1279,992.8 1279.2,987.1 1280.3,990.9 1281.1,998.7 1281.6,997.9 1282.9,996.7 1284.1,996.9 1284.2,996.5 1285.5,989.6 1286.8,987.3 1287,983.3 1288.1,989.2 1289.4,993 1290,994.8 1290.7,997.8 1292,1003.1 1292.9,1006.1 1293.3,1004.8 1294.6,999.2 1295.9,990.1 1295.9,993 1297.2,986.1 1298.4,980.5 1298.5,980.5 1299.8,989.2 1300.8,993.9 1301.1,992.6 1302.4,987.4 1303.7,982.4 1304.7,979.9 1305,983.5 1306.3,992.7 1306.7,995.3 1307.6,986 1308.9,970.1 1309,967.1 1310.2,979.1 1311.5,994 1311.5,992.6 1312.8,992.7 1314.1,992.1 1314.5,991.2 1315.4,989.4 1316.7,987.4 1317.4,985.5 1318,987.9 1319.3,993 1319.8,991.1 1320.6,989.8 1321.8,990.1 1321.9,989.1 1323.2,993.4 1324.3,998.5 1324.5,998.5 1325.8,984.6 1326.3,981.5 1327.1,971.5 1328.2,963.1 1328.4,961.5 1329.5,957.6 1329.7,957.6 1331,964.7 1332.2,971.5 1332.3,970.4 1333.6,965.5 1334.8,961.2 1334.9,963.4 1336.2,969.6 1337.3,978.6 1337.5,979.5 1338.8,981.2 1340.1,979.2 1340.1,984 1341.4,983.5 1342.3,979.9 1342.7,982.4 1344,994.2 1344.4,994.5 1345.3,990.1 1346.5,982.5 1346.6,983.2 1347.9,982 1349.2,985.2 1349.3,983.3 1350.5,979.2 1351.8,973.2 1353.1,972 1353.6,970.7 1354.4,974 1355.7,977.1 1356.5,981.5 1357,976.8 1358.3,966.8 1359.6,955.7 1360,952.2 1360.9,959.6 1362.2,971.1 1362.5,972.1 1363.5,971.6 1364.7,973.8 1364.8,974.8 1366.1,983.1 1366.8,987.8 1367.4,990.9 1368.7,996.8 1368.9,998.1 1370,991.7 1371.3,983 1371.5,982.5 1372.6,982.4 1373.6,981.8 1373.9,977.2 1375.2,982.7 1376.4,987.5 1376.5,986.3 1377.8,983.5 1379.1,985 1379.6,983.9 1380.4,973.5 1381.7,952.4 1382.8,932.8 1383,936 1384.3,964.3 1385.3,983.4 1385.6,982.1 1386.9,974 1387.1,972.9 1388.2,984.4 1388.5,989.4 1389.5,983.3 1390.7,972.9 1390.8,971.7 1392.1,968.2 1392.8,966 1393.4,948.1 1394.7,915.3 1395,910 1396,933.4 1397.3,965.4 1397.3,964.5 1398.6,947 1399.4,935 1399.9,939.2 1401.2,955.1 1402,963.3 1402.5,962 1403.8,962.1 1404.1,964.1 1405.1,967.1 1406.4,976.9 1407.3,981.4 1407.7,980 1409,976.5 1410.3,975.5 1410.5,973.6 1411.6,978.7 1412.9,983.9 1413.3,986.4 1414.2,980 1415.5,973.8 1415.8,968.7 1416.8,956.4 1418,944.4 1418.1,945.8 1419.4,938.7 1420.1,935.1 1420.7,941 1422,949.8 1422.7,952.9 1423.3,955.4 1424.6,969.4 1425,973.2 1425.9,969.8 1427.2,965.8 1427.6,967.2 1428.5,949.7 1429.7,926.6 1429.8,927.1 1431.1,957.6 1431.8,974.1 1432.4,978.9 1433.7,1000.5 1434,1006.5 1435,1011.6 1436.1,1021.4 1436.3,1024.2 1437.6,1024.6 1438.9,1025.6 1440.2,1027.1 1440.4,1026.7 1441.5,1025.1 1442.8,1023.7 1444.1,1021.4 1444.7,1020.2 1445.4,1019.5 1446.7,1018.5 1447.8,1016.7 1448,1017.3 1449.3,1009.9 1450,1005.7 1450.6,1000.8 1451.9,984.9 1452.1,979.7 1453.2,972.5 1453.8,969 1454.5,968.8 1455.8,978.6 1456.4,984 1457.1,980.5 1458.1,977 1458.4,975.7 1459.7,978.1 1460.7,979.9 1461,981.3 1462.3,984.7 1462.3,988.9" fill="none" stroke="#ff7f0e" stroke-width="2.08" stroke-linejoin="round" stroke-linecap="butt"/>
</g>
<path d="M115.5,1054.5v5.2M284.5,1054.5v5.2M452.5,1054.5v5.2M620.5,1054.5v5.2M789.5,1054.5v5.2M957.5,1054.5v5.2M1125.5,1054.5v5.2M1294.5,1054.5v5.2M115.5,1033.5h-5.2M115.5,931.5h-5.2M115.5,829.5h-5.2M115.5,727.5h-5.2M115.5,624.5h-5.2" fill="none" stroke="#000" stroke-width="1.11"/>
<rect x="115.5" y="575.5" width="1347.0" height="479.0" fill="none" stroke="#000" stroke-width="1.11"/>
<text transform="translate(105.6,1041.1) scale(1,0.965)" text-anchor="end" font-size="22.22">0.00</text>
<text transform="translate(105.6,939.1) scale(1,0.965)" text-anchor="end" font-size="22.22">0.05</text>
<text transform="translate(105.6,837.1) scale(1,0.965)" text-anchor="end" font-size="22.22">0.10</text>
<text transform="translate(105.6,735.1) scale(1,0.965)" text-anchor="end" font-size="22.22">0.15</text>
<text transform="translate(105.6,632.1) scale(1,0.965)" text-anchor="end" font-size="22.22">0.20</text>
<rect x="1047.4" y="584.8" width="405.9" height="80.4" rx="2.7" fill="#fff" fill-opacity="0.8" stroke="#ccc" stroke-opacity="0.8" stroke-width="1.07"/>
<circle cx="1073.3" cy="599.6" r="2.75" fill="#1f77b4"/>
<path d="M1053.3,639.1h38.8" stroke="#ff7f0e" stroke-width="2" fill="none"/>
<text transform="translate(1106.1,605.8) scale(1,0.965)" font-size="18.52">Raw Data</text>
<text transform="translate(1106.1,632.8) scale(1,0.965)" font-size="18.52">Butterworth Filtered Data</text>
<text transform="translate(1106.1,654.2) scale(1,0.965)" font-size="18.52">(N=6, Tc=3.3333 min, Type: low)</text>
<text transform="translate(784.6,29.8) scale(1,0.965)" text-anchor="middle" font-size="26.67">10.0 MHz N0000033</text>
<text transform="translate(115.5,29.8) scale(1,0.965)" font-size="26.67">(a)</text>
<text transform="translate(115.5,566.7) scale(1,0.965)" font-size="26.67">(b)</text>
<text transform="translate(60.9,278.5) rotate(-90) scale(1,0.965)" text-anchor="middle" font-size="22.22">Doppler Shift [Hz]</text>
<text transform="translate(39.9,815.7) rotate(-90) scale(1,0.965)" text-anchor="middle" font-size="22.22">Peak Voltage [V]</text>
<text transform="translate(113.0,1078.5) rotate(-30) scale(1,0.965)" text-anchor="end" font-size="22.22">11-24 00</text>
<text transform="translate(282.0,1078.5) rotate(-30) scale(1,0.965)" text-anchor="end" font-size="22.22">11-24 03</text>
<text transform="translate(450.0,1078.5) rotate(-30) scale(1,0.965)" text-anchor="end" font-size="22.22">11-24 06</text>
<text transform="translate(618.0,1078.5) rotate(-30) scale(1,0.965)" text-anchor="end" font-size="22.22">11-24 09</text>
<text transform="translate(787.0,1078.5) rotate(-30) scale(1,0.965)" text-anchor="end" font-size="22.22">11-24 12</text>
<text transform="translate(955.0,1078.5) rotate(-30) scale(1,0.965)" text-anchor="end" font-size="22.22">11-24 15</text>
<text transform="translate(1123.0,1078.5) rotate(-30) scale(1,0.965)" text-anchor="end" font-size="22.22">11-24 18</text>
<text transform="translate(1292.0,1078.5) rotate(-30) scale(1,0.965)" text-anchor="end" font-size="22.22">11-24 21</text>
<text transform="translate(789.0,1158.5) scale(1,0.965)" text-anchor="middle" font-size="22.22">UTC</text>
</svg>
</body></html>
